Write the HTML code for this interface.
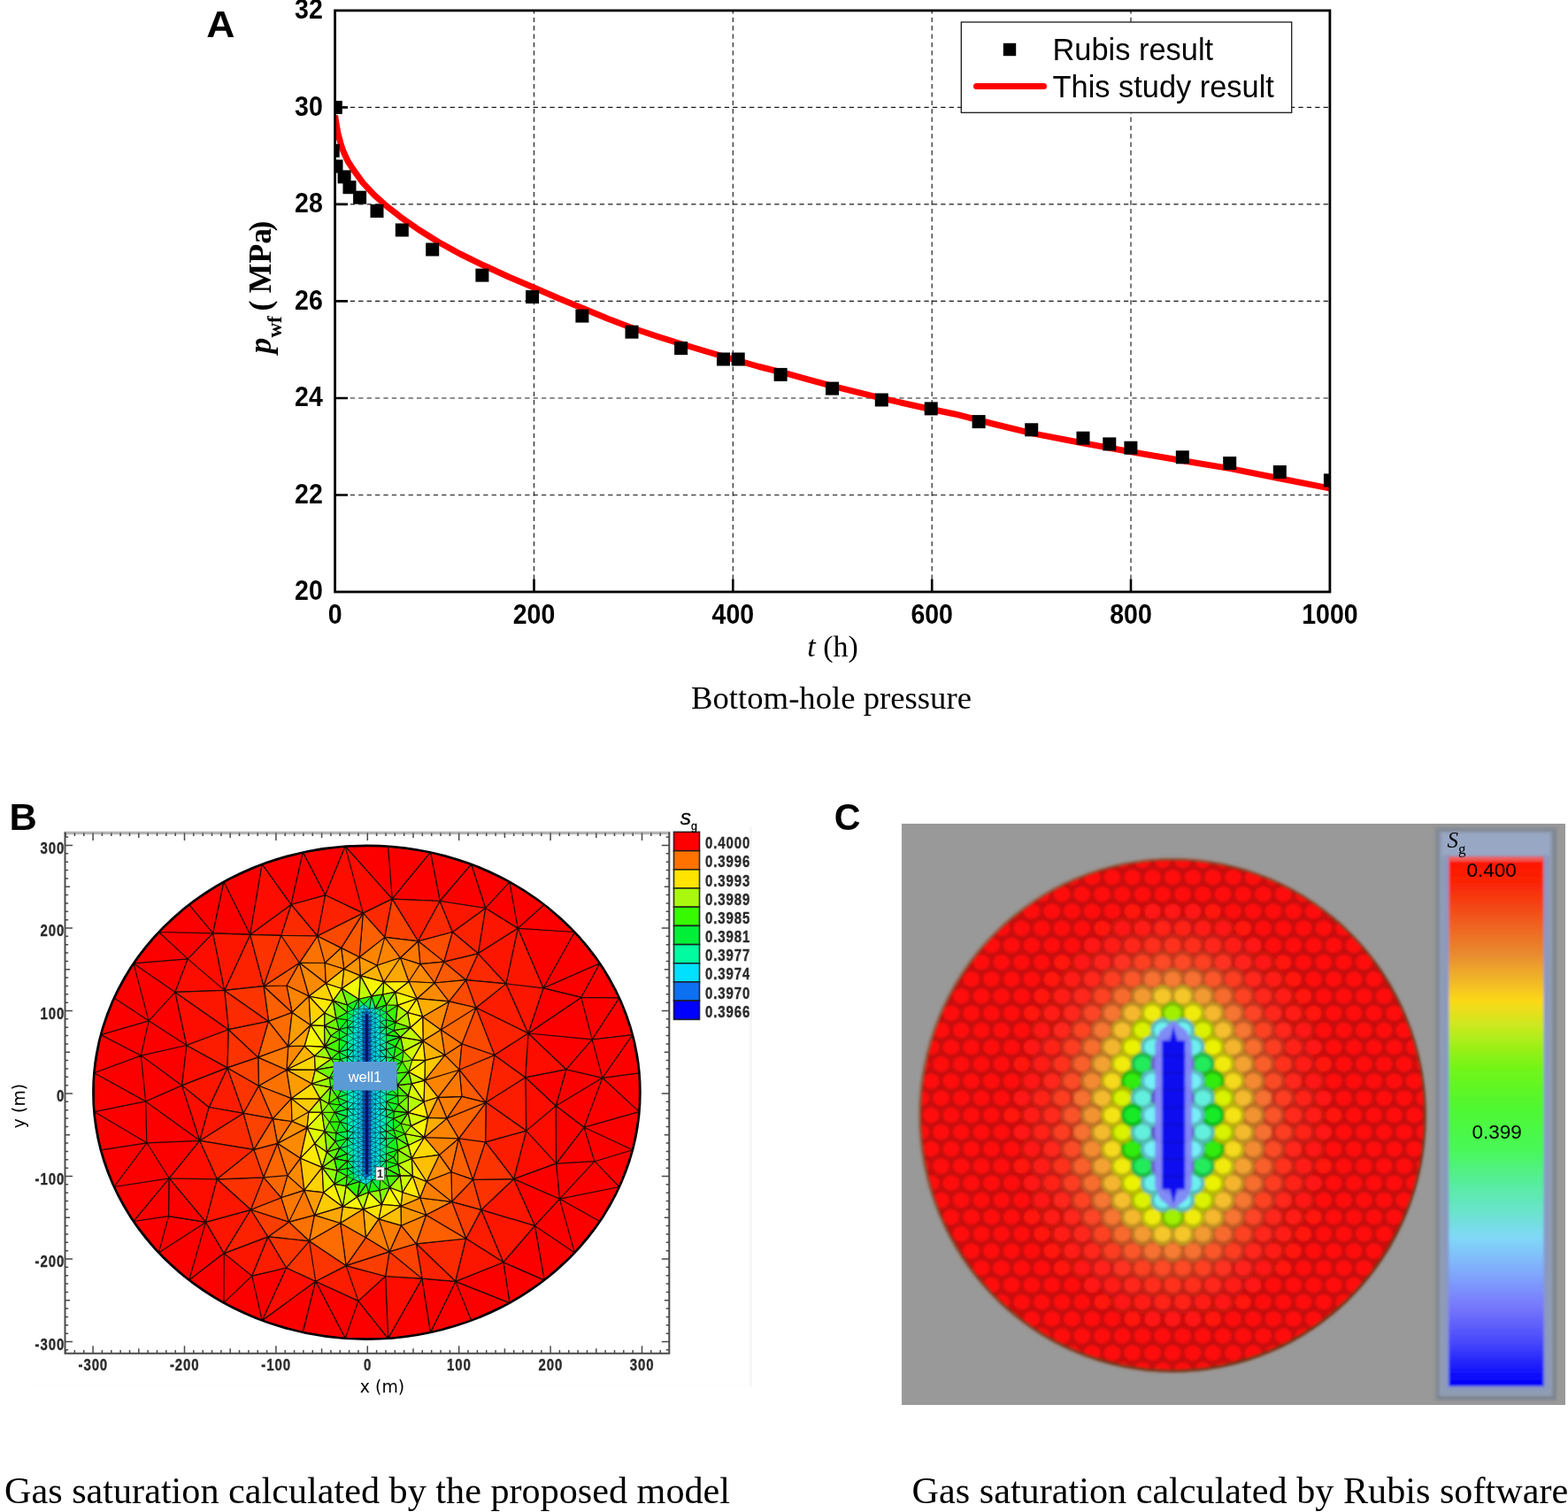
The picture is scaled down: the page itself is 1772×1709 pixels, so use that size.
<!DOCTYPE html>
<html lang="en"><head><meta charset="utf-8"><title>Figure</title>
<style>html,body{margin:0;padding:0;background:#fff;overflow:hidden}svg{display:block}text{fill:#000}</style>
</head>
<body>
<svg width="1772" height="1709" viewBox="0 0 1772 1709">
<rect width="1772" height="1709" fill="#fff"/>
<g id="panelA">
<path d="M603.5 11.9V669.0M828.3 11.9V669.0M1053.2 11.9V669.0M1278.0 11.9V669.0M378.6 121.4H1502.9M378.6 230.9H1502.9M378.6 340.4H1502.9M378.6 450.0H1502.9M378.6 559.5H1502.9" fill="none" stroke="#1a1a1a" stroke-width="1.15" stroke-dasharray="5.3 4.1" stroke-dashoffset="1.6"/>
<path d="M603.5 669.0v-14.4M828.3 669.0v-14.4M1053.2 669.0v-14.4M1278.0 669.0v-14.4M378.6 121.4h14.4M378.6 230.9h14.4M378.6 340.4h14.4M378.6 450.0h14.4M378.6 559.5h14.4" fill="none" stroke="#000" stroke-width="2.6"/>
<clipPath id="clipA"><rect x="378.6" y="11.9" width="1124.3" height="657.1"/></clipPath>
<g clip-path="url(#clipA)">
<path d="M378.6 130.5 L380.2 141.0 L382.0 150.8 L384.8 161.5 L388.0 171.0 L393.0 182.0 L399.0 191.4 L410.0 206.5 L422.6 220.2 L437.0 233.0 L453.0 245.6 L473.0 259.5 L495.4 273.5 L520.0 287.0 L546.2 299.8 L575.0 313.0 L603.8 325.2 L632.0 337.5 L660.0 348.9 L687.0 360.3 L714.5 370.8 L742.0 380.0 L769.0 388.5 L799.0 397.5 L828.7 406.2 L858.0 414.5 L888.0 421.9 L913.0 428.8 L938.0 435.6 L968.0 443.2 L997.6 450.4 L1038.0 459.5 L1080.0 468.2 L1122.0 479.0 L1165.7 489.6 L1222.0 500.5 L1278.7 510.8 L1334.0 520.2 L1390.4 529.6 L1446.0 540.8 L1504.5 552.3" fill="none" stroke="#ff0000" stroke-width="7" stroke-linejoin="round" stroke-linecap="butt"/>
<rect x="371.8" y="113.9" width="15.0" height="15.0" fill="#000"/>
<rect x="368.7" y="162.8" width="15.0" height="15.0" fill="#000"/>
<rect x="372.5" y="180.5" width="15.0" height="15.0" fill="#000"/>
<rect x="381.6" y="192.4" width="15.0" height="15.0" fill="#000"/>
<rect x="387.5" y="204.2" width="15.0" height="15.0" fill="#000"/>
<rect x="399.1" y="215.7" width="15.0" height="15.0" fill="#000"/>
<rect x="418.5" y="231.0" width="15.0" height="15.0" fill="#000"/>
<rect x="446.8" y="252.5" width="15.0" height="15.0" fill="#000"/>
<rect x="481.2" y="274.5" width="15.0" height="15.0" fill="#000"/>
<rect x="537.4" y="303.6" width="15.0" height="15.0" fill="#000"/>
<rect x="594.1" y="328.1" width="15.0" height="15.0" fill="#000"/>
<rect x="650.4" y="349.6" width="15.0" height="15.0" fill="#000"/>
<rect x="706.5" y="367.7" width="15.0" height="15.0" fill="#000"/>
<rect x="762.1" y="386.1" width="15.0" height="15.0" fill="#000"/>
<rect x="810.0" y="398.5" width="15.0" height="15.0" fill="#000"/>
<rect x="826.7" y="398.5" width="15.0" height="15.0" fill="#000"/>
<rect x="874.6" y="415.9" width="15.0" height="15.0" fill="#000"/>
<rect x="933.0" y="431.6" width="15.0" height="15.0" fill="#000"/>
<rect x="988.8" y="444.5" width="15.0" height="15.0" fill="#000"/>
<rect x="1044.7" y="454.4" width="15.0" height="15.0" fill="#000"/>
<rect x="1098.6" y="469.1" width="15.0" height="15.0" fill="#000"/>
<rect x="1158.2" y="478.3" width="15.0" height="15.0" fill="#000"/>
<rect x="1216.5" y="487.7" width="15.0" height="15.0" fill="#000"/>
<rect x="1246.3" y="494.4" width="15.0" height="15.0" fill="#000"/>
<rect x="1270.4" y="498.7" width="15.0" height="15.0" fill="#000"/>
<rect x="1328.8" y="509.3" width="15.0" height="15.0" fill="#000"/>
<rect x="1382.2" y="516.1" width="15.0" height="15.0" fill="#000"/>
<rect x="1438.8" y="526.0" width="15.0" height="15.0" fill="#000"/>
<rect x="1495.9" y="535.4" width="15.0" height="15.0" fill="#000"/>
</g>
<rect x="378.6" y="11.9" width="1124.3" height="657.1" fill="none" stroke="#000" stroke-width="2.8"/>
<text transform="translate(364.8,21.2) scale(1,1.09)" text-anchor="end" style="font-family:'Liberation Sans', Arial, Helvetica, sans-serif;font-weight:bold;font-size:28.5px">32</text>
<text transform="translate(364.8,130.7) scale(1,1.09)" text-anchor="end" style="font-family:'Liberation Sans', Arial, Helvetica, sans-serif;font-weight:bold;font-size:28.5px">30</text>
<text transform="translate(364.8,240.2) scale(1,1.09)" text-anchor="end" style="font-family:'Liberation Sans', Arial, Helvetica, sans-serif;font-weight:bold;font-size:28.5px">28</text>
<text transform="translate(364.8,349.8) scale(1,1.09)" text-anchor="end" style="font-family:'Liberation Sans', Arial, Helvetica, sans-serif;font-weight:bold;font-size:28.5px">26</text>
<text transform="translate(364.8,459.3) scale(1,1.09)" text-anchor="end" style="font-family:'Liberation Sans', Arial, Helvetica, sans-serif;font-weight:bold;font-size:28.5px">24</text>
<text transform="translate(364.8,568.8) scale(1,1.09)" text-anchor="end" style="font-family:'Liberation Sans', Arial, Helvetica, sans-serif;font-weight:bold;font-size:28.5px">22</text>
<text transform="translate(364.8,678.3) scale(1,1.09)" text-anchor="end" style="font-family:'Liberation Sans', Arial, Helvetica, sans-serif;font-weight:bold;font-size:28.5px">20</text>
<text transform="translate(378.6,705.4) scale(1,1.09)" text-anchor="middle" style="font-family:'Liberation Sans', Arial, Helvetica, sans-serif;font-weight:bold;font-size:28.5px">0</text>
<text transform="translate(603.5,705.4) scale(1,1.09)" text-anchor="middle" style="font-family:'Liberation Sans', Arial, Helvetica, sans-serif;font-weight:bold;font-size:28.5px">200</text>
<text transform="translate(828.3,705.4) scale(1,1.09)" text-anchor="middle" style="font-family:'Liberation Sans', Arial, Helvetica, sans-serif;font-weight:bold;font-size:28.5px">400</text>
<text transform="translate(1053.2,705.4) scale(1,1.09)" text-anchor="middle" style="font-family:'Liberation Sans', Arial, Helvetica, sans-serif;font-weight:bold;font-size:28.5px">600</text>
<text transform="translate(1278.0,705.4) scale(1,1.09)" text-anchor="middle" style="font-family:'Liberation Sans', Arial, Helvetica, sans-serif;font-weight:bold;font-size:28.5px">800</text>
<text transform="translate(1502.9,705.4) scale(1,1.09)" text-anchor="middle" style="font-family:'Liberation Sans', Arial, Helvetica, sans-serif;font-weight:bold;font-size:28.5px">1000</text>
<text x="941" y="742.3" text-anchor="middle" style="font-family:'Liberation Serif', 'Times New Roman', Times, serif;font-size:34px"><tspan font-style="italic">t</tspan> (h)</text>
<text transform="translate(305.6,0) rotate(-90)" style="font-family:'Liberation Serif', 'Times New Roman', Times, serif;font-weight:bold;font-size:35.6px"><tspan x="-399.6" font-style="italic">p</tspan><tspan x="-381.6" dy="12.1" font-size="23px">wf</tspan><tspan x="-351.6" dy="-12.1">( </tspan><tspan x="-331.2">MPa</tspan><tspan x="-261.6">)</tspan></text>
<rect x="1086.3" y="25" width="373.4" height="102.3" fill="#fff" stroke="#1a1a1a" stroke-width="1.3"/>
<rect x="1133.8" y="48.8" width="14.4" height="14.4" fill="#000"/>
<path d="M1103.5 97.6H1179.5" stroke="#ff0000" stroke-width="7" stroke-linecap="round" fill="none"/>
<text x="1189.5" y="68.3" style="font-family:'Liberation Sans', Arial, Helvetica, sans-serif;font-size:34.4px">Rubis result</text>
<text x="1189.5" y="109.8" style="font-family:'Liberation Sans', Arial, Helvetica, sans-serif;font-size:34.4px">This study result</text>
<text transform="translate(233.2,42.1) scale(1.03,1)" style="font-family:'Liberation Sans', Arial, Helvetica, sans-serif;font-weight:bold;font-size:43.3px">A</text>
<text x="939.5" y="801.4" text-anchor="middle" style="font-family:'Liberation Serif', 'Times New Roman', Times, serif;font-size:36.7px">Bottom-hole pressure</text>
</g>
<g id="panelB">
<filter id="blB" x="-2%" y="-2%" width="104%" height="104%"><feGaussianBlur stdDeviation="0.7"/></filter>
<g filter="url(#blB)">
<clipPath id="clipB"><ellipse cx="414.4" cy="1234.7" rx="309.0" ry="279.0"/></clipPath>
<ellipse cx="414.4" cy="1234.7" rx="309.0" ry="279.0" fill="#ff0000"/>
<g clip-path="url(#clipB)" stroke="#260c00" stroke-linejoin="round">
<g stroke-width="1.2" stroke="#200800">
<path fill="#fc0000" d="M168.1 1153.8L113.9 1169.6 128.9 1127.9zM367.6 1011.8L342.3 963.4 390.2 956.6zM443.2 1016.1L438.6 956.6 486.5 963.4zM438.6 956.6L443.2 1016.1 390.2 956.6zM164.6 1244.9L165.9 1291.8 106.4 1256.6zM225.8 1289.3L164.6 1244.9 205.7 1226.9zM165.9 1291.8L164.6 1244.9 225.8 1289.3zM150.9 1088.9L168.1 1153.8 128.9 1127.9zM191.2 1331.8L165.9 1291.8 225.8 1289.3zM191.2 1331.8L128.9 1341.5 165.9 1291.8zM669.2 1174.8L699.9 1127.9 714.9 1169.6zM585.2 1049.3L575.9 996.8 615.1 1022.5zM585.2 1049.3L615.1 1022.5 649.4 1053.5zM106.4 1212.8L164.6 1244.9 106.4 1256.6zM212.3 1083.9L150.9 1088.9 179.4 1053.5zM342.3 963.4L329.0 1022.5 296.2 976.9zM165.9 1291.8L113.9 1299.8 106.4 1256.6zM128.9 1341.5L113.9 1299.8 165.9 1291.8zM191.2 1331.8L150.9 1380.5 128.9 1341.5zM722.4 1212.8L680.8 1218.3 714.9 1169.6zM680.8 1218.3L669.2 1174.8 714.9 1169.6zM680.8 1218.3L722.4 1212.8 722.4 1256.6zM656.8 1127.4L677.9 1088.9 699.9 1127.9zM669.2 1174.8L656.8 1127.4 699.9 1127.9zM575.9 996.8L548.6 1026.5 532.6 976.9zM585.2 1049.3L548.6 1026.5 575.9 996.8zM438.6 1512.8L477.0 1445.1 486.5 1506.0zM615.1 1446.9L575.9 1472.6 568.9 1426.7zM615.1 1446.9L604.4 1385.4 649.4 1415.9zM514.8 1448.4L532.6 1492.5 486.5 1506.0zM575.9 1472.6L532.6 1492.5 514.8 1448.4zM714.9 1299.8L699.9 1341.5 671.9 1312.7zM604.4 1385.4L632.4 1355.1 649.4 1415.9zM699.9 1341.5L632.4 1355.1 671.9 1312.7zM632.4 1355.1L628.6 1315.1 671.9 1312.7zM106.4 1212.8L159.3 1193.1 164.6 1244.9zM210.9 1181.5L159.3 1193.1 168.1 1153.8zM168.1 1153.8L159.3 1193.1 113.9 1169.6zM159.3 1193.1L106.4 1212.8 113.9 1169.6zM164.6 1244.9L159.3 1193.1 205.7 1226.9zM159.3 1193.1L210.9 1181.5 205.7 1226.9zM213.7 1022.5L240.7 1054.8 179.4 1053.5zM240.7 1054.8L212.3 1083.9 179.4 1053.5zM240.7 1054.8L213.7 1022.5 252.9 996.8zM150.9 1088.9L198.0 1121.4 168.1 1153.8zM212.3 1083.9L198.0 1121.4 150.9 1088.9zM198.0 1121.4L210.9 1181.5 168.1 1153.8zM628.6 1315.1L660.1 1274.2 671.9 1312.7zM660.1 1274.2L680.8 1218.3 722.4 1256.6zM714.9 1299.8L660.1 1274.2 722.4 1256.6zM660.1 1274.2L714.9 1299.8 671.9 1312.7zM614.0 1116.9L585.2 1049.3 649.4 1053.5zM677.9 1088.9L614.0 1116.9 649.4 1053.5zM656.8 1127.4L614.0 1116.9 677.9 1088.9zM632.4 1355.1L677.9 1380.5 649.4 1415.9zM677.9 1380.5L632.4 1355.1 699.9 1341.5zM296.2 976.9L282.7 1056.4 252.9 996.8zM150.9 1380.5L190.6 1374.7 179.4 1415.9zM190.6 1374.7L232.5 1381.4 179.4 1415.9zM190.6 1374.7L150.9 1380.5 191.2 1331.8zM660.1 1274.2L628.2 1250.0 680.8 1218.3zM497.2 1018.5L486.5 963.4 532.6 976.9zM232.5 1381.4L213.7 1446.9 179.4 1415.9zM253.2 1416.6L213.7 1446.9 232.5 1381.4zM404.9 1470.4L438.6 1512.8 390.2 1512.8zM680.8 1218.3L639.8 1208.8 669.2 1174.8zM628.2 1250.0L639.8 1208.8 680.8 1218.3zM639.8 1208.8L596.9 1168.0 669.2 1174.8zM596.9 1168.0L656.8 1127.4 669.2 1174.8zM356.7 1448.2L404.9 1470.4 390.2 1512.8zM356.7 1448.2L342.3 1506.0 296.2 1492.5z"/>
<path fill="#fc0c00" d="M410.3 1032.1L367.6 1011.8 390.2 956.6zM443.2 1016.1L410.3 1032.1 390.2 956.6zM628.6 1315.1L580.6 1332.6 594.7 1278.1zM329.0 1022.5L282.7 1056.4 296.2 976.9zM253.7 1119.4L198.0 1121.4 212.3 1083.9zM240.7 1054.8L253.7 1119.4 212.3 1083.9zM245.3 1332.8L191.2 1331.8 225.8 1289.3zM245.3 1332.8L232.5 1381.4 191.2 1331.8zM435.6 1442.5L477.0 1445.1 438.6 1512.8zM593.7 1217.8L628.2 1250.0 594.7 1278.1zM628.2 1250.0L628.6 1315.1 594.7 1278.1zM210.9 1181.5L257.0 1206.9 205.7 1226.9zM198.0 1121.4L258.3 1163.7 210.9 1181.5zM596.9 1168.0L639.8 1208.8 593.7 1217.8zM236.2 1251.5L225.8 1289.3 205.7 1226.9zM323.6 1433.0L356.7 1448.2 296.2 1492.5z"/>
<path fill="#fc0600" d="M575.9 1472.6L514.8 1448.4 568.9 1426.7zM367.6 1011.8L329.0 1022.5 342.3 963.4zM477.0 1445.1L514.8 1448.4 486.5 1506.0zM604.4 1385.4L615.1 1446.9 568.9 1426.7zM580.6 1332.6L632.4 1355.1 604.4 1385.4zM632.4 1355.1L580.6 1332.6 628.6 1315.1zM282.7 1056.4L240.7 1054.8 252.9 996.8zM232.5 1381.4L190.6 1374.7 191.2 1331.8zM628.2 1250.0L660.1 1274.2 628.6 1315.1zM548.6 1026.5L497.2 1018.5 532.6 976.9zM497.2 1018.5L443.2 1016.1 486.5 963.4zM404.9 1470.4L435.6 1442.5 438.6 1512.8zM639.8 1208.8L628.2 1250.0 593.7 1217.8zM596.9 1168.0L614.0 1116.9 656.8 1127.4zM252.9 1472.6L213.7 1446.9 253.2 1416.6zM284.8 1442.1L252.9 1472.6 253.2 1416.6zM284.8 1442.1L323.6 1433.0 296.2 1492.5zM252.9 1472.6L284.8 1442.1 296.2 1492.5zM342.3 1506.0L356.7 1448.2 390.2 1512.8z"/>
<path fill="#fc1e00" d="M549.1 1246.1L593.7 1217.8 594.7 1278.1zM358.8 1058.0L329.0 1022.5 367.6 1011.8zM580.6 1332.6L548.6 1290.8 594.7 1278.1zM258.3 1163.7L257.0 1206.9 210.9 1181.5zM435.6 1442.5L404.9 1470.4 391.1 1430.6zM571.9 1111.9L596.9 1168.0 538.0 1139.0zM497.2 1018.5L472.5 1063.8 443.2 1016.1zM526.7 1400.0L543.9 1367.4 568.9 1426.7zM275.1 1258.3L236.2 1251.5 257.0 1206.9zM284.8 1442.1L302.8 1397.9 323.6 1433.0zM404.9 1470.4L356.7 1448.2 391.1 1430.6z"/>
<path fill="#fc2a00" d="M443.2 1016.1L434.8 1059.4 410.3 1032.1zM540.3 1077.8L571.9 1111.9 526.6 1107.7zM470.4 1405.8L526.7 1400.0 514.8 1448.4zM358.8 1058.0L317.7 1057.4 329.0 1022.5zM472.5 1063.8L497.2 1018.5 511.4 1053.5zM303.5 1154.4L258.3 1163.7 253.7 1119.4zM275.1 1258.3L286.8 1299.4 225.8 1289.3z"/>
<path fill="#fc4e00" d="M297.9 1330.9L286.8 1299.4 313.6 1292.4zM501.8 1087.1L472.5 1063.8 511.4 1053.5zM413.4 1398.8L440.1 1414.9 391.1 1430.6zM326.6 1381.1L349.6 1402.8 302.8 1397.9z"/>
<path fill="#fc1200" d="M540.3 1077.8L548.6 1026.5 585.2 1049.3zM253.2 1416.6L232.5 1381.4 283.5 1367.3zM614.0 1116.9L571.9 1111.9 585.2 1049.3zM596.9 1168.0L571.9 1111.9 614.0 1116.9zM543.9 1367.4L604.4 1385.4 568.9 1426.7zM257.0 1206.9L236.2 1251.5 205.7 1226.9zM302.8 1397.9L284.8 1442.1 253.2 1416.6z"/>
<path fill="#fc2400" d="M540.3 1077.8L511.4 1053.5 548.6 1026.5zM253.7 1119.4L282.7 1056.4 298.0 1114.7zM358.8 1058.0L367.6 1011.8 410.3 1032.1zM286.8 1299.4L245.3 1332.8 225.8 1289.3zM548.6 1290.8L549.1 1246.1 594.7 1278.1zM477.0 1445.1L470.4 1405.8 514.8 1448.4zM302.8 1397.9L253.2 1416.6 283.5 1367.3zM596.9 1168.0L558.8 1192.6 538.0 1139.0zM549.1 1246.1L558.8 1192.6 593.7 1217.8z"/>
<path fill="#fc7200" d="M522.0 1179.9L519.1 1209.2 502.7 1192.6zM323.9 1114.0L338.4 1088.3 349.2 1126.0zM358.8 1058.0L385.6 1071.4 367.2 1088.5zM338.4 1088.3L358.8 1058.0 367.2 1088.5zM509.9 1324.7L496.4 1305.4 518.5 1286.8zM308.3 1264.4L330.0 1267.5 313.6 1292.4zM323.9 1209.2L329.2 1241.6 292.4 1227.2zM355.5 1373.4L349.6 1402.8 326.6 1381.1z"/>
<path fill="#fc8400" d="M519.1 1209.2L479.9 1221.1 502.7 1192.6zM505.0 1264.1L518.5 1286.8 479.5 1285.7zM510.7 1358.4L481.6 1373.3 474.7 1354.0zM368.3 1111.5L338.4 1088.3 367.2 1088.5zM518.5 1286.8L496.4 1305.4 479.5 1285.7zM426.1 1091.2L434.8 1059.4 452.4 1082.5zM426.1 1091.2L406.2 1081.8 434.8 1059.4zM406.2 1081.8L388.7 1095.2 385.6 1071.4zM330.0 1267.5L308.3 1264.4 329.2 1241.6zM330.1 1144.4L323.9 1114.0 349.2 1126.0zM519.1 1209.2L495.1 1240.3 479.9 1221.1zM355.5 1373.4L384.7 1382.5 349.6 1402.8z"/>
<path fill="#fc6000" d="M509.9 1324.7L518.5 1286.8 534.5 1333.4zM526.7 1400.0L470.4 1405.8 481.6 1373.3zM434.8 1059.4L406.2 1081.8 410.3 1032.1zM286.8 1299.4L308.3 1264.4 313.6 1292.4zM474.9 1089.6L472.5 1063.8 501.8 1087.1zM330.1 1144.4L303.5 1154.4 298.0 1114.7zM291.7 1195.1L323.9 1209.2 292.4 1227.2z"/>
<path fill="#fc1800" d="M282.7 1056.4L253.7 1119.4 240.7 1054.8zM232.5 1381.4L245.3 1332.8 283.5 1367.3zM571.9 1111.9L540.3 1077.8 585.2 1049.3zM511.4 1053.5L497.2 1018.5 548.6 1026.5zM514.8 1448.4L526.7 1400.0 568.9 1426.7zM317.7 1057.4L282.7 1056.4 329.0 1022.5zM253.7 1119.4L258.3 1163.7 198.0 1121.4zM543.9 1367.4L580.6 1332.6 604.4 1385.4zM558.8 1192.6L596.9 1168.0 593.7 1217.8zM236.2 1251.5L275.1 1258.3 225.8 1289.3z"/>
<path fill="#fc5a00" d="M338.4 1088.3L323.9 1114.0 298.0 1114.7zM491.1 1111.0L501.8 1087.1 526.6 1107.7zM510.7 1358.4L509.9 1324.7 534.5 1333.4zM406.2 1081.8L385.6 1071.4 410.3 1032.1zM521.9 1239.3L519.1 1209.2 549.1 1246.1zM323.9 1114.0L330.1 1144.4 298.0 1114.7z"/>
<path fill="#fc4800" d="M385.6 1071.4L358.8 1058.0 410.3 1032.1zM518.5 1286.8L548.6 1290.8 534.5 1333.4zM548.6 1290.8L518.5 1286.8 549.1 1246.1zM538.0 1139.0L507.4 1131.9 526.6 1107.7zM538.0 1139.0L558.8 1192.6 522.0 1179.9zM558.8 1192.6L519.1 1209.2 522.0 1179.9zM519.1 1209.2L558.8 1192.6 549.1 1246.1zM308.3 1264.4L275.1 1258.3 292.4 1227.2z"/>
<path fill="#fc3000" d="M245.3 1332.8L297.9 1330.9 283.5 1367.3zM501.8 1087.1L511.4 1053.5 540.3 1077.8zM282.7 1056.4L317.7 1057.4 298.0 1114.7zM580.6 1332.6L543.9 1367.4 534.5 1333.4zM258.3 1163.7L291.7 1195.1 257.0 1206.9z"/>
<path fill="#fc3600" d="M297.9 1330.9L245.3 1332.8 286.8 1299.4zM571.9 1111.9L538.0 1139.0 526.6 1107.7zM548.6 1290.8L580.6 1332.6 534.5 1333.4zM303.5 1154.4L253.7 1119.4 298.0 1114.7zM435.6 1442.5L440.1 1414.9 477.0 1445.1zM275.1 1258.3L257.0 1206.9 292.4 1227.2zM303.5 1154.4L291.7 1195.1 258.3 1163.7zM302.8 1397.9L349.6 1402.8 323.6 1433.0zM349.6 1402.8L356.7 1448.2 323.6 1433.0zM356.7 1448.2L349.6 1402.8 391.1 1430.6z"/>
<path fill="#fc6600" d="M325.0 1328.6L297.9 1330.9 313.6 1292.4zM518.5 1286.8L505.0 1264.1 549.1 1246.1zM505.0 1264.1L521.9 1239.3 549.1 1246.1zM329.2 1241.6L308.3 1264.4 292.4 1227.2zM474.9 1089.6L501.8 1087.1 491.1 1111.0zM470.4 1405.8L440.1 1414.9 453.4 1385.2zM325.7 1182.6L291.7 1195.1 303.5 1154.4zM325.0 1328.6L317.8 1353.8 297.9 1330.9zM498.3 1164.0L538.0 1139.0 522.0 1179.9zM498.3 1164.0L507.4 1131.9 538.0 1139.0zM384.7 1382.5L413.4 1398.8 391.1 1430.6z"/>
<path fill="#fc3c00" d="M501.8 1087.1L540.3 1077.8 526.6 1107.7zM510.7 1358.4L543.9 1367.4 526.7 1400.0zM440.1 1414.9L435.6 1442.5 391.1 1430.6zM326.6 1381.1L302.8 1397.9 283.5 1367.3z"/>
<path fill="#fcb400" d="M480.4 1198.7L478.1 1176.6 502.7 1192.6zM428.1 1377.9L413.4 1398.8 410.5 1366.8zM348.9 1256.8L330.0 1267.5 329.2 1241.6zM330.0 1267.5L348.9 1256.8 347.0 1274.6zM407.4 1102.9L426.1 1091.2 433.7 1109.9zM477.7 1149.2L498.3 1164.0 478.1 1176.6zM323.9 1209.2L344.1 1182.2 355.5 1193.5z"/>
<path fill="#fcc600" d="M479.9 1221.1L480.4 1198.7 502.7 1192.6zM466.2 1329.1L482.1 1335.5 474.7 1354.0zM384.7 1382.5L387.3 1363.9 410.5 1366.8z"/>
<path fill="#fc7e00" d="M481.6 1373.3L470.4 1405.8 453.4 1385.2zM482.1 1335.5L510.7 1358.4 474.7 1354.0zM440.1 1414.9L428.1 1377.9 453.4 1385.2zM428.1 1377.9L440.1 1414.9 413.4 1398.8zM495.1 1240.3L521.9 1239.3 505.0 1264.1zM343.9 1345.4L317.8 1353.8 325.0 1328.6z"/>
<path fill="#f0fc00" d="M465.3 1309.5L461.4 1294.5 479.5 1285.7zM348.9 1256.8L363.9 1257.2 347.0 1274.6zM449.2 1136.4L446.8 1121.3 471.2 1128.7zM407.4 1102.9L405.6 1129.4 386.2 1117.3zM410.5 1366.8L416.7 1347.5 431.5 1361.5zM479.1 1245.3L465.2 1224.9 479.9 1221.1zM344.1 1182.2L367.1 1183.1 355.5 1193.5z"/>
<path fill="#fc5400" d="M510.7 1358.4L526.7 1400.0 481.6 1373.3zM317.8 1353.8L326.6 1381.1 283.5 1367.3z"/>
<path fill="#defc00" d="M347.0 1274.6L367.0 1278.7 355.6 1292.6zM363.9 1257.2L367.0 1278.7 347.0 1274.6zM355.6 1292.6L369.5 1302.2 364.1 1319.6zM446.8 1121.3L432.5 1124.0 433.7 1109.9zM367.1 1183.1L350.9 1158.7 366.6 1159.3z"/>
<path fill="#96fc00" d="M367.0 1278.7L363.9 1257.2 372.4 1268.2zM392.5 1136.0L376.4 1131.1 386.2 1117.3z"/>
<path fill="#fc4200" d="M317.7 1057.4L358.8 1058.0 338.4 1088.3zM317.7 1057.4L338.4 1088.3 298.0 1114.7zM472.5 1063.8L434.8 1059.4 443.2 1016.1zM543.9 1367.4L510.7 1358.4 534.5 1333.4zM440.1 1414.9L470.4 1405.8 477.0 1445.1zM275.1 1258.3L308.3 1264.4 286.8 1299.4zM257.0 1206.9L291.7 1195.1 292.4 1227.2zM297.9 1330.9L317.8 1353.8 283.5 1367.3z"/>
<path fill="#fc8a00" d="M338.4 1088.3L368.3 1111.5 349.2 1126.0zM347.0 1274.6L339.5 1309.2 313.6 1292.4zM482.1 1335.5L496.4 1305.4 509.9 1324.7zM507.4 1131.9L471.2 1128.7 491.1 1111.0zM461.9 1109.5L474.9 1089.6 491.1 1111.0zM474.9 1089.6L461.9 1109.5 452.4 1082.5zM385.6 1071.4L388.7 1095.2 367.2 1088.5zM483.8 1263.4L495.1 1240.3 505.0 1264.1zM498.3 1164.0L477.7 1149.2 507.4 1131.9zM344.1 1182.2L323.9 1209.2 325.7 1182.6zM339.5 1309.2L343.9 1345.4 325.0 1328.6z"/>
<path fill="#fca800" d="M461.9 1109.5L433.7 1109.9 452.4 1082.5zM433.7 1109.9L426.1 1091.2 452.4 1082.5zM355.5 1373.4L387.3 1363.9 384.7 1382.5z"/>
<path fill="#fc7800" d="M339.5 1309.2L325.0 1328.6 313.6 1292.4zM510.7 1358.4L482.1 1335.5 509.9 1324.7zM472.5 1063.8L474.9 1089.6 452.4 1082.5zM323.9 1209.2L291.7 1195.1 325.7 1182.6zM521.9 1239.3L495.1 1240.3 519.1 1209.2zM498.3 1164.0L522.0 1179.9 502.7 1192.6zM343.9 1345.4L326.6 1381.1 317.8 1353.8zM343.9 1345.4L355.5 1373.4 326.6 1381.1z"/>
<path fill="#fce400" d="M339.5 1309.2L347.0 1274.6 355.6 1292.6zM428.1 1377.9L410.5 1366.8 431.5 1361.5zM482.1 1335.5L466.2 1329.1 465.3 1309.5z"/>
<path fill="#fcea00" d="M339.5 1309.2L355.6 1292.6 364.1 1319.6zM480.4 1198.7L465.7 1198.2 478.1 1176.6zM454.8 1347.8L466.2 1329.1 474.7 1354.0zM463.7 1161.5L477.7 1149.2 478.1 1176.6zM471.2 1128.7L477.7 1149.2 460.6 1144.5zM376.4 1131.1L366.8 1145.0 349.2 1126.0z"/>
<path fill="#84fc00" d="M431.5 1361.5L429.0 1345.3 440.4 1342.2zM377.8 1309.6L381.0 1323.1 364.1 1319.6zM452.9 1270.1L461.2 1257.7 464.5 1272.6zM374.5 1196.7L379.6 1205.3 356.3 1209.3zM436.5 1136.0L432.5 1124.0 446.8 1121.3z"/>
<path fill="#f6f600" d="M453.0 1363.2L431.5 1361.5 440.4 1342.2zM464.5 1272.6L483.8 1263.4 479.5 1285.7zM407.4 1102.9L433.7 1109.9 419.9 1126.1zM367.1 1183.1L344.1 1182.2 350.9 1158.7zM387.3 1363.9L403.7 1352.8 410.5 1366.8z"/>
<path fill="#fc9600" d="M453.0 1363.2L481.6 1373.3 453.4 1385.2zM407.4 1102.9L388.7 1095.2 406.2 1081.8zM350.9 1158.7L330.1 1144.4 349.2 1126.0zM478.1 1176.6L498.3 1164.0 502.7 1192.6zM413.4 1398.8L384.7 1382.5 410.5 1366.8z"/>
<path fill="#fc9000" d="M481.6 1373.3L453.0 1363.2 474.7 1354.0zM388.7 1095.2L368.3 1111.5 367.2 1088.5zM330.0 1267.5L347.0 1274.6 313.6 1292.4z"/>
<path fill="#fc6c00" d="M507.4 1131.9L491.1 1111.0 526.6 1107.7zM434.8 1059.4L472.5 1063.8 452.4 1082.5zM330.1 1144.4L325.7 1182.6 303.5 1154.4zM349.6 1402.8L384.7 1382.5 391.1 1430.6z"/>
<path fill="#bafc00" d="M461.4 1294.5L457.5 1281.5 479.5 1285.7zM466.2 1329.1L452.1 1328.9 449.6 1316.0zM456.0 1188.4L452.6 1172.1 478.1 1176.6zM403.7 1352.8L416.7 1347.5 410.5 1366.8z"/>
<path fill="#c6fc00" d="M457.5 1281.5L464.5 1272.6 479.5 1285.7zM465.3 1309.5L466.2 1329.1 449.6 1316.0zM465.2 1224.9L461.7 1211.5 479.9 1221.1zM380.0 1151.2L366.8 1145.0 376.4 1131.1z"/>
<path fill="#48f606" d="M436.5 1329.2L452.1 1328.9 440.4 1342.2zM452.9 1270.1L444.5 1264.3 461.2 1257.7zM456.0 1188.4L447.0 1183.1 452.6 1172.1zM403.7 1352.8L413.9 1338.7 416.7 1347.5z"/>
<path fill="#fcd800" d="M496.4 1305.4L465.3 1309.5 479.5 1285.7zM323.9 1209.2L355.5 1193.5 356.3 1209.3z"/>
<path fill="#fcc000" d="M496.4 1305.4L482.1 1335.5 465.3 1309.5zM428.1 1377.9L453.0 1363.2 453.4 1385.2zM453.0 1363.2L454.8 1347.8 474.7 1354.0zM388.7 1095.2L407.4 1102.9 386.2 1117.3zM352.4 1225.0L323.9 1209.2 356.3 1209.3z"/>
<path fill="#f6f000" d="M461.7 1211.5L480.4 1198.7 479.9 1221.1z"/>
<path fill="#eafc00" d="M461.7 1211.5L465.7 1198.2 480.4 1198.7z"/>
<path fill="#c0fc00" d="M367.0 1278.7L369.5 1302.2 355.6 1292.6zM452.6 1172.1L463.7 1161.5 478.1 1176.6zM405.6 1129.4L407.4 1102.9 419.9 1126.1zM352.4 1225.0L373.7 1228.9 361.7 1241.9z"/>
<path fill="#7efc00" d="M369.5 1302.2L367.0 1278.7 379.1 1290.2zM465.2 1224.9L461.4 1238.8 449.0 1226.7zM383.3 1163.9L373.9 1171.0 366.6 1159.3z"/>
<path fill="#90fc00" d="M369.5 1302.2L377.8 1309.6 364.1 1319.6zM381.0 1323.1L377.9 1338.3 364.1 1319.6zM373.9 1171.0L367.1 1183.1 366.6 1159.3z"/>
<path fill="#54f606" d="M367.0 1278.7L380.1 1280.8 379.1 1290.2z"/>
<path fill="#0cf030" d="M378.1 1257.3L392.5 1262.0 384.1 1268.1z"/>
<path fill="#ccfc00" d="M363.9 1257.2L348.9 1256.8 361.7 1241.9zM352.4 1225.0L356.3 1209.3 372.6 1218.4zM466.2 1329.1L454.8 1347.8 452.1 1328.9zM403.7 1352.8L387.3 1363.9 391.1 1340.3z"/>
<path fill="#fccc00" d="M348.9 1256.8L329.2 1241.6 361.7 1241.9zM495.1 1240.3L479.1 1245.3 479.9 1221.1zM343.9 1345.4L339.5 1309.2 364.1 1319.6zM355.5 1373.4L365.6 1347.8 387.3 1363.9z"/>
<path fill="#66fc00" d="M405.6 1129.4L392.5 1136.0 386.2 1117.3z"/>
<path fill="#18f60c" d="M447.0 1155.7L436.5 1152.8 436.5 1144.4zM377.8 1309.6L383.9 1297.7 392.5 1304.0zM381.0 1323.1L392.5 1312.4 392.5 1320.8zM413.9 1338.7L403.7 1352.8 406.8 1335.5z"/>
<path fill="#0cf036" d="M452.6 1172.1L436.5 1178.0 436.5 1169.6zM391.1 1340.3L399.3 1332.7 406.8 1335.5z"/>
<path fill="#fca200" d="M471.2 1128.7L461.9 1109.5 491.1 1111.0zM350.9 1158.7L344.1 1182.2 325.7 1182.6z"/>
<path fill="#fcde00" d="M471.2 1128.7L446.8 1121.3 461.9 1109.5zM453.0 1363.2L428.1 1377.9 431.5 1361.5zM329.2 1241.6L352.4 1225.0 361.7 1241.9z"/>
<path fill="#fcf000" d="M461.9 1109.5L446.8 1121.3 433.7 1109.9zM376.4 1131.1L368.3 1111.5 386.2 1117.3zM449.2 1136.4L471.2 1128.7 460.6 1144.5zM479.1 1245.3L483.8 1263.4 461.2 1257.7zM477.7 1149.2L463.7 1161.5 460.6 1144.5zM387.3 1363.9L365.6 1347.8 377.9 1338.3z"/>
<path fill="#fcd200" d="M368.3 1111.5L388.7 1095.2 386.2 1117.3zM368.3 1111.5L376.4 1131.1 349.2 1126.0zM366.8 1145.0L350.9 1158.7 349.2 1126.0zM365.6 1347.8L343.9 1345.4 364.1 1319.6z"/>
<path fill="#a8fc00" d="M452.1 1328.9L454.8 1347.8 440.4 1342.2zM463.7 1161.5L447.0 1155.7 460.6 1144.5zM447.0 1155.7L449.2 1136.4 460.6 1144.5z"/>
<path fill="#f6fc00" d="M454.8 1347.8L453.0 1363.2 440.4 1342.2z"/>
<path fill="#d2fc00" d="M461.2 1257.7L483.8 1263.4 464.5 1272.6zM465.7 1198.2L456.0 1188.4 478.1 1176.6zM387.3 1363.9L377.9 1338.3 391.1 1340.3z"/>
<path fill="#fcae00" d="M483.8 1263.4L505.0 1264.1 479.5 1285.7zM477.7 1149.2L471.2 1128.7 507.4 1131.9z"/>
<path fill="#54f600" d="M447.7 1286.0L457.5 1281.5 461.4 1294.5zM383.9 1297.7L369.5 1302.2 379.1 1290.2zM371.5 1247.5L373.7 1228.9 381.6 1240.6z"/>
<path fill="#60fc00" d="M369.5 1302.2L383.9 1297.7 377.8 1309.6zM461.7 1211.5L465.2 1224.9 449.0 1226.7zM449.6 1300.0L447.7 1286.0 461.4 1294.5zM392.5 1144.4L376.4 1131.1 392.5 1136.0z"/>
<path fill="#06f04e" d="M392.5 1253.6L392.5 1262.0 378.1 1257.3z"/>
<path fill="#12f612" d="M452.6 1172.1L447.0 1183.1 436.5 1178.0z"/>
<path fill="#3cf606" d="M449.2 1136.4L447.0 1155.7 436.5 1144.4zM447.1 1213.1L461.7 1211.5 449.0 1226.7z"/>
<path fill="#b4fc00" d="M433.7 1109.9L432.5 1124.0 419.9 1126.1zM461.4 1238.8L479.1 1245.3 461.2 1257.7z"/>
<path fill="#36f606" d="M432.5 1124.0L424.1 1140.0 419.9 1126.1zM444.7 1308.0L449.6 1300.0 449.6 1316.0zM444.5 1264.3L445.1 1255.9 461.2 1257.7z"/>
<path fill="#fc9c00" d="M426.1 1091.2L407.4 1102.9 406.2 1081.8zM323.9 1209.2L352.4 1225.0 329.2 1241.6zM330.1 1144.4L350.9 1158.7 325.7 1182.6zM355.5 1373.4L343.9 1345.4 365.6 1347.8z"/>
<path fill="#9cfc00" d="M416.7 1347.5L429.0 1345.3 431.5 1361.5zM465.3 1309.5L449.6 1300.0 461.4 1294.5zM371.5 1247.5L363.9 1257.2 361.7 1241.9zM373.7 1228.9L352.4 1225.0 372.6 1218.4zM355.5 1193.5L367.1 1183.1 374.5 1196.7z"/>
<path fill="#78fc00" d="M450.4 1248.5L461.4 1238.8 461.2 1257.7zM445.0 1164.7L463.7 1161.5 452.6 1172.1z"/>
<path fill="#d8fc00" d="M465.2 1224.9L479.1 1245.3 461.4 1238.8zM355.5 1193.5L374.5 1196.7 356.3 1209.3zM377.9 1338.3L365.6 1347.8 364.1 1319.6z"/>
<path fill="#8afc00" d="M449.6 1300.0L465.3 1309.5 449.6 1316.0zM373.7 1228.9L371.5 1247.5 361.7 1241.9z"/>
<path fill="#6cfc00" d="M356.3 1209.3L379.6 1205.3 372.6 1218.4zM380.0 1151.2L383.3 1163.9 366.6 1159.3zM383.6 1174.5L367.1 1183.1 373.9 1171.0z"/>
<path fill="#5af600" d="M463.7 1161.5L445.0 1164.7 447.0 1155.7zM392.5 1144.4L380.0 1151.2 376.4 1131.1z"/>
<path fill="#24f606" d="M445.0 1164.7L452.6 1172.1 436.5 1169.6z"/>
<path fill="#a2fc00" d="M449.2 1136.4L436.5 1136.0 446.8 1121.3zM366.8 1145.0L380.0 1151.2 366.6 1159.3z"/>
<path fill="#30f606" d="M432.5 1124.0L436.5 1136.0 424.1 1140.0z"/>
<path fill="#42f606" d="M445.1 1255.9L450.4 1248.5 461.2 1257.7zM461.4 1238.8L449.7 1238.6 449.0 1226.7zM452.1 1328.9L436.5 1320.8 449.6 1316.0zM367.1 1183.1L383.6 1174.5 383.2 1189.2z"/>
<path fill="#fcba00" d="M479.1 1245.3L495.1 1240.3 483.8 1263.4z"/>
<path fill="#e4fc00" d="M350.9 1158.7L366.8 1145.0 366.6 1159.3z"/>
<path fill="#4ef606" d="M377.9 1338.3L381.0 1323.1 392.5 1329.2zM391.1 1340.3L377.9 1338.3 392.5 1329.2zM374.5 1196.7L367.1 1183.1 383.2 1189.2z"/>
<path fill="#12f61e" d="M392.5 1312.4L377.8 1309.6 392.5 1304.0z"/>
<path fill="#2af606" d="M392.5 1312.4L381.0 1323.1 377.8 1309.6zM436.5 1329.2L436.5 1320.8 452.1 1328.9zM403.7 1352.8L391.1 1340.3 406.8 1335.5z"/>
</g>
<g stroke-width="0.85" stroke="#181000">
<path fill="#84fc00" d="M465.7 1198.2L461.7 1211.5 454.6 1200.1z"/>
<path fill="#36f606" d="M378.1 1257.3L384.1 1268.1 372.4 1268.2zM379.6 1205.3L374.5 1196.7 384.6 1197.6z"/>
<path fill="#6cfc00" d="M363.9 1257.2L378.1 1257.3 372.4 1268.2z"/>
<path fill="#0cf624" d="M380.1 1280.8L384.1 1268.1 392.5 1278.8zM380.1 1280.8L392.5 1287.2 379.1 1290.2zM447.7 1286.0L436.5 1278.8 444.9 1276.9zM383.6 1174.5L392.5 1178.0 383.2 1189.2z"/>
<path fill="#66fc00" d="M380.1 1280.8L367.0 1278.7 372.4 1268.2z"/>
<path fill="#24f606" d="M384.1 1268.1L380.1 1280.8 372.4 1268.2zM384.6 1197.6L374.5 1196.7 383.2 1189.2zM383.9 1222.5L372.6 1218.4 383.6 1213.3z"/>
<path fill="#06f05a" d="M392.5 1287.2L380.1 1280.8 392.5 1278.8zM392.5 1186.4L392.5 1194.8 383.2 1189.2zM392.5 1178.0L392.5 1186.4 383.2 1189.2zM392.5 1262.0L392.5 1270.4 384.1 1268.1zM417.6 1140.2L411.0 1135.3 419.9 1126.1zM447.1 1213.1L436.5 1220.0 436.5 1211.6zM392.5 1211.6L392.5 1220.0 383.6 1213.3zM447.0 1183.1L436.5 1186.4 436.5 1178.0zM392.5 1152.8L399.3 1154.5 392.5 1161.2zM436.5 1262.0L436.5 1253.6 445.1 1255.9zM445.1 1255.9L436.5 1253.6 436.5 1245.2zM436.5 1228.4L436.5 1220.0 449.0 1226.7zM436.5 1236.8L449.7 1238.6 436.5 1245.2z"/>
<path fill="#2af606" d="M411.0 1135.3L405.6 1129.4 419.9 1126.1zM429.7 1332.7L436.5 1329.2 440.4 1342.2zM372.6 1218.4L379.6 1205.3 383.6 1213.3zM371.5 1247.5L381.6 1240.6 384.6 1249.0zM381.6 1240.6L373.7 1228.9 385.4 1232.7zM383.3 1163.9L383.6 1174.5 373.9 1171.0z"/>
<path fill="#1ef60c" d="M392.5 1329.2L381.0 1323.1 392.5 1320.8zM416.7 1347.5L419.9 1333.9 429.0 1345.3z"/>
<path fill="#3cf606" d="M452.9 1270.1L457.5 1281.5 444.9 1276.9z"/>
<path fill="#72fc00" d="M457.5 1281.5L452.9 1270.1 464.5 1272.6z"/>
<path fill="#30f606" d="M457.5 1281.5L447.7 1286.0 444.9 1276.9zM378.1 1257.3L371.5 1247.5 384.6 1249.0zM383.9 1222.5L373.7 1228.9 372.6 1218.4zM444.8 1195.7L456.0 1188.4 454.6 1200.1zM447.0 1183.1L456.0 1188.4 444.8 1195.7z"/>
<path fill="#06f054" d="M436.5 1278.8L447.7 1286.0 436.5 1287.2zM399.3 1326.1L392.5 1329.2 392.5 1320.8zM384.1 1268.1L392.5 1270.4 392.5 1278.8zM436.5 1203.2L436.5 1194.8 444.8 1195.7zM383.9 1297.7L392.5 1295.6 392.5 1304.0zM383.6 1174.5L392.5 1169.6 392.5 1178.0zM436.5 1278.8L436.5 1270.4 444.9 1276.9zM436.5 1270.4L444.5 1264.3 444.9 1276.9z"/>
<path fill="#00eac0" d="M436.5 1287.2L429.7 1293.1 429.7 1286.5zM429.7 1279.9L429.7 1273.3 436.5 1278.8zM429.7 1279.9L436.5 1287.2 429.7 1286.5z"/>
<path fill="#0cf03c" d="M419.9 1333.9L429.7 1332.7 429.0 1345.3zM436.5 1295.6L449.6 1300.0 436.5 1304.0zM436.5 1136.0L429.7 1141.3 424.1 1140.0zM436.5 1312.4L436.5 1304.0 444.7 1308.0zM443.6 1232.5L436.5 1228.4 449.0 1226.7z"/>
<path fill="#48f606" d="M429.0 1345.3L429.7 1332.7 440.4 1342.2zM461.7 1211.5L447.1 1213.1 454.6 1200.1z"/>
<path fill="#12f60c" d="M444.9 1205.0L444.8 1195.7 454.6 1200.1zM436.5 1304.0L449.6 1300.0 444.7 1308.0zM399.3 1332.7L391.1 1340.3 392.5 1329.2zM392.5 1144.4L392.5 1152.8 380.0 1151.2zM436.5 1320.8L436.5 1312.4 449.6 1316.0z"/>
<path fill="#00eacc" d="M399.3 1279.9L392.5 1278.8 399.3 1273.3zM399.3 1279.9L399.3 1286.5 392.5 1287.2zM429.7 1194.1L429.7 1187.5 436.5 1194.8zM436.5 1220.0L429.7 1227.1 429.7 1220.5zM392.5 1228.4L399.3 1227.1 399.3 1233.7zM429.7 1227.1L436.5 1228.4 429.7 1233.7z"/>
<path fill="#00f09c" d="M399.3 1279.9L392.5 1287.2 392.5 1278.8zM436.5 1295.6L429.7 1293.1 436.5 1287.2zM436.5 1161.2L429.7 1167.7 429.7 1161.1zM399.3 1180.9L392.5 1186.4 392.5 1178.0zM429.7 1273.3L436.5 1270.4 436.5 1278.8zM436.5 1186.4L429.7 1180.9 436.5 1178.0zM392.5 1161.2L399.3 1154.5 399.3 1161.1zM429.7 1279.9L436.5 1278.8 436.5 1287.2zM392.5 1312.4L399.3 1312.9 399.3 1319.5zM436.5 1312.4L429.7 1319.5 429.7 1312.9z"/>
<path fill="#12f61e" d="M392.5 1287.2L383.9 1297.7 379.1 1290.2zM399.3 1141.3L392.5 1136.0 405.6 1129.4zM449.7 1238.6L450.4 1248.5 436.5 1245.2z"/>
<path fill="#00ead2" d="M399.3 1194.1L392.5 1194.8 399.3 1187.5zM429.7 1200.7L429.7 1194.1 436.5 1194.8zM399.3 1253.5L399.3 1260.1 392.5 1253.6zM436.5 1253.6L429.7 1260.1 429.7 1253.5zM429.7 1246.9L436.5 1253.6 429.7 1253.5z"/>
<path fill="#00eaae" d="M392.5 1194.8L392.5 1186.4 399.3 1187.5zM424.1 1329.0L429.7 1332.7 419.9 1333.9zM399.3 1167.7L392.5 1161.2 399.3 1161.1zM392.5 1253.6L399.3 1260.1 392.5 1262.0z"/>
<path fill="#06f048" d="M392.5 1194.8L384.6 1197.6 383.2 1189.2zM444.9 1205.0L436.5 1203.2 444.8 1195.7zM392.5 1236.8L381.6 1240.6 385.4 1232.7z"/>
<path fill="#0cf630" d="M381.6 1240.6L392.5 1245.2 384.6 1249.0zM392.5 1253.6L378.1 1257.3 384.6 1249.0zM444.9 1205.0L447.1 1213.1 436.5 1211.6zM392.5 1203.2L379.6 1205.3 384.6 1197.6z"/>
<path fill="#00f066" d="M392.5 1245.2L392.5 1253.6 384.6 1249.0zM436.5 1270.4L436.5 1262.0 444.5 1264.3zM392.5 1312.4L399.3 1319.5 392.5 1320.8zM436.5 1320.8L429.7 1319.5 436.5 1312.4z"/>
<path fill="#00f0a2" d="M392.5 1278.8L392.5 1270.4 399.3 1273.3zM429.7 1187.5L436.5 1186.4 436.5 1194.8zM399.3 1227.1L392.5 1228.4 392.5 1220.0zM399.3 1306.3L399.3 1312.9 392.5 1312.4z"/>
<path fill="#12f612" d="M436.5 1161.2L436.5 1152.8 447.0 1155.7zM444.5 1264.3L452.9 1270.1 444.9 1276.9z"/>
<path fill="#00f060" d="M436.5 1152.8L436.5 1161.2 429.7 1154.5zM392.5 1295.6L383.9 1297.7 392.5 1287.2zM392.5 1228.4L383.9 1222.5 392.5 1220.0z"/>
<path fill="#00f08a" d="M436.5 1161.2L429.7 1161.1 429.7 1154.5zM424.1 1140.0L417.6 1140.2 419.9 1126.1z"/>
<path fill="#06f060" d="M411.0 1135.3L404.9 1140.0 405.6 1129.4zM436.5 1203.2L444.9 1205.0 436.5 1211.6z"/>
<path fill="#06f04e" d="M447.7 1286.0L436.5 1295.6 436.5 1287.2zM381.6 1240.6L392.5 1236.8 392.5 1245.2zM436.5 1320.8L436.5 1329.2 429.7 1326.1z"/>
<path fill="#12f624" d="M449.6 1300.0L436.5 1295.6 447.7 1286.0zM379.6 1205.3L392.5 1203.2 383.6 1213.3zM429.7 1141.3L436.5 1136.0 436.5 1144.4z"/>
<path fill="#00f084" d="M399.3 1319.5L399.3 1326.1 392.5 1320.8z"/>
<path fill="#0cf036" d="M436.5 1220.0L447.1 1213.1 449.0 1226.7zM392.5 1220.0L383.9 1222.5 383.6 1213.3zM383.3 1163.9L392.5 1152.8 392.5 1161.2zM436.5 1186.4L447.0 1183.1 444.8 1195.7zM436.5 1262.0L445.1 1255.9 444.5 1264.3z"/>
<path fill="#18f60c" d="M447.1 1213.1L444.9 1205.0 454.6 1200.1zM445.0 1164.7L436.5 1161.2 447.0 1155.7zM392.5 1152.8L383.3 1163.9 380.0 1151.2z"/>
<path fill="#00f090" d="M399.3 1293.1L392.5 1295.6 392.5 1287.2zM436.5 1312.4L429.7 1306.3 436.5 1304.0z"/>
<path fill="#00eaba" d="M399.3 1286.5L399.3 1293.1 392.5 1287.2zM436.5 1203.2L429.7 1200.7 436.5 1194.8zM392.5 1220.0L392.5 1211.6 399.3 1213.9zM392.5 1236.8L392.5 1228.4 399.3 1233.7zM392.5 1186.4L399.3 1180.9 399.3 1187.5zM436.5 1228.4L429.7 1227.1 436.5 1220.0z"/>
<path fill="#00f06c" d="M392.5 1203.2L384.6 1197.6 392.5 1194.8zM404.9 1140.0L399.3 1141.3 405.6 1129.4zM392.5 1203.2L392.5 1211.6 383.6 1213.3zM436.5 1194.8L436.5 1186.4 444.8 1195.7zM429.7 1319.5L436.5 1320.8 429.7 1326.1z"/>
<path fill="#78fc00" d="M371.5 1247.5L378.1 1257.3 363.9 1257.2z"/>
<path fill="#1ef606" d="M373.7 1228.9L383.9 1222.5 385.4 1232.7zM436.5 1312.4L444.7 1308.0 449.6 1316.0z"/>
<path fill="#00ead8" d="M399.3 1220.5L392.5 1220.0 399.3 1213.9zM399.3 1220.5L399.3 1227.1 392.5 1220.0z"/>
<path fill="#00eab4" d="M399.3 1246.9L392.5 1253.6 392.5 1245.2zM399.3 1200.7L392.5 1203.2 392.5 1194.8zM429.7 1260.1L436.5 1253.6 436.5 1262.0zM436.5 1228.4L436.5 1236.8 429.7 1233.7z"/>
<path fill="#00f07e" d="M429.7 1167.7L436.5 1161.2 436.5 1169.6zM399.3 1167.7L392.5 1169.6 392.5 1161.2z"/>
<path fill="#06f042" d="M436.5 1161.2L445.0 1164.7 436.5 1169.6zM416.7 1347.5L413.9 1338.7 419.9 1333.9zM392.5 1169.6L383.3 1163.9 392.5 1161.2zM383.9 1222.5L392.5 1228.4 385.4 1232.7z"/>
<path fill="#8afc00" d="M456.0 1188.4L465.7 1198.2 454.6 1200.1z"/>
<path fill="#42f606" d="M436.5 1136.0L449.2 1136.4 436.5 1144.4z"/>
<path fill="#0cf62a" d="M450.4 1248.5L445.1 1255.9 436.5 1245.2zM383.6 1174.5L383.3 1163.9 392.5 1169.6zM399.3 1141.3L392.5 1144.4 392.5 1136.0zM449.7 1238.6L436.5 1236.8 443.6 1232.5z"/>
<path fill="#54f600" d="M450.4 1248.5L449.7 1238.6 461.4 1238.8z"/>
<path fill="#12f618" d="M449.7 1238.6L443.6 1232.5 449.0 1226.7z"/>
<path fill="#00eac6" d="M399.3 1194.1L399.3 1200.7 392.5 1194.8zM399.3 1246.9L399.3 1253.5 392.5 1253.6zM429.7 1180.9L436.5 1186.4 429.7 1187.5zM429.7 1213.9L436.5 1220.0 429.7 1220.5z"/>
<path fill="#00f096" d="M429.7 1306.3L436.5 1312.4 429.7 1312.9z"/>
<path fill="#00f0a8" d="M436.5 1220.0L429.7 1213.9 436.5 1211.6z"/>
<path fill="#00f0ae" d="M436.5 1253.6L429.7 1246.9 436.5 1245.2z"/>
<path fill="#00f078" d="M399.3 1306.3L392.5 1312.4 392.5 1304.0z"/>
</g>
<g stroke-width="0.45" stroke="#003848">
<path fill="#0048ba" d="M414.5 1171.2L409.9 1167.9 414.5 1166.5zM419.1 1167.9L414.5 1171.2 414.5 1166.5zM409.9 1163.2L414.5 1161.8 414.5 1166.5zM409.9 1308.9L414.5 1307.5 414.5 1312.2zM409.9 1290.1L414.5 1288.7 414.5 1293.4zM419.1 1172.6L414.5 1175.9 414.5 1171.2zM414.5 1161.8L419.1 1163.2 414.5 1166.5zM414.5 1307.5L419.1 1308.9 414.5 1312.2zM414.5 1288.7L419.1 1290.1 414.5 1293.4zM414.5 1185.3L419.1 1186.7 414.5 1190.0zM414.5 1185.3L409.9 1182.0 414.5 1180.6zM414.5 1175.9L409.9 1172.6 414.5 1171.2zM414.5 1307.5L414.5 1302.8 419.1 1304.2zM409.9 1304.2L414.5 1302.8 414.5 1307.5zM414.5 1302.8L414.5 1298.1 419.1 1299.5zM414.5 1298.1L409.9 1294.8 414.5 1293.4zM409.9 1299.5L414.5 1298.1 414.5 1302.8z"/>
<path fill="#004ec0" d="M414.5 1152.4L419.1 1153.8 414.5 1157.1zM419.1 1158.5L414.5 1161.8 414.5 1157.1zM409.9 1318.3L414.5 1316.9 414.5 1321.6zM409.9 1153.8L414.5 1152.4 414.5 1157.1zM414.5 1326.3L419.1 1327.7 412.9 1332.1zM414.5 1316.9L419.1 1318.3 414.5 1321.6z"/>
<path fill="#00dee4" d="M406.8 1335.5L409.9 1327.7 412.9 1332.1zM399.3 1293.1L404.9 1291.2 404.9 1296.6zM424.1 1296.6L424.1 1291.2 429.7 1293.1zM399.3 1279.9L404.9 1280.4 404.9 1285.8zM404.9 1291.2L399.3 1286.5 404.9 1285.8zM424.1 1145.4L424.1 1150.8 419.1 1149.0zM417.6 1140.2L411.6 1140.2 411.0 1135.3zM404.9 1140.0L411.6 1140.2 409.9 1144.3zM409.9 1149.0L404.9 1145.4 409.9 1144.3zM424.1 1323.6L424.1 1329.0 419.1 1327.7zM409.9 1327.7L404.9 1329.0 404.9 1323.6zM419.9 1333.9L413.9 1338.7 412.9 1332.1zM424.1 1302.0L424.1 1296.6 429.7 1299.7zM404.9 1302.0L399.3 1299.7 404.9 1296.6zM399.3 1194.1L404.9 1194.0 404.9 1199.4zM424.1 1194.0L429.7 1194.1 424.1 1199.4zM429.7 1194.1L424.1 1194.0 424.1 1188.6zM404.9 1204.8L399.3 1200.7 404.9 1199.4zM404.9 1172.4L399.3 1167.7 404.9 1167.0zM404.9 1210.2L404.9 1215.6 399.3 1213.9zM424.1 1269.6L424.1 1264.2 429.7 1266.7zM399.3 1253.5L399.3 1246.9 404.9 1248.0zM404.9 1188.6L404.9 1194.0 399.3 1194.1zM424.1 1177.8L424.1 1172.4 429.7 1174.3zM404.9 1150.8L404.9 1145.4 409.9 1149.0zM419.1 1144.3L417.6 1140.2 424.1 1140.0zM424.1 1269.6L429.7 1273.3 424.1 1275.0zM404.9 1318.2L409.9 1323.0 404.9 1323.6zM424.1 1291.2L424.1 1285.8 429.7 1286.5zM424.1 1210.2L424.1 1204.8 429.7 1207.3zM429.7 1200.7L424.1 1204.8 424.1 1199.4zM404.9 1215.6L404.9 1221.0 399.3 1220.5zM404.9 1221.0L404.9 1226.4 399.3 1220.5zM404.9 1275.0L404.9 1280.4 399.3 1279.9zM404.9 1210.2L399.3 1207.3 404.9 1204.8zM429.7 1246.9L424.1 1248.0 424.1 1242.6zM429.7 1227.1L424.1 1231.8 424.1 1226.4zM399.3 1246.9L404.9 1242.6 404.9 1248.0zM399.3 1253.5L404.9 1253.4 404.9 1258.8zM404.9 1253.4L399.3 1253.5 404.9 1248.0zM404.9 1183.2L404.9 1188.6 399.3 1187.5zM404.9 1172.4L404.9 1177.8 399.3 1174.3zM404.9 1177.8L404.9 1183.2 399.3 1180.9zM429.7 1279.9L424.1 1280.4 424.1 1275.0zM429.7 1279.9L424.1 1285.8 424.1 1280.4zM424.1 1318.2L424.1 1323.6 419.1 1323.0zM429.7 1213.9L424.1 1210.2 429.7 1207.3zM429.7 1213.9L424.1 1215.6 424.1 1210.2zM424.1 1226.4L424.1 1221.0 429.7 1220.5zM424.1 1221.0L424.1 1215.6 429.7 1220.5zM399.3 1227.1L404.9 1231.8 399.3 1233.7zM399.3 1227.1L404.9 1226.4 404.9 1231.8zM429.7 1240.3L429.7 1246.9 424.1 1242.6zM424.1 1258.8L424.1 1253.4 429.7 1253.5zM424.1 1253.4L424.1 1248.0 429.7 1253.5zM424.1 1258.8L429.7 1260.1 424.1 1264.2zM404.9 1237.2L404.9 1242.6 399.3 1240.3zM404.9 1231.8L404.9 1237.2 399.3 1233.7zM404.9 1237.2L399.3 1240.3 399.3 1233.7zM404.9 1269.6L404.9 1275.0 399.3 1273.3zM424.1 1237.2L424.1 1231.8 429.7 1233.7zM429.7 1240.3L424.1 1237.2 429.7 1233.7zM424.1 1237.2L429.7 1240.3 424.1 1242.6zM404.9 1264.2L404.9 1269.6 399.3 1266.7zM404.9 1264.2L399.3 1260.1 404.9 1258.8zM429.7 1180.9L424.1 1183.2 424.1 1177.8zM424.1 1183.2L429.7 1187.5 424.1 1188.6z"/>
<path fill="#06f054" d="M436.5 1329.2L429.7 1332.7 429.7 1326.1zM392.5 1152.8L392.5 1144.4 399.3 1147.9z"/>
<path fill="#0042ba" d="M419.1 1196.1L414.5 1199.4 414.5 1194.7zM414.5 1274.6L414.5 1269.9 419.1 1271.3zM419.1 1266.6L414.5 1269.9 414.5 1265.2zM414.5 1269.9L414.5 1274.6 409.9 1271.3zM419.1 1285.4L414.5 1288.7 414.5 1284.0zM409.9 1191.4L414.5 1190.0 414.5 1194.7zM419.1 1257.2L414.5 1260.5 414.5 1255.8zM409.9 1177.3L414.5 1175.9 414.5 1180.6zM414.5 1190.0L419.1 1191.4 414.5 1194.7zM414.5 1199.4L409.9 1196.1 414.5 1194.7zM409.9 1233.7L414.5 1232.3 414.5 1237.0zM414.5 1232.3L419.1 1233.7 414.5 1237.0zM414.5 1279.3L409.9 1276.0 414.5 1274.6zM409.9 1280.7L414.5 1279.3 414.5 1284.0zM414.5 1260.5L419.1 1261.9 414.5 1265.2zM414.5 1241.7L409.9 1238.4 414.5 1237.0zM409.9 1252.5L414.5 1251.1 414.5 1255.8zM409.9 1261.9L414.5 1260.5 414.5 1265.2zM414.5 1185.3L414.5 1190.0 409.9 1186.7zM414.5 1279.3L419.1 1280.7 414.5 1284.0zM414.5 1204.1L414.5 1208.8 409.9 1205.5zM409.9 1210.2L414.5 1208.8 414.5 1213.5zM414.5 1208.8L414.5 1204.1 419.1 1205.5zM414.5 1218.2L419.1 1219.6 414.5 1222.9zM414.5 1218.2L414.5 1222.9 409.9 1219.6zM414.5 1218.2L414.5 1213.5 419.1 1214.9zM414.5 1288.7L409.9 1285.4 414.5 1284.0zM414.5 1269.9L409.9 1266.6 414.5 1265.2zM414.5 1175.9L419.1 1177.3 414.5 1180.6zM419.1 1294.8L414.5 1298.1 414.5 1293.4zM419.1 1276.0L414.5 1279.3 414.5 1274.6zM414.5 1227.6L419.1 1229.0 414.5 1232.3zM409.9 1229.0L414.5 1227.6 414.5 1232.3zM419.1 1247.8L414.5 1251.1 414.5 1246.4zM409.9 1243.1L414.5 1241.7 414.5 1246.4zM419.1 1182.0L414.5 1185.3 414.5 1180.6zM414.5 1251.1L419.1 1252.5 414.5 1255.8zM414.5 1251.1L409.9 1247.8 414.5 1246.4z"/>
<path fill="#00d8ea" d="M409.9 1290.1L404.9 1291.2 404.9 1285.8zM424.1 1161.6L419.1 1158.5 424.1 1156.2zM404.9 1172.4L404.9 1167.0 409.9 1167.9zM424.1 1167.0L424.1 1172.4 419.1 1167.9zM419.1 1153.8L424.1 1150.8 424.1 1156.2zM419.1 1149.0L424.1 1150.8 419.1 1153.8zM404.9 1161.6L409.9 1163.2 404.9 1167.0zM424.1 1167.0L419.1 1163.2 424.1 1161.6zM424.1 1323.6L419.1 1327.7 419.1 1323.0zM409.9 1323.0L409.9 1327.7 404.9 1323.6zM424.1 1302.0L424.1 1307.4 419.1 1304.2zM424.1 1302.0L419.1 1299.5 424.1 1296.6zM419.1 1196.1L424.1 1194.0 424.1 1199.4zM424.1 1194.0L419.1 1191.4 424.1 1188.6zM409.9 1153.8L404.9 1150.8 409.9 1149.0zM419.1 1144.3L424.1 1145.4 419.1 1149.0zM409.9 1323.0L404.9 1318.2 409.9 1318.3zM424.1 1312.8L419.1 1308.9 424.1 1307.4zM424.1 1280.4L424.1 1285.8 419.1 1285.4zM419.1 1290.1L424.1 1285.8 424.1 1291.2zM419.1 1294.8L424.1 1291.2 424.1 1296.6zM404.9 1221.0L404.9 1215.6 409.9 1219.6zM404.9 1280.4L409.9 1285.4 404.9 1285.8zM404.9 1177.8L404.9 1172.4 409.9 1177.3zM404.9 1183.2L404.9 1177.8 409.9 1182.0zM424.1 1177.8L419.1 1177.3 424.1 1172.4zM404.9 1161.6L404.9 1156.2 409.9 1158.5zM404.9 1156.2L404.9 1150.8 409.9 1153.8zM404.9 1318.2L404.9 1312.8 409.9 1313.6zM404.9 1312.8L404.9 1307.4 409.9 1308.9zM409.9 1304.2L404.9 1307.4 404.9 1302.0zM424.1 1318.2L419.1 1313.6 424.1 1312.8zM404.9 1242.6L404.9 1237.2 409.9 1238.4zM404.9 1275.0L404.9 1269.6 409.9 1271.3zM404.9 1291.2L409.9 1294.8 404.9 1296.6zM419.1 1318.3L424.1 1318.2 419.1 1323.0zM419.1 1318.3L419.1 1313.6 424.1 1318.2zM404.9 1269.6L404.9 1264.2 409.9 1266.6zM424.1 1183.2L419.1 1182.0 424.1 1177.8zM419.1 1186.7L424.1 1183.2 424.1 1188.6zM409.9 1299.5L404.9 1302.0 404.9 1296.6z"/>
<path fill="#00eac6" d="M392.5 1270.4L399.3 1266.7 399.3 1273.3zM399.3 1240.3L392.5 1236.8 399.3 1233.7zM404.9 1329.0L399.3 1326.1 404.9 1323.6zM424.1 1150.8L429.7 1147.9 429.7 1154.5zM399.3 1260.1L399.3 1266.7 392.5 1262.0zM429.7 1260.1L436.5 1262.0 429.7 1266.7zM436.5 1236.8L429.7 1240.3 429.7 1233.7z"/>
<path fill="#00eab4" d="M399.3 1266.7L392.5 1270.4 392.5 1262.0zM429.7 1207.3L436.5 1203.2 436.5 1211.6zM399.3 1299.7L392.5 1295.6 399.3 1293.1zM392.5 1169.6L399.3 1167.7 399.3 1174.3z"/>
<path fill="#0066d2" d="M419.1 1172.6L414.5 1171.2 419.1 1167.9zM409.9 1182.0L409.9 1177.3 414.5 1180.6zM414.5 1143.0L419.1 1144.3 414.5 1147.7zM414.5 1143.0L414.5 1147.7 409.9 1144.3zM414.5 1302.8L419.1 1299.5 419.1 1304.2zM414.5 1298.1L419.1 1294.8 419.1 1299.5zM409.9 1299.5L409.9 1294.8 414.5 1298.1zM409.9 1304.2L409.9 1299.5 414.5 1302.8z"/>
<path fill="#00e4de" d="M429.7 1161.1L424.1 1167.0 424.1 1161.6zM429.7 1161.1L424.1 1161.6 424.1 1156.2zM424.1 1296.6L429.7 1293.1 429.7 1299.7zM429.7 1293.1L424.1 1291.2 429.7 1286.5zM399.3 1299.7L399.3 1293.1 404.9 1296.6zM399.3 1293.1L399.3 1286.5 404.9 1291.2zM399.3 1286.5L399.3 1279.9 404.9 1285.8zM429.7 1161.1L429.7 1167.7 424.1 1167.0zM429.7 1167.7L424.1 1172.4 424.1 1167.0zM424.1 1172.4L429.7 1167.7 429.7 1174.3zM424.1 1150.8L429.7 1154.5 424.1 1156.2zM404.9 1161.6L404.9 1167.0 399.3 1161.1zM411.6 1140.2L404.9 1140.0 411.0 1135.3zM404.9 1145.4L404.9 1140.0 409.9 1144.3zM419.1 1327.7L424.1 1329.0 419.9 1333.9zM404.9 1329.0L409.9 1327.7 406.8 1335.5zM429.7 1187.5L429.7 1194.1 424.1 1188.6zM429.7 1194.1L429.7 1200.7 424.1 1199.4zM399.3 1200.7L399.3 1194.1 404.9 1199.4zM399.3 1167.7L404.9 1172.4 399.3 1174.3zM404.9 1215.6L399.3 1220.5 399.3 1213.9zM404.9 1188.6L399.3 1194.1 399.3 1187.5zM424.1 1145.4L419.1 1144.3 424.1 1140.0zM429.7 1273.3L424.1 1269.6 429.7 1266.7zM429.7 1306.3L424.1 1302.0 429.7 1299.7zM424.1 1302.0L429.7 1306.3 424.1 1307.4zM429.7 1312.9L424.1 1312.8 424.1 1307.4zM424.1 1204.8L429.7 1200.7 429.7 1207.3zM404.9 1275.0L399.3 1279.9 399.3 1273.3zM399.3 1207.3L399.3 1200.7 404.9 1204.8zM399.3 1207.3L404.9 1210.2 399.3 1213.9zM424.1 1248.0L429.7 1246.9 429.7 1253.5zM429.7 1227.1L424.1 1226.4 429.7 1220.5zM424.1 1231.8L429.7 1227.1 429.7 1233.7zM404.9 1242.6L399.3 1246.9 399.3 1240.3zM399.3 1260.1L399.3 1253.5 404.9 1258.8zM399.3 1180.9L404.9 1183.2 399.3 1187.5zM404.9 1177.8L399.3 1180.9 399.3 1174.3zM429.7 1180.9L424.1 1177.8 429.7 1174.3zM404.9 1156.2L399.3 1154.5 404.9 1150.8zM404.9 1156.2L404.9 1161.6 399.3 1161.1zM429.7 1273.3L429.7 1279.9 424.1 1275.0zM424.1 1285.8L429.7 1279.9 429.7 1286.5zM424.1 1318.2L424.1 1312.8 429.7 1312.9zM424.1 1215.6L429.7 1213.9 429.7 1220.5zM404.9 1226.4L399.3 1227.1 399.3 1220.5zM429.7 1260.1L424.1 1258.8 429.7 1253.5zM424.1 1264.2L429.7 1260.1 429.7 1266.7zM399.3 1266.7L404.9 1269.6 399.3 1273.3zM399.3 1312.9L404.9 1312.8 404.9 1318.2zM404.9 1312.8L399.3 1312.9 404.9 1307.4zM399.3 1260.1L404.9 1264.2 399.3 1266.7zM424.1 1183.2L429.7 1180.9 429.7 1187.5zM404.9 1307.4L399.3 1306.3 404.9 1302.0z"/>
<path fill="#00ead8" d="M429.7 1154.5L429.7 1161.1 424.1 1156.2zM413.9 1338.7L406.8 1335.5 412.9 1332.1zM429.7 1200.7L436.5 1203.2 429.7 1207.3zM404.9 1167.0L399.3 1167.7 399.3 1161.1zM436.5 1270.4L429.7 1273.3 429.7 1266.7zM399.3 1319.5L404.9 1318.2 404.9 1323.6zM429.7 1306.3L429.7 1312.9 424.1 1307.4zM392.5 1211.6L399.3 1207.3 399.3 1213.9zM399.3 1312.9L404.9 1318.2 399.3 1319.5zM429.7 1319.5L424.1 1318.2 429.7 1312.9zM424.1 1318.2L429.7 1319.5 424.1 1323.6zM399.3 1312.9L399.3 1306.3 404.9 1307.4zM404.9 1302.0L399.3 1306.3 399.3 1299.7z"/>
<path fill="#00f084" d="M436.5 1178.0L429.7 1174.3 436.5 1169.6zM404.9 1329.0L399.3 1332.7 399.3 1326.1zM399.3 1154.5L392.5 1152.8 399.3 1147.9z"/>
<path fill="#007ede" d="M419.1 1149.0L419.1 1153.8 414.5 1152.4zM414.5 1321.6L419.1 1318.3 419.1 1323.0z"/>
<path fill="#0066d8" d="M409.9 1167.9L409.9 1163.2 414.5 1166.5zM409.9 1163.2L409.9 1158.5 414.5 1161.8zM419.1 1163.2L419.1 1167.9 414.5 1166.5zM409.9 1304.2L414.5 1307.5 409.9 1308.9z"/>
<path fill="#00d2f0" d="M404.9 1167.0L409.9 1163.2 409.9 1167.9zM419.1 1158.5L419.1 1153.8 424.1 1156.2zM419.1 1327.7L419.9 1333.9 412.9 1332.1zM404.9 1210.2L404.9 1204.8 409.9 1205.5zM409.9 1200.8L404.9 1204.8 404.9 1199.4zM424.1 1172.4L419.1 1172.6 419.1 1167.9zM404.9 1161.6L409.9 1158.5 409.9 1163.2zM419.1 1163.2L419.1 1158.5 424.1 1161.6zM419.1 1163.2L424.1 1167.0 419.1 1167.9zM419.1 1299.5L424.1 1302.0 419.1 1304.2zM424.1 1307.4L419.1 1308.9 419.1 1304.2zM404.9 1194.0L409.9 1196.1 404.9 1199.4zM424.1 1269.6L424.1 1275.0 419.1 1271.3zM424.1 1264.2L424.1 1269.6 419.1 1266.6zM404.9 1194.0L404.9 1188.6 409.9 1191.4zM409.9 1172.6L404.9 1172.4 409.9 1167.9zM404.9 1172.4L409.9 1172.6 409.9 1177.3zM404.9 1318.2L409.9 1313.6 409.9 1318.3zM419.1 1299.5L419.1 1294.8 424.1 1296.6zM424.1 1204.8L424.1 1210.2 419.1 1205.5zM424.1 1204.8L419.1 1200.8 424.1 1199.4zM424.1 1210.2L424.1 1215.6 419.1 1214.9zM409.9 1214.9L404.9 1215.6 404.9 1210.2zM404.9 1226.4L404.9 1221.0 409.9 1224.3zM404.9 1226.4L409.9 1229.0 404.9 1231.8zM404.9 1275.0L409.9 1276.0 404.9 1280.4zM419.1 1261.9L424.1 1258.8 424.1 1264.2zM424.1 1242.6L424.1 1248.0 419.1 1243.1zM424.1 1231.8L419.1 1229.0 424.1 1226.4zM404.9 1253.4L409.9 1257.2 404.9 1258.8zM409.9 1252.5L404.9 1253.4 404.9 1248.0zM404.9 1188.6L404.9 1183.2 409.9 1186.7zM424.1 1172.4L419.1 1177.3 419.1 1172.6zM409.9 1158.5L404.9 1156.2 409.9 1153.8zM409.9 1313.6L404.9 1312.8 409.9 1308.9zM404.9 1307.4L409.9 1304.2 409.9 1308.9zM424.1 1312.8L419.1 1313.6 419.1 1308.9zM424.1 1280.4L419.1 1276.0 424.1 1275.0zM424.1 1215.6L424.1 1221.0 419.1 1219.6zM419.1 1224.3L424.1 1221.0 424.1 1226.4zM424.1 1253.4L424.1 1258.8 419.1 1257.2zM404.9 1242.6L409.9 1243.1 404.9 1248.0zM409.9 1233.7L404.9 1237.2 404.9 1231.8zM419.1 1238.4L424.1 1237.2 424.1 1242.6zM424.1 1231.8L424.1 1237.2 419.1 1233.7zM424.1 1253.4L419.1 1252.5 424.1 1248.0zM409.9 1261.9L404.9 1264.2 404.9 1258.8zM419.1 1182.0L424.1 1183.2 419.1 1186.7zM409.9 1299.5L409.9 1304.2 404.9 1302.0z"/>
<path fill="#0078de" d="M419.1 1153.8L419.1 1158.5 414.5 1157.1z"/>
<path fill="#0cf042" d="M399.3 1326.1L399.3 1332.7 392.5 1329.2zM436.5 1152.8L429.7 1147.9 436.5 1144.4z"/>
<path fill="#0060d2" d="M419.1 1271.3L414.5 1269.9 419.1 1266.6zM414.5 1190.0L409.9 1191.4 409.9 1186.7zM409.9 1200.8L414.5 1204.1 409.9 1205.5zM419.1 1290.1L414.5 1288.7 419.1 1285.4zM419.1 1191.4L419.1 1196.1 414.5 1194.7zM419.1 1186.7L419.1 1191.4 414.5 1190.0zM409.9 1196.1L409.9 1191.4 414.5 1194.7zM409.9 1200.8L409.9 1196.1 414.5 1199.4zM419.1 1233.7L419.1 1238.4 414.5 1237.0zM409.9 1280.7L409.9 1276.0 414.5 1279.3zM419.1 1261.9L419.1 1266.6 414.5 1265.2zM409.9 1238.4L409.9 1233.7 414.5 1237.0zM409.9 1182.0L414.5 1185.3 409.9 1186.7zM414.5 1171.2L409.9 1172.6 409.9 1167.9zM409.9 1172.6L414.5 1175.9 409.9 1177.3zM419.1 1280.7L419.1 1285.4 414.5 1284.0zM419.1 1290.1L419.1 1294.8 414.5 1293.4zM414.5 1208.8L419.1 1205.5 419.1 1210.2zM414.5 1232.3L419.1 1229.0 419.1 1233.7zM419.1 1219.6L414.5 1218.2 419.1 1214.9zM409.9 1285.4L409.9 1280.7 414.5 1284.0zM409.9 1285.4L414.5 1288.7 409.9 1290.1zM409.9 1266.6L414.5 1269.9 409.9 1271.3zM419.1 1177.3L414.5 1175.9 419.1 1172.6zM419.1 1276.0L414.5 1274.6 419.1 1271.3zM419.1 1177.3L419.1 1182.0 414.5 1180.6zM414.5 1185.3L419.1 1182.0 419.1 1186.7zM409.9 1294.8L409.9 1290.1 414.5 1293.4zM409.9 1247.8L414.5 1251.1 409.9 1252.5z"/>
<path fill="#00f08a" d="M436.5 1295.6L436.5 1304.0 429.7 1299.7zM429.7 1147.9L436.5 1152.8 429.7 1154.5z"/>
<path fill="#00eaae" d="M429.7 1293.1L436.5 1295.6 429.7 1299.7zM436.5 1304.0L429.7 1306.3 429.7 1299.7z"/>
<path fill="#00eaba" d="M399.3 1326.1L399.3 1319.5 404.9 1323.6zM392.5 1236.8L399.3 1240.3 392.5 1245.2zM429.7 1174.3L429.7 1167.7 436.5 1169.6z"/>
<path fill="#00c0ea" d="M404.9 1204.8L409.9 1200.8 409.9 1205.5zM409.9 1196.1L404.9 1194.0 409.9 1191.4zM409.9 1196.1L409.9 1200.8 404.9 1199.4zM409.9 1210.2L404.9 1210.2 409.9 1205.5zM411.6 1140.2L414.5 1143.0 409.9 1144.3zM424.1 1285.8L419.1 1290.1 419.1 1285.4zM419.1 1294.8L419.1 1290.1 424.1 1291.2zM409.9 1280.7L409.9 1285.4 404.9 1280.4zM424.1 1258.8L419.1 1261.9 419.1 1257.2zM419.1 1229.0L419.1 1224.3 424.1 1226.4zM424.1 1221.0L419.1 1224.3 419.1 1219.6zM409.9 1243.1L404.9 1242.6 409.9 1238.4z"/>
<path fill="#0042b4" d="M414.5 1204.1L409.9 1200.8 414.5 1199.4zM419.1 1200.8L414.5 1204.1 414.5 1199.4zM414.5 1246.4L414.5 1241.7 419.1 1243.1zM419.1 1238.4L414.5 1241.7 414.5 1237.0zM414.5 1213.5L414.5 1208.8 419.1 1210.2zM414.5 1218.2L409.9 1214.9 414.5 1213.5zM414.5 1260.5L409.9 1257.2 414.5 1255.8zM414.5 1227.6L409.9 1224.3 414.5 1222.9zM419.1 1224.3L414.5 1227.6 414.5 1222.9z"/>
<path fill="#0060cc" d="M419.1 1214.9L414.5 1213.5 419.1 1210.2zM419.1 1196.1L419.1 1200.8 414.5 1199.4zM414.5 1204.1L419.1 1200.8 419.1 1205.5zM414.5 1241.7L419.1 1238.4 419.1 1243.1zM414.5 1222.9L409.9 1224.3 409.9 1219.6zM414.5 1208.8L409.9 1210.2 409.9 1205.5zM409.9 1214.9L414.5 1218.2 409.9 1219.6zM419.1 1276.0L419.1 1280.7 414.5 1279.3zM414.5 1227.6L409.9 1229.0 409.9 1224.3zM414.5 1227.6L419.1 1224.3 419.1 1229.0zM419.1 1247.8L414.5 1246.4 419.1 1243.1zM419.1 1247.8L419.1 1252.5 414.5 1251.1z"/>
<path fill="#00baea" d="M419.1 1200.8L419.1 1196.1 424.1 1199.4zM419.1 1205.5L424.1 1210.2 419.1 1210.2zM419.1 1191.4L424.1 1194.0 419.1 1196.1zM419.1 1238.4L424.1 1242.6 419.1 1243.1zM409.9 1191.4L404.9 1188.6 409.9 1186.7zM409.9 1210.2L409.9 1214.9 404.9 1210.2zM409.9 1229.0L404.9 1226.4 409.9 1224.3zM409.9 1229.0L409.9 1233.7 404.9 1231.8zM409.9 1276.0L404.9 1275.0 409.9 1271.3zM409.9 1285.4L409.9 1290.1 404.9 1285.8zM419.1 1280.7L419.1 1276.0 424.1 1280.4zM404.9 1269.6L409.9 1266.6 409.9 1271.3zM424.1 1237.2L419.1 1238.4 419.1 1233.7zM419.1 1252.5L424.1 1253.4 419.1 1257.2z"/>
<path fill="#00f09c" d="M392.5 1295.6L399.3 1299.7 392.5 1304.0zM392.5 1169.6L399.3 1174.3 392.5 1178.0zM429.7 1332.7L424.1 1329.0 429.7 1326.1zM429.7 1147.9L424.1 1145.4 429.7 1141.3z"/>
<path fill="#00eacc" d="M399.3 1240.3L399.3 1246.9 392.5 1245.2zM424.1 1329.0L424.1 1323.6 429.7 1326.1zM404.9 1145.4L404.9 1150.8 399.3 1147.9zM399.3 1200.7L399.3 1207.3 392.5 1203.2zM404.9 1150.8L399.3 1154.5 399.3 1147.9zM429.7 1213.9L429.7 1207.3 436.5 1211.6zM429.7 1246.9L429.7 1240.3 436.5 1245.2z"/>
<path fill="#00f0a2" d="M429.7 1141.3L424.1 1145.4 424.1 1140.0zM399.3 1141.3L404.9 1145.4 399.3 1147.9zM429.7 1240.3L436.5 1236.8 436.5 1245.2z"/>
<path fill="#008ae4" d="M409.9 1153.8L409.9 1149.0 414.5 1152.4z"/>
<path fill="#0054c6" d="M414.5 1147.7L419.1 1149.0 414.5 1152.4zM409.9 1149.0L414.5 1147.7 414.5 1152.4zM414.5 1326.3L414.5 1321.6 419.1 1323.0zM414.5 1326.3L409.9 1323.0 414.5 1321.6z"/>
<path fill="#00a2e4" d="M414.5 1147.7L409.9 1149.0 409.9 1144.3zM409.9 1323.0L414.5 1326.3 409.9 1327.7zM414.5 1147.7L419.1 1144.3 419.1 1149.0z"/>
<path fill="#0048c0" d="M414.5 1161.8L409.9 1158.5 414.5 1157.1zM414.5 1316.9L409.9 1313.6 414.5 1312.2zM419.1 1313.6L414.5 1316.9 414.5 1312.2z"/>
<path fill="#0072de" d="M409.9 1158.5L409.9 1153.8 414.5 1157.1z"/>
<path fill="#006cd8" d="M419.1 1158.5L419.1 1163.2 414.5 1161.8zM409.9 1313.6L409.9 1308.9 414.5 1312.2zM419.1 1308.9L414.5 1307.5 419.1 1304.2z"/>
<path fill="#00f0a8" d="M404.9 1145.4L399.3 1141.3 404.9 1140.0zM436.5 1262.0L436.5 1270.4 429.7 1266.7zM399.3 1299.7L399.3 1306.3 392.5 1304.0z"/>
<path fill="#0084de" d="M409.9 1327.7L414.5 1326.3 412.9 1332.1zM409.9 1323.0L409.9 1318.3 414.5 1321.6z"/>
<path fill="#0096e4" d="M419.1 1327.7L414.5 1326.3 419.1 1323.0z"/>
<path fill="#00f096" d="M399.3 1332.7L404.9 1329.0 406.8 1335.5z"/>
<path fill="#006cde" d="M409.9 1313.6L414.5 1316.9 409.9 1318.3zM419.1 1308.9L419.1 1313.6 414.5 1312.2zM419.1 1313.6L419.1 1318.3 414.5 1316.9z"/>
<path fill="#00c6f0" d="M419.1 1191.4L419.1 1186.7 424.1 1188.6zM424.1 1210.2L419.1 1214.9 419.1 1210.2zM409.9 1276.0L409.9 1280.7 404.9 1280.4zM424.1 1269.6L419.1 1271.3 419.1 1266.6zM419.1 1280.7L424.1 1280.4 419.1 1285.4zM419.1 1200.8L424.1 1204.8 419.1 1205.5zM404.9 1215.6L409.9 1214.9 409.9 1219.6zM409.9 1224.3L404.9 1221.0 409.9 1219.6zM409.9 1182.0L404.9 1177.8 409.9 1177.3zM424.1 1275.0L419.1 1276.0 419.1 1271.3zM409.9 1238.4L404.9 1237.2 409.9 1233.7zM409.9 1290.1L409.9 1294.8 404.9 1291.2zM409.9 1294.8L409.9 1299.5 404.9 1296.6z"/>
<path fill="#005acc" d="M414.5 1274.6L409.9 1276.0 409.9 1271.3zM419.1 1261.9L414.5 1260.5 419.1 1257.2zM409.9 1214.9L409.9 1210.2 414.5 1213.5zM409.9 1229.0L414.5 1232.3 409.9 1233.7zM409.9 1257.2L409.9 1252.5 414.5 1255.8zM409.9 1261.9L409.9 1257.2 414.5 1260.5zM409.9 1266.6L409.9 1261.9 414.5 1265.2zM419.1 1219.6L419.1 1224.3 414.5 1222.9zM409.9 1243.1L409.9 1238.4 414.5 1241.7zM419.1 1252.5L419.1 1257.2 414.5 1255.8zM409.9 1247.8L409.9 1243.1 414.5 1246.4z"/>
<path fill="#00f072" d="M392.5 1228.4L392.5 1236.8 385.4 1232.7zM436.5 1236.8L436.5 1228.4 443.6 1232.5z"/>
<path fill="#00b4ea" d="M419.1 1261.9L424.1 1264.2 419.1 1266.6zM424.1 1215.6L419.1 1219.6 419.1 1214.9zM419.1 1229.0L424.1 1231.8 419.1 1233.7zM409.9 1257.2L409.9 1261.9 404.9 1258.8zM409.9 1257.2L404.9 1253.4 409.9 1252.5zM419.1 1252.5L419.1 1247.8 424.1 1248.0zM409.9 1247.8L409.9 1252.5 404.9 1248.0zM409.9 1243.1L409.9 1247.8 404.9 1248.0zM409.9 1266.6L404.9 1264.2 409.9 1261.9z"/>
<path fill="#00eac0" d="M399.3 1174.3L399.3 1180.9 392.5 1178.0zM429.7 1180.9L429.7 1174.3 436.5 1178.0zM424.1 1323.6L429.7 1319.5 429.7 1326.1z"/>
<path fill="#06f05a" d="M429.7 1147.9L429.7 1141.3 436.5 1144.4zM392.5 1144.4L399.3 1141.3 399.3 1147.9z"/>
<path fill="#00ead2" d="M429.7 1147.9L424.1 1150.8 424.1 1145.4zM399.3 1154.5L404.9 1156.2 399.3 1161.1z"/>
<path fill="#0090e4" d="M414.5 1143.0L411.6 1140.2 417.6 1140.2z"/>
<path fill="#00ccf0" d="M419.1 1144.3L414.5 1143.0 417.6 1140.2zM404.9 1183.2L409.9 1182.0 409.9 1186.7zM419.1 1182.0L419.1 1177.3 424.1 1177.8z"/>
<path fill="#00f0ae" d="M399.3 1207.3L392.5 1211.6 392.5 1203.2z"/>
<path fill="#00aeea" d="M424.1 1248.0L419.1 1247.8 419.1 1243.1z"/>
</g>
</g>
<ellipse cx="414.4" cy="1234.7" rx="309.0" ry="279.0" fill="none" stroke="#000" stroke-width="2.6"/>
<path d="M414.5 1146.0V1327.0" stroke="#001060" stroke-width="3.4" opacity="0.85"/>
<path d="M72.5 941.5H757.3" stroke="#b4b4b4" stroke-width="3.4" fill="none"/>
<path d="M73.5 940.5V1529.7H756.3V940.5" stroke="#4a4a4a" stroke-width="2" fill="none"/>
<path d="M74.1 1529.7v-3.6M74.1 941.5v3.6M84.4 1529.7v-3.6M84.4 941.5v3.6M94.8 1529.7v-3.6M94.8 941.5v3.6M73.5 1525.8h3.6M756.3 1525.8h-3.6M105.1 1529.7v-8.5M105.1 941.5v8.5M73.5 1516.5h8.5M756.3 1516.5h-8.5M115.4 1529.7v-3.6M115.4 941.5v3.6M73.5 1507.2h3.6M756.3 1507.2h-3.6M125.8 1529.7v-3.6M125.8 941.5v3.6M73.5 1497.8h3.6M756.3 1497.8h-3.6M136.1 1529.7v-3.6M136.1 941.5v3.6M73.5 1488.5h3.6M756.3 1488.5h-3.6M146.5 1529.7v-3.6M146.5 941.5v3.6M73.5 1479.1h3.6M756.3 1479.1h-3.6M156.8 1529.7v-5.5M156.8 941.5v5.5M73.5 1469.8h5.5M756.3 1469.8h-5.5M167.1 1529.7v-3.6M167.1 941.5v3.6M73.5 1460.4h3.6M756.3 1460.4h-3.6M177.5 1529.7v-3.6M177.5 941.5v3.6M73.5 1451.0h3.6M756.3 1451.0h-3.6M187.8 1529.7v-3.6M187.8 941.5v3.6M73.5 1441.7h3.6M756.3 1441.7h-3.6M198.2 1529.7v-3.6M198.2 941.5v3.6M73.5 1432.3h3.6M756.3 1432.3h-3.6M208.5 1529.7v-8.5M208.5 941.5v8.5M73.5 1423.0h8.5M756.3 1423.0h-8.5M218.8 1529.7v-3.6M218.8 941.5v3.6M73.5 1413.7h3.6M756.3 1413.7h-3.6M229.2 1529.7v-3.6M229.2 941.5v3.6M73.5 1404.3h3.6M756.3 1404.3h-3.6M239.5 1529.7v-3.6M239.5 941.5v3.6M73.5 1395.0h3.6M756.3 1395.0h-3.6M249.9 1529.7v-3.6M249.9 941.5v3.6M73.5 1385.6h3.6M756.3 1385.6h-3.6M260.2 1529.7v-5.5M260.2 941.5v5.5M73.5 1376.2h5.5M756.3 1376.2h-5.5M270.5 1529.7v-3.6M270.5 941.5v3.6M73.5 1366.9h3.6M756.3 1366.9h-3.6M280.9 1529.7v-3.6M280.9 941.5v3.6M73.5 1357.5h3.6M756.3 1357.5h-3.6M291.2 1529.7v-3.6M291.2 941.5v3.6M73.5 1348.2h3.6M756.3 1348.2h-3.6M301.6 1529.7v-3.6M301.6 941.5v3.6M73.5 1338.8h3.6M756.3 1338.8h-3.6M311.9 1529.7v-8.5M311.9 941.5v8.5M73.5 1329.5h8.5M756.3 1329.5h-8.5M322.2 1529.7v-3.6M322.2 941.5v3.6M73.5 1320.2h3.6M756.3 1320.2h-3.6M332.6 1529.7v-3.6M332.6 941.5v3.6M73.5 1310.8h3.6M756.3 1310.8h-3.6M342.9 1529.7v-3.6M342.9 941.5v3.6M73.5 1301.5h3.6M756.3 1301.5h-3.6M353.3 1529.7v-3.6M353.3 941.5v3.6M73.5 1292.1h3.6M756.3 1292.1h-3.6M363.6 1529.7v-5.5M363.6 941.5v5.5M73.5 1282.8h5.5M756.3 1282.8h-5.5M373.9 1529.7v-3.6M373.9 941.5v3.6M73.5 1273.4h3.6M756.3 1273.4h-3.6M384.3 1529.7v-3.6M384.3 941.5v3.6M73.5 1264.0h3.6M756.3 1264.0h-3.6M394.6 1529.7v-3.6M394.6 941.5v3.6M73.5 1254.7h3.6M756.3 1254.7h-3.6M405.0 1529.7v-3.6M405.0 941.5v3.6M73.5 1245.3h3.6M756.3 1245.3h-3.6M415.3 1529.7v-8.5M415.3 941.5v8.5M73.5 1236.0h8.5M756.3 1236.0h-8.5M425.6 1529.7v-3.6M425.6 941.5v3.6M73.5 1226.7h3.6M756.3 1226.7h-3.6M436.0 1529.7v-3.6M436.0 941.5v3.6M73.5 1217.3h3.6M756.3 1217.3h-3.6M446.3 1529.7v-3.6M446.3 941.5v3.6M73.5 1208.0h3.6M756.3 1208.0h-3.6M456.7 1529.7v-3.6M456.7 941.5v3.6M73.5 1198.6h3.6M756.3 1198.6h-3.6M467.0 1529.7v-5.5M467.0 941.5v5.5M73.5 1189.2h5.5M756.3 1189.2h-5.5M477.3 1529.7v-3.6M477.3 941.5v3.6M73.5 1179.9h3.6M756.3 1179.9h-3.6M487.7 1529.7v-3.6M487.7 941.5v3.6M73.5 1170.5h3.6M756.3 1170.5h-3.6M498.0 1529.7v-3.6M498.0 941.5v3.6M73.5 1161.2h3.6M756.3 1161.2h-3.6M508.4 1529.7v-3.6M508.4 941.5v3.6M73.5 1151.8h3.6M756.3 1151.8h-3.6M518.7 1529.7v-8.5M518.7 941.5v8.5M73.5 1142.5h8.5M756.3 1142.5h-8.5M529.0 1529.7v-3.6M529.0 941.5v3.6M73.5 1133.2h3.6M756.3 1133.2h-3.6M539.4 1529.7v-3.6M539.4 941.5v3.6M73.5 1123.8h3.6M756.3 1123.8h-3.6M549.7 1529.7v-3.6M549.7 941.5v3.6M73.5 1114.5h3.6M756.3 1114.5h-3.6M560.1 1529.7v-3.6M560.1 941.5v3.6M73.5 1105.1h3.6M756.3 1105.1h-3.6M570.4 1529.7v-5.5M570.4 941.5v5.5M73.5 1095.8h5.5M756.3 1095.8h-5.5M580.7 1529.7v-3.6M580.7 941.5v3.6M73.5 1086.4h3.6M756.3 1086.4h-3.6M591.1 1529.7v-3.6M591.1 941.5v3.6M73.5 1077.0h3.6M756.3 1077.0h-3.6M601.4 1529.7v-3.6M601.4 941.5v3.6M73.5 1067.7h3.6M756.3 1067.7h-3.6M611.8 1529.7v-3.6M611.8 941.5v3.6M73.5 1058.3h3.6M756.3 1058.3h-3.6M622.1 1529.7v-8.5M622.1 941.5v8.5M73.5 1049.0h8.5M756.3 1049.0h-8.5M632.4 1529.7v-3.6M632.4 941.5v3.6M73.5 1039.7h3.6M756.3 1039.7h-3.6M642.8 1529.7v-3.6M642.8 941.5v3.6M73.5 1030.3h3.6M756.3 1030.3h-3.6M653.1 1529.7v-3.6M653.1 941.5v3.6M73.5 1021.0h3.6M756.3 1021.0h-3.6M663.5 1529.7v-3.6M663.5 941.5v3.6M73.5 1011.6h3.6M756.3 1011.6h-3.6M673.8 1529.7v-5.5M673.8 941.5v5.5M73.5 1002.2h5.5M756.3 1002.2h-5.5M684.1 1529.7v-3.6M684.1 941.5v3.6M73.5 992.9h3.6M756.3 992.9h-3.6M694.5 1529.7v-3.6M694.5 941.5v3.6M73.5 983.5h3.6M756.3 983.5h-3.6M704.8 1529.7v-3.6M704.8 941.5v3.6M73.5 974.2h3.6M756.3 974.2h-3.6M715.2 1529.7v-3.6M715.2 941.5v3.6M73.5 964.8h3.6M756.3 964.8h-3.6M725.5 1529.7v-8.5M725.5 941.5v8.5M73.5 955.5h8.5M756.3 955.5h-8.5M735.8 1529.7v-3.6M735.8 941.5v3.6M73.5 946.1h3.6M756.3 946.1h-3.6M746.2 1529.7v-3.6M746.2 941.5v3.6" stroke="#4a4a4a" stroke-width="1.5" fill="none"/>
<text transform="translate(73.2,964.9) scale(1,1.2)" text-anchor="end" style="font-family:'Liberation Sans', Arial, Helvetica, sans-serif;font-weight:bold;font-size:15px;letter-spacing:0.9px;fill:#2a2a2a;stroke:#2a2a2a;stroke-width:0.3px">300</text>
<text transform="translate(725.7,1548.6) scale(1,1.2)" text-anchor="middle" style="font-family:'Liberation Sans', Arial, Helvetica, sans-serif;font-weight:bold;font-size:15px;letter-spacing:0.9px;fill:#2a2a2a;stroke:#2a2a2a;stroke-width:0.3px">300</text>
<text transform="translate(73.2,1058.4) scale(1,1.2)" text-anchor="end" style="font-family:'Liberation Sans', Arial, Helvetica, sans-serif;font-weight:bold;font-size:15px;letter-spacing:0.9px;fill:#2a2a2a;stroke:#2a2a2a;stroke-width:0.3px">200</text>
<text transform="translate(622.3,1548.6) scale(1,1.2)" text-anchor="middle" style="font-family:'Liberation Sans', Arial, Helvetica, sans-serif;font-weight:bold;font-size:15px;letter-spacing:0.9px;fill:#2a2a2a;stroke:#2a2a2a;stroke-width:0.3px">200</text>
<text transform="translate(73.2,1151.9) scale(1,1.2)" text-anchor="end" style="font-family:'Liberation Sans', Arial, Helvetica, sans-serif;font-weight:bold;font-size:15px;letter-spacing:0.9px;fill:#2a2a2a;stroke:#2a2a2a;stroke-width:0.3px">100</text>
<text transform="translate(518.9,1548.6) scale(1,1.2)" text-anchor="middle" style="font-family:'Liberation Sans', Arial, Helvetica, sans-serif;font-weight:bold;font-size:15px;letter-spacing:0.9px;fill:#2a2a2a;stroke:#2a2a2a;stroke-width:0.3px">100</text>
<text transform="translate(73.2,1245.4) scale(1,1.2)" text-anchor="end" style="font-family:'Liberation Sans', Arial, Helvetica, sans-serif;font-weight:bold;font-size:15px;letter-spacing:0.9px;fill:#2a2a2a;stroke:#2a2a2a;stroke-width:0.3px">0</text>
<text transform="translate(415.5,1548.6) scale(1,1.2)" text-anchor="middle" style="font-family:'Liberation Sans', Arial, Helvetica, sans-serif;font-weight:bold;font-size:15px;letter-spacing:0.9px;fill:#2a2a2a;stroke:#2a2a2a;stroke-width:0.3px">0</text>
<text transform="translate(73.2,1338.9) scale(1,1.2)" text-anchor="end" style="font-family:'Liberation Sans', Arial, Helvetica, sans-serif;font-weight:bold;font-size:15px;letter-spacing:0.9px;fill:#2a2a2a;stroke:#2a2a2a;stroke-width:0.3px">-100</text>
<text transform="translate(312.1,1548.6) scale(1,1.2)" text-anchor="middle" style="font-family:'Liberation Sans', Arial, Helvetica, sans-serif;font-weight:bold;font-size:15px;letter-spacing:0.9px;fill:#2a2a2a;stroke:#2a2a2a;stroke-width:0.3px">-100</text>
<text transform="translate(73.2,1432.4) scale(1,1.2)" text-anchor="end" style="font-family:'Liberation Sans', Arial, Helvetica, sans-serif;font-weight:bold;font-size:15px;letter-spacing:0.9px;fill:#2a2a2a;stroke:#2a2a2a;stroke-width:0.3px">-200</text>
<text transform="translate(208.7,1548.6) scale(1,1.2)" text-anchor="middle" style="font-family:'Liberation Sans', Arial, Helvetica, sans-serif;font-weight:bold;font-size:15px;letter-spacing:0.9px;fill:#2a2a2a;stroke:#2a2a2a;stroke-width:0.3px">-200</text>
<text transform="translate(73.2,1525.9) scale(1,1.2)" text-anchor="end" style="font-family:'Liberation Sans', Arial, Helvetica, sans-serif;font-weight:bold;font-size:15px;letter-spacing:0.9px;fill:#2a2a2a;stroke:#2a2a2a;stroke-width:0.3px">-300</text>
<text transform="translate(105.3,1548.6) scale(1,1.2)" text-anchor="middle" style="font-family:'Liberation Sans', Arial, Helvetica, sans-serif;font-weight:bold;font-size:15px;letter-spacing:0.9px;fill:#2a2a2a;stroke:#2a2a2a;stroke-width:0.3px">-300</text>
<rect x="760.7" y="939.0" width="30.6" height="214.29999999999995" fill="#c8d4d4"/>
<rect x="761.5" y="940.5" width="29.0" height="21.2" fill="#ff0000" stroke="#181818" stroke-opacity="0.85" stroke-width="1.6"/>
<text transform="translate(797,959.1) scale(1,1.2)" style="font-family:'Liberation Sans', Arial, Helvetica, sans-serif;font-weight:bold;font-size:15px;letter-spacing:0.9px;fill:#2a2a2a;stroke:#2a2a2a;stroke-width:0.3px">0.4000</text>
<rect x="761.5" y="961.7" width="29.0" height="21.2" fill="#ff7200" stroke="#181818" stroke-opacity="0.85" stroke-width="1.6"/>
<text transform="translate(797,980.3) scale(1,1.2)" style="font-family:'Liberation Sans', Arial, Helvetica, sans-serif;font-weight:bold;font-size:15px;letter-spacing:0.9px;fill:#2a2a2a;stroke:#2a2a2a;stroke-width:0.3px">0.3996</text>
<rect x="761.5" y="982.9" width="29.0" height="21.2" fill="#ffe400" stroke="#181818" stroke-opacity="0.85" stroke-width="1.6"/>
<text transform="translate(797,1001.5) scale(1,1.2)" style="font-family:'Liberation Sans', Arial, Helvetica, sans-serif;font-weight:bold;font-size:15px;letter-spacing:0.9px;fill:#2a2a2a;stroke:#2a2a2a;stroke-width:0.3px">0.3993</text>
<rect x="761.5" y="1004.0" width="29.0" height="21.2" fill="#aaf808" stroke="#181818" stroke-opacity="0.85" stroke-width="1.6"/>
<text transform="translate(797,1022.6) scale(1,1.2)" style="font-family:'Liberation Sans', Arial, Helvetica, sans-serif;font-weight:bold;font-size:15px;letter-spacing:0.9px;fill:#2a2a2a;stroke:#2a2a2a;stroke-width:0.3px">0.3989</text>
<rect x="761.5" y="1025.2" width="29.0" height="21.2" fill="#38fa00" stroke="#181818" stroke-opacity="0.85" stroke-width="1.6"/>
<text transform="translate(797,1043.8) scale(1,1.2)" style="font-family:'Liberation Sans', Arial, Helvetica, sans-serif;font-weight:bold;font-size:15px;letter-spacing:0.9px;fill:#2a2a2a;stroke:#2a2a2a;stroke-width:0.3px">0.3985</text>
<rect x="761.5" y="1046.4" width="29.0" height="21.2" fill="#00f038" stroke="#181818" stroke-opacity="0.85" stroke-width="1.6"/>
<text transform="translate(797,1065.0) scale(1,1.2)" style="font-family:'Liberation Sans', Arial, Helvetica, sans-serif;font-weight:bold;font-size:15px;letter-spacing:0.9px;fill:#2a2a2a;stroke:#2a2a2a;stroke-width:0.3px">0.3981</text>
<rect x="761.5" y="1067.6" width="29.0" height="21.2" fill="#00fca0" stroke="#181818" stroke-opacity="0.85" stroke-width="1.6"/>
<text transform="translate(797,1086.2) scale(1,1.2)" style="font-family:'Liberation Sans', Arial, Helvetica, sans-serif;font-weight:bold;font-size:15px;letter-spacing:0.9px;fill:#2a2a2a;stroke:#2a2a2a;stroke-width:0.3px">0.3977</text>
<rect x="761.5" y="1088.8" width="29.0" height="21.2" fill="#00e0ff" stroke="#181818" stroke-opacity="0.85" stroke-width="1.6"/>
<text transform="translate(797,1107.4) scale(1,1.2)" style="font-family:'Liberation Sans', Arial, Helvetica, sans-serif;font-weight:bold;font-size:15px;letter-spacing:0.9px;fill:#2a2a2a;stroke:#2a2a2a;stroke-width:0.3px">0.3974</text>
<rect x="761.5" y="1109.9" width="29.0" height="21.2" fill="#0c70f0" stroke="#181818" stroke-opacity="0.85" stroke-width="1.6"/>
<text transform="translate(797,1128.5) scale(1,1.2)" style="font-family:'Liberation Sans', Arial, Helvetica, sans-serif;font-weight:bold;font-size:15px;letter-spacing:0.9px;fill:#2a2a2a;stroke:#2a2a2a;stroke-width:0.3px">0.3970</text>
<rect x="761.5" y="1131.1" width="29.0" height="21.2" fill="#0000ff" stroke="#181818" stroke-opacity="0.85" stroke-width="1.6"/>
<text transform="translate(797,1149.7) scale(1,1.2)" style="font-family:'Liberation Sans', Arial, Helvetica, sans-serif;font-weight:bold;font-size:15px;letter-spacing:0.9px;fill:#2a2a2a;stroke:#2a2a2a;stroke-width:0.3px">0.3966</text>
</g>
<rect x="847.2" y="934" width="2.6" height="632.7" fill="#f5f5f5"/>
<rect x="36" y="1565.2" width="812" height="1.4" fill="#fdfdfd"/>
<rect x="376.5" y="1200" width="72" height="32.5" fill="#5b9bd5"/>
<text x="412.5" y="1222.5" text-anchor="middle" style="font-family:'Liberation Sans', Arial, Helvetica, sans-serif;font-size:16.5px;fill:#fff">well1</text>
<rect x="424.8" y="1319" width="9.5" height="15" fill="#f4f4f4" stroke="#555" stroke-width="0.6"/>
<text x="429.6" y="1331.3" text-anchor="middle" style="font-family:'Liberation Sans', Arial, Helvetica, sans-serif;font-weight:bold;font-size:12.5px;fill:#222">1</text>
<text x="768.6" y="932.3" style="font-family:'Liberation Sans', Arial, Helvetica, sans-serif;font-style:italic;font-size:18px;stroke:#000;stroke-width:0.55px">S<tspan dy="5.8" dx="0.5" font-style="normal" font-size="12.5px" stroke-width="0.3">g</tspan></text>
<text x="432" y="1573.6" text-anchor="middle" style="font-family:'DejaVu Sans', 'Liberation Sans', sans-serif;font-size:18.9px">x (m)</text>
<text transform="translate(28.2,1250) rotate(-90)" text-anchor="middle" style="font-family:'DejaVu Sans', 'Liberation Sans', sans-serif;font-size:18.9px">y (m)</text>
<text x="10.4" y="938" style="font-family:'Liberation Sans', Arial, Helvetica, sans-serif;font-weight:bold;font-size:43.3px">B</text>
<text x="5" y="1698.5" style="font-family:'Liberation Serif', 'Times New Roman', Times, serif;font-size:42.2px">Gas saturation calculated by the proposed model</text>
</g>
<g id="panelC">
<filter id="blC" x="-2%" y="-2%" width="104%" height="104%"><feGaussianBlur stdDeviation="1.7"/></filter>
<rect x="1019.0" y="931.0" width="750.0" height="657.0" fill="#999999"/>
<clipPath id="clipC"><ellipse cx="1325.2" cy="1260.3" rx="283.6" ry="287.4"/></clipPath>
<clipPath id="clipCg"><rect x="1019.0" y="931.0" width="750.0" height="657.0"/></clipPath>
<g clip-path="url(#clipCg)"><g filter="url(#blC)">
<ellipse cx="1324.8" cy="1260.6" rx="287.20000000000005" ry="291.2" fill="#a06048" opacity="0.8"/>
<ellipse cx="1325.8" cy="1261.1" rx="285.8" ry="289.79999999999995" fill="#6a3012"/>
<ellipse cx="1325.2" cy="1260.3" rx="283.6" ry="287.4" fill="#c80000"/>
<g clip-path="url(#clipC)">
<path fill="#c70808" d="M1255.1 972.3a13.2 13.2 0 1 0 26.4 0a13.2 13.2 0 1 0 -26.4 0zM1277.9 972.3a13.2 13.2 0 1 0 26.4 0a13.2 13.2 0 1 0 -26.4 0zM1300.6 972.3a13.2 13.2 0 1 0 26.4 0a13.2 13.2 0 1 0 -26.4 0zM1323.4 972.3a13.2 13.2 0 1 0 26.4 0a13.2 13.2 0 1 0 -26.4 0zM1346.1 972.3a13.2 13.2 0 1 0 26.4 0a13.2 13.2 0 1 0 -26.4 0zM1368.9 972.3a13.2 13.2 0 1 0 26.4 0a13.2 13.2 0 1 0 -26.4 0zM1198.2 991.5a13.2 13.2 0 1 0 26.4 0a13.2 13.2 0 1 0 -26.4 0zM1221.0 991.5a13.2 13.2 0 1 0 26.4 0a13.2 13.2 0 1 0 -26.4 0zM1243.8 991.5a13.2 13.2 0 1 0 26.4 0a13.2 13.2 0 1 0 -26.4 0zM1380.2 991.5a13.2 13.2 0 1 0 26.4 0a13.2 13.2 0 1 0 -26.4 0zM1403.0 991.5a13.2 13.2 0 1 0 26.4 0a13.2 13.2 0 1 0 -26.4 0zM1425.8 991.5a13.2 13.2 0 1 0 26.4 0a13.2 13.2 0 1 0 -26.4 0zM1164.1 1010.7a13.2 13.2 0 1 0 26.4 0a13.2 13.2 0 1 0 -26.4 0zM1186.9 1010.7a13.2 13.2 0 1 0 26.4 0a13.2 13.2 0 1 0 -26.4 0zM1209.6 1010.7a13.2 13.2 0 1 0 26.4 0a13.2 13.2 0 1 0 -26.4 0zM1414.4 1010.7a13.2 13.2 0 1 0 26.4 0a13.2 13.2 0 1 0 -26.4 0zM1437.1 1010.7a13.2 13.2 0 1 0 26.4 0a13.2 13.2 0 1 0 -26.4 0zM1459.9 1010.7a13.2 13.2 0 1 0 26.4 0a13.2 13.2 0 1 0 -26.4 0zM1130.0 1029.9a13.2 13.2 0 1 0 26.4 0a13.2 13.2 0 1 0 -26.4 0zM1152.8 1029.9a13.2 13.2 0 1 0 26.4 0a13.2 13.2 0 1 0 -26.4 0zM1175.5 1029.9a13.2 13.2 0 1 0 26.4 0a13.2 13.2 0 1 0 -26.4 0zM1448.5 1029.9a13.2 13.2 0 1 0 26.4 0a13.2 13.2 0 1 0 -26.4 0zM1471.2 1029.9a13.2 13.2 0 1 0 26.4 0a13.2 13.2 0 1 0 -26.4 0zM1494.0 1029.9a13.2 13.2 0 1 0 26.4 0a13.2 13.2 0 1 0 -26.4 0zM1118.6 1049.1a13.2 13.2 0 1 0 26.4 0a13.2 13.2 0 1 0 -26.4 0zM1141.4 1049.1a13.2 13.2 0 1 0 26.4 0a13.2 13.2 0 1 0 -26.4 0zM1164.1 1049.1a13.2 13.2 0 1 0 26.4 0a13.2 13.2 0 1 0 -26.4 0zM1459.9 1049.1a13.2 13.2 0 1 0 26.4 0a13.2 13.2 0 1 0 -26.4 0zM1482.6 1049.1a13.2 13.2 0 1 0 26.4 0a13.2 13.2 0 1 0 -26.4 0zM1505.4 1049.1a13.2 13.2 0 1 0 26.4 0a13.2 13.2 0 1 0 -26.4 0zM1107.2 1068.3a13.2 13.2 0 1 0 26.4 0a13.2 13.2 0 1 0 -26.4 0zM1130.0 1068.3a13.2 13.2 0 1 0 26.4 0a13.2 13.2 0 1 0 -26.4 0zM1152.8 1068.3a13.2 13.2 0 1 0 26.4 0a13.2 13.2 0 1 0 -26.4 0zM1471.2 1068.3a13.2 13.2 0 1 0 26.4 0a13.2 13.2 0 1 0 -26.4 0zM1494.0 1068.3a13.2 13.2 0 1 0 26.4 0a13.2 13.2 0 1 0 -26.4 0zM1516.8 1068.3a13.2 13.2 0 1 0 26.4 0a13.2 13.2 0 1 0 -26.4 0zM1073.1 1087.5a13.2 13.2 0 1 0 26.4 0a13.2 13.2 0 1 0 -26.4 0zM1095.9 1087.5a13.2 13.2 0 1 0 26.4 0a13.2 13.2 0 1 0 -26.4 0zM1118.6 1087.5a13.2 13.2 0 1 0 26.4 0a13.2 13.2 0 1 0 -26.4 0zM1141.4 1087.5a13.2 13.2 0 1 0 26.4 0a13.2 13.2 0 1 0 -26.4 0zM1482.6 1087.5a13.2 13.2 0 1 0 26.4 0a13.2 13.2 0 1 0 -26.4 0zM1505.4 1087.5a13.2 13.2 0 1 0 26.4 0a13.2 13.2 0 1 0 -26.4 0zM1528.1 1087.5a13.2 13.2 0 1 0 26.4 0a13.2 13.2 0 1 0 -26.4 0zM1550.9 1087.5a13.2 13.2 0 1 0 26.4 0a13.2 13.2 0 1 0 -26.4 0zM1061.8 1106.7a13.2 13.2 0 1 0 26.4 0a13.2 13.2 0 1 0 -26.4 0zM1084.5 1106.7a13.2 13.2 0 1 0 26.4 0a13.2 13.2 0 1 0 -26.4 0zM1107.2 1106.7a13.2 13.2 0 1 0 26.4 0a13.2 13.2 0 1 0 -26.4 0zM1130.0 1106.7a13.2 13.2 0 1 0 26.4 0a13.2 13.2 0 1 0 -26.4 0zM1494.0 1106.7a13.2 13.2 0 1 0 26.4 0a13.2 13.2 0 1 0 -26.4 0zM1516.8 1106.7a13.2 13.2 0 1 0 26.4 0a13.2 13.2 0 1 0 -26.4 0zM1539.5 1106.7a13.2 13.2 0 1 0 26.4 0a13.2 13.2 0 1 0 -26.4 0zM1562.2 1106.7a13.2 13.2 0 1 0 26.4 0a13.2 13.2 0 1 0 -26.4 0zM1050.4 1125.9a13.2 13.2 0 1 0 26.4 0a13.2 13.2 0 1 0 -26.4 0zM1073.1 1125.9a13.2 13.2 0 1 0 26.4 0a13.2 13.2 0 1 0 -26.4 0zM1095.9 1125.9a13.2 13.2 0 1 0 26.4 0a13.2 13.2 0 1 0 -26.4 0zM1118.6 1125.9a13.2 13.2 0 1 0 26.4 0a13.2 13.2 0 1 0 -26.4 0zM1505.4 1125.9a13.2 13.2 0 1 0 26.4 0a13.2 13.2 0 1 0 -26.4 0zM1528.1 1125.9a13.2 13.2 0 1 0 26.4 0a13.2 13.2 0 1 0 -26.4 0zM1550.9 1125.9a13.2 13.2 0 1 0 26.4 0a13.2 13.2 0 1 0 -26.4 0zM1573.6 1125.9a13.2 13.2 0 1 0 26.4 0a13.2 13.2 0 1 0 -26.4 0zM1061.8 1145.1a13.2 13.2 0 1 0 26.4 0a13.2 13.2 0 1 0 -26.4 0zM1084.5 1145.1a13.2 13.2 0 1 0 26.4 0a13.2 13.2 0 1 0 -26.4 0zM1107.2 1145.1a13.2 13.2 0 1 0 26.4 0a13.2 13.2 0 1 0 -26.4 0zM1516.8 1145.1a13.2 13.2 0 1 0 26.4 0a13.2 13.2 0 1 0 -26.4 0zM1539.5 1145.1a13.2 13.2 0 1 0 26.4 0a13.2 13.2 0 1 0 -26.4 0zM1562.2 1145.1a13.2 13.2 0 1 0 26.4 0a13.2 13.2 0 1 0 -26.4 0zM1050.4 1164.3a13.2 13.2 0 1 0 26.4 0a13.2 13.2 0 1 0 -26.4 0zM1073.1 1164.3a13.2 13.2 0 1 0 26.4 0a13.2 13.2 0 1 0 -26.4 0zM1095.9 1164.3a13.2 13.2 0 1 0 26.4 0a13.2 13.2 0 1 0 -26.4 0zM1528.1 1164.3a13.2 13.2 0 1 0 26.4 0a13.2 13.2 0 1 0 -26.4 0zM1550.9 1164.3a13.2 13.2 0 1 0 26.4 0a13.2 13.2 0 1 0 -26.4 0zM1573.6 1164.3a13.2 13.2 0 1 0 26.4 0a13.2 13.2 0 1 0 -26.4 0zM1039.0 1183.5a13.2 13.2 0 1 0 26.4 0a13.2 13.2 0 1 0 -26.4 0zM1061.8 1183.5a13.2 13.2 0 1 0 26.4 0a13.2 13.2 0 1 0 -26.4 0zM1084.5 1183.5a13.2 13.2 0 1 0 26.4 0a13.2 13.2 0 1 0 -26.4 0zM1539.5 1183.5a13.2 13.2 0 1 0 26.4 0a13.2 13.2 0 1 0 -26.4 0zM1562.2 1183.5a13.2 13.2 0 1 0 26.4 0a13.2 13.2 0 1 0 -26.4 0zM1585.0 1183.5a13.2 13.2 0 1 0 26.4 0a13.2 13.2 0 1 0 -26.4 0zM1027.6 1202.7a13.2 13.2 0 1 0 26.4 0a13.2 13.2 0 1 0 -26.4 0zM1050.4 1202.7a13.2 13.2 0 1 0 26.4 0a13.2 13.2 0 1 0 -26.4 0zM1073.1 1202.7a13.2 13.2 0 1 0 26.4 0a13.2 13.2 0 1 0 -26.4 0zM1095.9 1202.7a13.2 13.2 0 1 0 26.4 0a13.2 13.2 0 1 0 -26.4 0zM1528.1 1202.7a13.2 13.2 0 1 0 26.4 0a13.2 13.2 0 1 0 -26.4 0zM1550.9 1202.7a13.2 13.2 0 1 0 26.4 0a13.2 13.2 0 1 0 -26.4 0zM1573.6 1202.7a13.2 13.2 0 1 0 26.4 0a13.2 13.2 0 1 0 -26.4 0zM1596.4 1202.7a13.2 13.2 0 1 0 26.4 0a13.2 13.2 0 1 0 -26.4 0zM1039.0 1221.9a13.2 13.2 0 1 0 26.4 0a13.2 13.2 0 1 0 -26.4 0zM1061.8 1221.9a13.2 13.2 0 1 0 26.4 0a13.2 13.2 0 1 0 -26.4 0zM1084.5 1221.9a13.2 13.2 0 1 0 26.4 0a13.2 13.2 0 1 0 -26.4 0zM1539.5 1221.9a13.2 13.2 0 1 0 26.4 0a13.2 13.2 0 1 0 -26.4 0zM1562.2 1221.9a13.2 13.2 0 1 0 26.4 0a13.2 13.2 0 1 0 -26.4 0zM1585.0 1221.9a13.2 13.2 0 1 0 26.4 0a13.2 13.2 0 1 0 -26.4 0zM1027.6 1241.1a13.2 13.2 0 1 0 26.4 0a13.2 13.2 0 1 0 -26.4 0zM1050.4 1241.1a13.2 13.2 0 1 0 26.4 0a13.2 13.2 0 1 0 -26.4 0zM1073.1 1241.1a13.2 13.2 0 1 0 26.4 0a13.2 13.2 0 1 0 -26.4 0zM1095.9 1241.1a13.2 13.2 0 1 0 26.4 0a13.2 13.2 0 1 0 -26.4 0zM1528.1 1241.1a13.2 13.2 0 1 0 26.4 0a13.2 13.2 0 1 0 -26.4 0zM1550.9 1241.1a13.2 13.2 0 1 0 26.4 0a13.2 13.2 0 1 0 -26.4 0zM1573.6 1241.1a13.2 13.2 0 1 0 26.4 0a13.2 13.2 0 1 0 -26.4 0zM1596.4 1241.1a13.2 13.2 0 1 0 26.4 0a13.2 13.2 0 1 0 -26.4 0zM1039.0 1260.3a13.2 13.2 0 1 0 26.4 0a13.2 13.2 0 1 0 -26.4 0zM1061.8 1260.3a13.2 13.2 0 1 0 26.4 0a13.2 13.2 0 1 0 -26.4 0zM1084.5 1260.3a13.2 13.2 0 1 0 26.4 0a13.2 13.2 0 1 0 -26.4 0zM1539.5 1260.3a13.2 13.2 0 1 0 26.4 0a13.2 13.2 0 1 0 -26.4 0zM1562.2 1260.3a13.2 13.2 0 1 0 26.4 0a13.2 13.2 0 1 0 -26.4 0zM1585.0 1260.3a13.2 13.2 0 1 0 26.4 0a13.2 13.2 0 1 0 -26.4 0zM1027.6 1279.5a13.2 13.2 0 1 0 26.4 0a13.2 13.2 0 1 0 -26.4 0zM1050.4 1279.5a13.2 13.2 0 1 0 26.4 0a13.2 13.2 0 1 0 -26.4 0zM1073.1 1279.5a13.2 13.2 0 1 0 26.4 0a13.2 13.2 0 1 0 -26.4 0zM1095.9 1279.5a13.2 13.2 0 1 0 26.4 0a13.2 13.2 0 1 0 -26.4 0zM1528.1 1279.5a13.2 13.2 0 1 0 26.4 0a13.2 13.2 0 1 0 -26.4 0zM1550.9 1279.5a13.2 13.2 0 1 0 26.4 0a13.2 13.2 0 1 0 -26.4 0zM1573.6 1279.5a13.2 13.2 0 1 0 26.4 0a13.2 13.2 0 1 0 -26.4 0zM1596.4 1279.5a13.2 13.2 0 1 0 26.4 0a13.2 13.2 0 1 0 -26.4 0zM1039.0 1298.7a13.2 13.2 0 1 0 26.4 0a13.2 13.2 0 1 0 -26.4 0zM1061.8 1298.7a13.2 13.2 0 1 0 26.4 0a13.2 13.2 0 1 0 -26.4 0zM1084.5 1298.7a13.2 13.2 0 1 0 26.4 0a13.2 13.2 0 1 0 -26.4 0zM1539.5 1298.7a13.2 13.2 0 1 0 26.4 0a13.2 13.2 0 1 0 -26.4 0zM1562.2 1298.7a13.2 13.2 0 1 0 26.4 0a13.2 13.2 0 1 0 -26.4 0zM1585.0 1298.7a13.2 13.2 0 1 0 26.4 0a13.2 13.2 0 1 0 -26.4 0zM1027.6 1317.9a13.2 13.2 0 1 0 26.4 0a13.2 13.2 0 1 0 -26.4 0zM1050.4 1317.9a13.2 13.2 0 1 0 26.4 0a13.2 13.2 0 1 0 -26.4 0zM1073.1 1317.9a13.2 13.2 0 1 0 26.4 0a13.2 13.2 0 1 0 -26.4 0zM1095.9 1317.9a13.2 13.2 0 1 0 26.4 0a13.2 13.2 0 1 0 -26.4 0zM1528.1 1317.9a13.2 13.2 0 1 0 26.4 0a13.2 13.2 0 1 0 -26.4 0zM1550.9 1317.9a13.2 13.2 0 1 0 26.4 0a13.2 13.2 0 1 0 -26.4 0zM1573.6 1317.9a13.2 13.2 0 1 0 26.4 0a13.2 13.2 0 1 0 -26.4 0zM1596.4 1317.9a13.2 13.2 0 1 0 26.4 0a13.2 13.2 0 1 0 -26.4 0zM1039.0 1337.1a13.2 13.2 0 1 0 26.4 0a13.2 13.2 0 1 0 -26.4 0zM1061.8 1337.1a13.2 13.2 0 1 0 26.4 0a13.2 13.2 0 1 0 -26.4 0zM1084.5 1337.1a13.2 13.2 0 1 0 26.4 0a13.2 13.2 0 1 0 -26.4 0zM1539.5 1337.1a13.2 13.2 0 1 0 26.4 0a13.2 13.2 0 1 0 -26.4 0zM1562.2 1337.1a13.2 13.2 0 1 0 26.4 0a13.2 13.2 0 1 0 -26.4 0zM1585.0 1337.1a13.2 13.2 0 1 0 26.4 0a13.2 13.2 0 1 0 -26.4 0zM1050.4 1356.3a13.2 13.2 0 1 0 26.4 0a13.2 13.2 0 1 0 -26.4 0zM1073.1 1356.3a13.2 13.2 0 1 0 26.4 0a13.2 13.2 0 1 0 -26.4 0zM1095.9 1356.3a13.2 13.2 0 1 0 26.4 0a13.2 13.2 0 1 0 -26.4 0zM1528.1 1356.3a13.2 13.2 0 1 0 26.4 0a13.2 13.2 0 1 0 -26.4 0zM1550.9 1356.3a13.2 13.2 0 1 0 26.4 0a13.2 13.2 0 1 0 -26.4 0zM1573.6 1356.3a13.2 13.2 0 1 0 26.4 0a13.2 13.2 0 1 0 -26.4 0zM1061.8 1375.5a13.2 13.2 0 1 0 26.4 0a13.2 13.2 0 1 0 -26.4 0zM1084.5 1375.5a13.2 13.2 0 1 0 26.4 0a13.2 13.2 0 1 0 -26.4 0zM1107.2 1375.5a13.2 13.2 0 1 0 26.4 0a13.2 13.2 0 1 0 -26.4 0zM1516.8 1375.5a13.2 13.2 0 1 0 26.4 0a13.2 13.2 0 1 0 -26.4 0zM1539.5 1375.5a13.2 13.2 0 1 0 26.4 0a13.2 13.2 0 1 0 -26.4 0zM1562.2 1375.5a13.2 13.2 0 1 0 26.4 0a13.2 13.2 0 1 0 -26.4 0zM1050.4 1394.7a13.2 13.2 0 1 0 26.4 0a13.2 13.2 0 1 0 -26.4 0zM1073.1 1394.7a13.2 13.2 0 1 0 26.4 0a13.2 13.2 0 1 0 -26.4 0zM1095.9 1394.7a13.2 13.2 0 1 0 26.4 0a13.2 13.2 0 1 0 -26.4 0zM1118.6 1394.7a13.2 13.2 0 1 0 26.4 0a13.2 13.2 0 1 0 -26.4 0zM1505.4 1394.7a13.2 13.2 0 1 0 26.4 0a13.2 13.2 0 1 0 -26.4 0zM1528.1 1394.7a13.2 13.2 0 1 0 26.4 0a13.2 13.2 0 1 0 -26.4 0zM1550.9 1394.7a13.2 13.2 0 1 0 26.4 0a13.2 13.2 0 1 0 -26.4 0zM1573.6 1394.7a13.2 13.2 0 1 0 26.4 0a13.2 13.2 0 1 0 -26.4 0zM1061.8 1413.9a13.2 13.2 0 1 0 26.4 0a13.2 13.2 0 1 0 -26.4 0zM1084.5 1413.9a13.2 13.2 0 1 0 26.4 0a13.2 13.2 0 1 0 -26.4 0zM1107.2 1413.9a13.2 13.2 0 1 0 26.4 0a13.2 13.2 0 1 0 -26.4 0zM1130.0 1413.9a13.2 13.2 0 1 0 26.4 0a13.2 13.2 0 1 0 -26.4 0zM1494.0 1413.9a13.2 13.2 0 1 0 26.4 0a13.2 13.2 0 1 0 -26.4 0zM1516.8 1413.9a13.2 13.2 0 1 0 26.4 0a13.2 13.2 0 1 0 -26.4 0zM1539.5 1413.9a13.2 13.2 0 1 0 26.4 0a13.2 13.2 0 1 0 -26.4 0zM1562.2 1413.9a13.2 13.2 0 1 0 26.4 0a13.2 13.2 0 1 0 -26.4 0zM1073.1 1433.1a13.2 13.2 0 1 0 26.4 0a13.2 13.2 0 1 0 -26.4 0zM1095.9 1433.1a13.2 13.2 0 1 0 26.4 0a13.2 13.2 0 1 0 -26.4 0zM1118.6 1433.1a13.2 13.2 0 1 0 26.4 0a13.2 13.2 0 1 0 -26.4 0zM1141.4 1433.1a13.2 13.2 0 1 0 26.4 0a13.2 13.2 0 1 0 -26.4 0zM1482.6 1433.1a13.2 13.2 0 1 0 26.4 0a13.2 13.2 0 1 0 -26.4 0zM1505.4 1433.1a13.2 13.2 0 1 0 26.4 0a13.2 13.2 0 1 0 -26.4 0zM1528.1 1433.1a13.2 13.2 0 1 0 26.4 0a13.2 13.2 0 1 0 -26.4 0zM1550.9 1433.1a13.2 13.2 0 1 0 26.4 0a13.2 13.2 0 1 0 -26.4 0zM1107.2 1452.3a13.2 13.2 0 1 0 26.4 0a13.2 13.2 0 1 0 -26.4 0zM1130.0 1452.3a13.2 13.2 0 1 0 26.4 0a13.2 13.2 0 1 0 -26.4 0zM1152.8 1452.3a13.2 13.2 0 1 0 26.4 0a13.2 13.2 0 1 0 -26.4 0zM1471.2 1452.3a13.2 13.2 0 1 0 26.4 0a13.2 13.2 0 1 0 -26.4 0zM1494.0 1452.3a13.2 13.2 0 1 0 26.4 0a13.2 13.2 0 1 0 -26.4 0zM1516.8 1452.3a13.2 13.2 0 1 0 26.4 0a13.2 13.2 0 1 0 -26.4 0zM1118.6 1471.5a13.2 13.2 0 1 0 26.4 0a13.2 13.2 0 1 0 -26.4 0zM1141.4 1471.5a13.2 13.2 0 1 0 26.4 0a13.2 13.2 0 1 0 -26.4 0zM1164.1 1471.5a13.2 13.2 0 1 0 26.4 0a13.2 13.2 0 1 0 -26.4 0zM1459.9 1471.5a13.2 13.2 0 1 0 26.4 0a13.2 13.2 0 1 0 -26.4 0zM1482.6 1471.5a13.2 13.2 0 1 0 26.4 0a13.2 13.2 0 1 0 -26.4 0zM1505.4 1471.5a13.2 13.2 0 1 0 26.4 0a13.2 13.2 0 1 0 -26.4 0zM1130.0 1490.7a13.2 13.2 0 1 0 26.4 0a13.2 13.2 0 1 0 -26.4 0zM1152.8 1490.7a13.2 13.2 0 1 0 26.4 0a13.2 13.2 0 1 0 -26.4 0zM1175.5 1490.7a13.2 13.2 0 1 0 26.4 0a13.2 13.2 0 1 0 -26.4 0zM1448.5 1490.7a13.2 13.2 0 1 0 26.4 0a13.2 13.2 0 1 0 -26.4 0zM1471.2 1490.7a13.2 13.2 0 1 0 26.4 0a13.2 13.2 0 1 0 -26.4 0zM1494.0 1490.7a13.2 13.2 0 1 0 26.4 0a13.2 13.2 0 1 0 -26.4 0zM1164.1 1509.9a13.2 13.2 0 1 0 26.4 0a13.2 13.2 0 1 0 -26.4 0zM1186.9 1509.9a13.2 13.2 0 1 0 26.4 0a13.2 13.2 0 1 0 -26.4 0zM1209.6 1509.9a13.2 13.2 0 1 0 26.4 0a13.2 13.2 0 1 0 -26.4 0zM1414.4 1509.9a13.2 13.2 0 1 0 26.4 0a13.2 13.2 0 1 0 -26.4 0zM1437.1 1509.9a13.2 13.2 0 1 0 26.4 0a13.2 13.2 0 1 0 -26.4 0zM1459.9 1509.9a13.2 13.2 0 1 0 26.4 0a13.2 13.2 0 1 0 -26.4 0zM1198.2 1529.1a13.2 13.2 0 1 0 26.4 0a13.2 13.2 0 1 0 -26.4 0zM1221.0 1529.1a13.2 13.2 0 1 0 26.4 0a13.2 13.2 0 1 0 -26.4 0zM1243.8 1529.1a13.2 13.2 0 1 0 26.4 0a13.2 13.2 0 1 0 -26.4 0zM1380.2 1529.1a13.2 13.2 0 1 0 26.4 0a13.2 13.2 0 1 0 -26.4 0zM1403.0 1529.1a13.2 13.2 0 1 0 26.4 0a13.2 13.2 0 1 0 -26.4 0zM1425.8 1529.1a13.2 13.2 0 1 0 26.4 0a13.2 13.2 0 1 0 -26.4 0zM1255.1 1548.3a13.2 13.2 0 1 0 26.4 0a13.2 13.2 0 1 0 -26.4 0zM1277.9 1548.3a13.2 13.2 0 1 0 26.4 0a13.2 13.2 0 1 0 -26.4 0zM1300.6 1548.3a13.2 13.2 0 1 0 26.4 0a13.2 13.2 0 1 0 -26.4 0zM1323.4 1548.3a13.2 13.2 0 1 0 26.4 0a13.2 13.2 0 1 0 -26.4 0zM1346.1 1548.3a13.2 13.2 0 1 0 26.4 0a13.2 13.2 0 1 0 -26.4 0zM1368.9 1548.3a13.2 13.2 0 1 0 26.4 0a13.2 13.2 0 1 0 -26.4 0z"/>
<path fill="#c70908" d="M1266.5 991.5a13.2 13.2 0 1 0 26.4 0a13.2 13.2 0 1 0 -26.4 0zM1357.5 991.5a13.2 13.2 0 1 0 26.4 0a13.2 13.2 0 1 0 -26.4 0zM1266.5 1529.1a13.2 13.2 0 1 0 26.4 0a13.2 13.2 0 1 0 -26.4 0zM1357.5 1529.1a13.2 13.2 0 1 0 26.4 0a13.2 13.2 0 1 0 -26.4 0z"/>
<path fill="#c70909" d="M1289.2 991.5a13.2 13.2 0 1 0 26.4 0a13.2 13.2 0 1 0 -26.4 0zM1334.8 991.5a13.2 13.2 0 1 0 26.4 0a13.2 13.2 0 1 0 -26.4 0zM1232.4 1010.7a13.2 13.2 0 1 0 26.4 0a13.2 13.2 0 1 0 -26.4 0zM1391.6 1010.7a13.2 13.2 0 1 0 26.4 0a13.2 13.2 0 1 0 -26.4 0zM1198.2 1029.9a13.2 13.2 0 1 0 26.4 0a13.2 13.2 0 1 0 -26.4 0zM1425.8 1029.9a13.2 13.2 0 1 0 26.4 0a13.2 13.2 0 1 0 -26.4 0zM1107.2 1183.5a13.2 13.2 0 1 0 26.4 0a13.2 13.2 0 1 0 -26.4 0zM1516.8 1183.5a13.2 13.2 0 1 0 26.4 0a13.2 13.2 0 1 0 -26.4 0zM1107.2 1337.1a13.2 13.2 0 1 0 26.4 0a13.2 13.2 0 1 0 -26.4 0zM1516.8 1337.1a13.2 13.2 0 1 0 26.4 0a13.2 13.2 0 1 0 -26.4 0zM1198.2 1490.7a13.2 13.2 0 1 0 26.4 0a13.2 13.2 0 1 0 -26.4 0zM1425.8 1490.7a13.2 13.2 0 1 0 26.4 0a13.2 13.2 0 1 0 -26.4 0zM1232.4 1509.9a13.2 13.2 0 1 0 26.4 0a13.2 13.2 0 1 0 -26.4 0zM1391.6 1509.9a13.2 13.2 0 1 0 26.4 0a13.2 13.2 0 1 0 -26.4 0zM1289.2 1529.1a13.2 13.2 0 1 0 26.4 0a13.2 13.2 0 1 0 -26.4 0zM1334.8 1529.1a13.2 13.2 0 1 0 26.4 0a13.2 13.2 0 1 0 -26.4 0z"/>
<path fill="#c70a09" d="M1312.0 991.5a13.2 13.2 0 1 0 26.4 0a13.2 13.2 0 1 0 -26.4 0zM1118.6 1164.3a13.2 13.2 0 1 0 26.4 0a13.2 13.2 0 1 0 -26.4 0zM1505.4 1164.3a13.2 13.2 0 1 0 26.4 0a13.2 13.2 0 1 0 -26.4 0zM1107.2 1221.9a13.2 13.2 0 1 0 26.4 0a13.2 13.2 0 1 0 -26.4 0zM1516.8 1221.9a13.2 13.2 0 1 0 26.4 0a13.2 13.2 0 1 0 -26.4 0zM1107.2 1298.7a13.2 13.2 0 1 0 26.4 0a13.2 13.2 0 1 0 -26.4 0zM1516.8 1298.7a13.2 13.2 0 1 0 26.4 0a13.2 13.2 0 1 0 -26.4 0zM1118.6 1356.3a13.2 13.2 0 1 0 26.4 0a13.2 13.2 0 1 0 -26.4 0zM1505.4 1356.3a13.2 13.2 0 1 0 26.4 0a13.2 13.2 0 1 0 -26.4 0zM1312.0 1529.1a13.2 13.2 0 1 0 26.4 0a13.2 13.2 0 1 0 -26.4 0z"/>
<path fill="#c70b0a" d="M1255.1 1010.7a13.2 13.2 0 1 0 26.4 0a13.2 13.2 0 1 0 -26.4 0zM1368.9 1010.7a13.2 13.2 0 1 0 26.4 0a13.2 13.2 0 1 0 -26.4 0zM1221.0 1029.9a13.2 13.2 0 1 0 26.4 0a13.2 13.2 0 1 0 -26.4 0zM1403.0 1029.9a13.2 13.2 0 1 0 26.4 0a13.2 13.2 0 1 0 -26.4 0zM1175.5 1068.3a13.2 13.2 0 1 0 26.4 0a13.2 13.2 0 1 0 -26.4 0zM1448.5 1068.3a13.2 13.2 0 1 0 26.4 0a13.2 13.2 0 1 0 -26.4 0zM1164.1 1087.5a13.2 13.2 0 1 0 26.4 0a13.2 13.2 0 1 0 -26.4 0zM1459.9 1087.5a13.2 13.2 0 1 0 26.4 0a13.2 13.2 0 1 0 -26.4 0zM1141.4 1125.9a13.2 13.2 0 1 0 26.4 0a13.2 13.2 0 1 0 -26.4 0zM1482.6 1125.9a13.2 13.2 0 1 0 26.4 0a13.2 13.2 0 1 0 -26.4 0zM1130.0 1145.1a13.2 13.2 0 1 0 26.4 0a13.2 13.2 0 1 0 -26.4 0zM1494.0 1145.1a13.2 13.2 0 1 0 26.4 0a13.2 13.2 0 1 0 -26.4 0zM1118.6 1202.7a13.2 13.2 0 1 0 26.4 0a13.2 13.2 0 1 0 -26.4 0zM1505.4 1202.7a13.2 13.2 0 1 0 26.4 0a13.2 13.2 0 1 0 -26.4 0zM1118.6 1317.9a13.2 13.2 0 1 0 26.4 0a13.2 13.2 0 1 0 -26.4 0zM1505.4 1317.9a13.2 13.2 0 1 0 26.4 0a13.2 13.2 0 1 0 -26.4 0zM1130.0 1375.5a13.2 13.2 0 1 0 26.4 0a13.2 13.2 0 1 0 -26.4 0zM1494.0 1375.5a13.2 13.2 0 1 0 26.4 0a13.2 13.2 0 1 0 -26.4 0zM1141.4 1394.7a13.2 13.2 0 1 0 26.4 0a13.2 13.2 0 1 0 -26.4 0zM1482.6 1394.7a13.2 13.2 0 1 0 26.4 0a13.2 13.2 0 1 0 -26.4 0zM1164.1 1433.1a13.2 13.2 0 1 0 26.4 0a13.2 13.2 0 1 0 -26.4 0zM1459.9 1433.1a13.2 13.2 0 1 0 26.4 0a13.2 13.2 0 1 0 -26.4 0zM1175.5 1452.3a13.2 13.2 0 1 0 26.4 0a13.2 13.2 0 1 0 -26.4 0zM1448.5 1452.3a13.2 13.2 0 1 0 26.4 0a13.2 13.2 0 1 0 -26.4 0zM1221.0 1490.7a13.2 13.2 0 1 0 26.4 0a13.2 13.2 0 1 0 -26.4 0zM1403.0 1490.7a13.2 13.2 0 1 0 26.4 0a13.2 13.2 0 1 0 -26.4 0zM1255.1 1509.9a13.2 13.2 0 1 0 26.4 0a13.2 13.2 0 1 0 -26.4 0zM1368.9 1509.9a13.2 13.2 0 1 0 26.4 0a13.2 13.2 0 1 0 -26.4 0z"/>
<path fill="#c70c0b" d="M1277.9 1010.7a13.2 13.2 0 1 0 26.4 0a13.2 13.2 0 1 0 -26.4 0zM1346.1 1010.7a13.2 13.2 0 1 0 26.4 0a13.2 13.2 0 1 0 -26.4 0zM1209.6 1049.1a13.2 13.2 0 1 0 26.4 0a13.2 13.2 0 1 0 -26.4 0zM1414.4 1049.1a13.2 13.2 0 1 0 26.4 0a13.2 13.2 0 1 0 -26.4 0zM1130.0 1183.5a13.2 13.2 0 1 0 26.4 0a13.2 13.2 0 1 0 -26.4 0zM1494.0 1183.5a13.2 13.2 0 1 0 26.4 0a13.2 13.2 0 1 0 -26.4 0zM1118.6 1241.1a13.2 13.2 0 1 0 26.4 0a13.2 13.2 0 1 0 -26.4 0zM1505.4 1241.1a13.2 13.2 0 1 0 26.4 0a13.2 13.2 0 1 0 -26.4 0zM1118.6 1279.5a13.2 13.2 0 1 0 26.4 0a13.2 13.2 0 1 0 -26.4 0zM1505.4 1279.5a13.2 13.2 0 1 0 26.4 0a13.2 13.2 0 1 0 -26.4 0zM1130.0 1337.1a13.2 13.2 0 1 0 26.4 0a13.2 13.2 0 1 0 -26.4 0zM1494.0 1337.1a13.2 13.2 0 1 0 26.4 0a13.2 13.2 0 1 0 -26.4 0zM1209.6 1471.5a13.2 13.2 0 1 0 26.4 0a13.2 13.2 0 1 0 -26.4 0zM1414.4 1471.5a13.2 13.2 0 1 0 26.4 0a13.2 13.2 0 1 0 -26.4 0zM1277.9 1509.9a13.2 13.2 0 1 0 26.4 0a13.2 13.2 0 1 0 -26.4 0zM1346.1 1509.9a13.2 13.2 0 1 0 26.4 0a13.2 13.2 0 1 0 -26.4 0z"/>
<path fill="#c70c0c" d="M1300.6 1010.7a13.2 13.2 0 1 0 26.4 0a13.2 13.2 0 1 0 -26.4 0zM1323.4 1010.7a13.2 13.2 0 1 0 26.4 0a13.2 13.2 0 1 0 -26.4 0zM1300.6 1509.9a13.2 13.2 0 1 0 26.4 0a13.2 13.2 0 1 0 -26.4 0zM1323.4 1509.9a13.2 13.2 0 1 0 26.4 0a13.2 13.2 0 1 0 -26.4 0z"/>
<path fill="#c70d0c" d="M1243.8 1029.9a13.2 13.2 0 1 0 26.4 0a13.2 13.2 0 1 0 -26.4 0zM1380.2 1029.9a13.2 13.2 0 1 0 26.4 0a13.2 13.2 0 1 0 -26.4 0zM1198.2 1068.3a13.2 13.2 0 1 0 26.4 0a13.2 13.2 0 1 0 -26.4 0zM1425.8 1068.3a13.2 13.2 0 1 0 26.4 0a13.2 13.2 0 1 0 -26.4 0zM1141.4 1164.3a13.2 13.2 0 1 0 26.4 0a13.2 13.2 0 1 0 -26.4 0zM1482.6 1164.3a13.2 13.2 0 1 0 26.4 0a13.2 13.2 0 1 0 -26.4 0zM1130.0 1221.9a13.2 13.2 0 1 0 26.4 0a13.2 13.2 0 1 0 -26.4 0zM1494.0 1221.9a13.2 13.2 0 1 0 26.4 0a13.2 13.2 0 1 0 -26.4 0zM1130.0 1298.7a13.2 13.2 0 1 0 26.4 0a13.2 13.2 0 1 0 -26.4 0zM1494.0 1298.7a13.2 13.2 0 1 0 26.4 0a13.2 13.2 0 1 0 -26.4 0zM1141.4 1356.3a13.2 13.2 0 1 0 26.4 0a13.2 13.2 0 1 0 -26.4 0zM1482.6 1356.3a13.2 13.2 0 1 0 26.4 0a13.2 13.2 0 1 0 -26.4 0zM1198.2 1452.3a13.2 13.2 0 1 0 26.4 0a13.2 13.2 0 1 0 -26.4 0zM1425.8 1452.3a13.2 13.2 0 1 0 26.4 0a13.2 13.2 0 1 0 -26.4 0zM1243.8 1490.7a13.2 13.2 0 1 0 26.4 0a13.2 13.2 0 1 0 -26.4 0zM1380.2 1490.7a13.2 13.2 0 1 0 26.4 0a13.2 13.2 0 1 0 -26.4 0z"/>
<path fill="#c70e0d" d="M1266.5 1029.9a13.2 13.2 0 1 0 26.4 0a13.2 13.2 0 1 0 -26.4 0zM1357.5 1029.9a13.2 13.2 0 1 0 26.4 0a13.2 13.2 0 1 0 -26.4 0zM1186.9 1087.5a13.2 13.2 0 1 0 26.4 0a13.2 13.2 0 1 0 -26.4 0zM1437.1 1087.5a13.2 13.2 0 1 0 26.4 0a13.2 13.2 0 1 0 -26.4 0zM1175.5 1106.7a13.2 13.2 0 1 0 26.4 0a13.2 13.2 0 1 0 -26.4 0zM1448.5 1106.7a13.2 13.2 0 1 0 26.4 0a13.2 13.2 0 1 0 -26.4 0zM1164.1 1125.9a13.2 13.2 0 1 0 26.4 0a13.2 13.2 0 1 0 -26.4 0zM1459.9 1125.9a13.2 13.2 0 1 0 26.4 0a13.2 13.2 0 1 0 -26.4 0zM1152.8 1145.1a13.2 13.2 0 1 0 26.4 0a13.2 13.2 0 1 0 -26.4 0zM1471.2 1145.1a13.2 13.2 0 1 0 26.4 0a13.2 13.2 0 1 0 -26.4 0zM1130.0 1260.3a13.2 13.2 0 1 0 26.4 0a13.2 13.2 0 1 0 -26.4 0zM1494.0 1260.3a13.2 13.2 0 1 0 26.4 0a13.2 13.2 0 1 0 -26.4 0zM1152.8 1375.5a13.2 13.2 0 1 0 26.4 0a13.2 13.2 0 1 0 -26.4 0zM1471.2 1375.5a13.2 13.2 0 1 0 26.4 0a13.2 13.2 0 1 0 -26.4 0zM1164.1 1394.7a13.2 13.2 0 1 0 26.4 0a13.2 13.2 0 1 0 -26.4 0zM1459.9 1394.7a13.2 13.2 0 1 0 26.4 0a13.2 13.2 0 1 0 -26.4 0zM1175.5 1413.9a13.2 13.2 0 1 0 26.4 0a13.2 13.2 0 1 0 -26.4 0zM1448.5 1413.9a13.2 13.2 0 1 0 26.4 0a13.2 13.2 0 1 0 -26.4 0zM1186.9 1433.1a13.2 13.2 0 1 0 26.4 0a13.2 13.2 0 1 0 -26.4 0zM1437.1 1433.1a13.2 13.2 0 1 0 26.4 0a13.2 13.2 0 1 0 -26.4 0zM1266.5 1490.7a13.2 13.2 0 1 0 26.4 0a13.2 13.2 0 1 0 -26.4 0zM1357.5 1490.7a13.2 13.2 0 1 0 26.4 0a13.2 13.2 0 1 0 -26.4 0z"/>
<path fill="#c70f0e" d="M1289.2 1029.9a13.2 13.2 0 1 0 26.4 0a13.2 13.2 0 1 0 -26.4 0zM1334.8 1029.9a13.2 13.2 0 1 0 26.4 0a13.2 13.2 0 1 0 -26.4 0zM1141.4 1241.1a13.2 13.2 0 1 0 26.4 0a13.2 13.2 0 1 0 -26.4 0zM1482.6 1241.1a13.2 13.2 0 1 0 26.4 0a13.2 13.2 0 1 0 -26.4 0zM1141.4 1279.5a13.2 13.2 0 1 0 26.4 0a13.2 13.2 0 1 0 -26.4 0zM1482.6 1279.5a13.2 13.2 0 1 0 26.4 0a13.2 13.2 0 1 0 -26.4 0zM1289.2 1490.7a13.2 13.2 0 1 0 26.4 0a13.2 13.2 0 1 0 -26.4 0zM1334.8 1490.7a13.2 13.2 0 1 0 26.4 0a13.2 13.2 0 1 0 -26.4 0z"/>
<path fill="#c7100e" d="M1312.0 1029.9a13.2 13.2 0 1 0 26.4 0a13.2 13.2 0 1 0 -26.4 0zM1152.8 1183.5a13.2 13.2 0 1 0 26.4 0a13.2 13.2 0 1 0 -26.4 0zM1471.2 1183.5a13.2 13.2 0 1 0 26.4 0a13.2 13.2 0 1 0 -26.4 0zM1152.8 1337.1a13.2 13.2 0 1 0 26.4 0a13.2 13.2 0 1 0 -26.4 0zM1471.2 1337.1a13.2 13.2 0 1 0 26.4 0a13.2 13.2 0 1 0 -26.4 0zM1312.0 1490.7a13.2 13.2 0 1 0 26.4 0a13.2 13.2 0 1 0 -26.4 0z"/>
<path fill="#c70a0a" d="M1186.9 1049.1a13.2 13.2 0 1 0 26.4 0a13.2 13.2 0 1 0 -26.4 0zM1437.1 1049.1a13.2 13.2 0 1 0 26.4 0a13.2 13.2 0 1 0 -26.4 0zM1107.2 1260.3a13.2 13.2 0 1 0 26.4 0a13.2 13.2 0 1 0 -26.4 0zM1516.8 1260.3a13.2 13.2 0 1 0 26.4 0a13.2 13.2 0 1 0 -26.4 0zM1186.9 1471.5a13.2 13.2 0 1 0 26.4 0a13.2 13.2 0 1 0 -26.4 0zM1437.1 1471.5a13.2 13.2 0 1 0 26.4 0a13.2 13.2 0 1 0 -26.4 0z"/>
<path fill="#c70f0d" d="M1232.4 1049.1a13.2 13.2 0 1 0 26.4 0a13.2 13.2 0 1 0 -26.4 0zM1391.6 1049.1a13.2 13.2 0 1 0 26.4 0a13.2 13.2 0 1 0 -26.4 0zM1141.4 1202.7a13.2 13.2 0 1 0 26.4 0a13.2 13.2 0 1 0 -26.4 0zM1482.6 1202.7a13.2 13.2 0 1 0 26.4 0a13.2 13.2 0 1 0 -26.4 0zM1141.4 1317.9a13.2 13.2 0 1 0 26.4 0a13.2 13.2 0 1 0 -26.4 0zM1482.6 1317.9a13.2 13.2 0 1 0 26.4 0a13.2 13.2 0 1 0 -26.4 0zM1232.4 1471.5a13.2 13.2 0 1 0 26.4 0a13.2 13.2 0 1 0 -26.4 0zM1391.6 1471.5a13.2 13.2 0 1 0 26.4 0a13.2 13.2 0 1 0 -26.4 0z"/>
<path fill="#c7120f" d="M1255.1 1049.1a13.2 13.2 0 1 0 26.4 0a13.2 13.2 0 1 0 -26.4 0zM1368.9 1049.1a13.2 13.2 0 1 0 26.4 0a13.2 13.2 0 1 0 -26.4 0zM1255.1 1471.5a13.2 13.2 0 1 0 26.4 0a13.2 13.2 0 1 0 -26.4 0zM1368.9 1471.5a13.2 13.2 0 1 0 26.4 0a13.2 13.2 0 1 0 -26.4 0z"/>
<path fill="#c71711" d="M1277.9 1049.1a13.2 13.2 0 1 0 26.4 0a13.2 13.2 0 1 0 -26.4 0zM1346.1 1049.1a13.2 13.2 0 1 0 26.4 0a13.2 13.2 0 1 0 -26.4 0zM1277.9 1471.5a13.2 13.2 0 1 0 26.4 0a13.2 13.2 0 1 0 -26.4 0zM1346.1 1471.5a13.2 13.2 0 1 0 26.4 0a13.2 13.2 0 1 0 -26.4 0z"/>
<path fill="#c71913" d="M1300.6 1049.1a13.2 13.2 0 1 0 26.4 0a13.2 13.2 0 1 0 -26.4 0zM1323.4 1049.1a13.2 13.2 0 1 0 26.4 0a13.2 13.2 0 1 0 -26.4 0zM1300.6 1471.5a13.2 13.2 0 1 0 26.4 0a13.2 13.2 0 1 0 -26.4 0zM1323.4 1471.5a13.2 13.2 0 1 0 26.4 0a13.2 13.2 0 1 0 -26.4 0z"/>
<path fill="#c7110f" d="M1221.0 1068.3a13.2 13.2 0 1 0 26.4 0a13.2 13.2 0 1 0 -26.4 0zM1403.0 1068.3a13.2 13.2 0 1 0 26.4 0a13.2 13.2 0 1 0 -26.4 0zM1221.0 1452.3a13.2 13.2 0 1 0 26.4 0a13.2 13.2 0 1 0 -26.4 0zM1403.0 1452.3a13.2 13.2 0 1 0 26.4 0a13.2 13.2 0 1 0 -26.4 0z"/>
<path fill="#c71812" d="M1243.8 1068.3a13.2 13.2 0 1 0 26.4 0a13.2 13.2 0 1 0 -26.4 0zM1380.2 1068.3a13.2 13.2 0 1 0 26.4 0a13.2 13.2 0 1 0 -26.4 0zM1164.1 1202.7a13.2 13.2 0 1 0 26.4 0a13.2 13.2 0 1 0 -26.4 0zM1459.9 1202.7a13.2 13.2 0 1 0 26.4 0a13.2 13.2 0 1 0 -26.4 0zM1164.1 1317.9a13.2 13.2 0 1 0 26.4 0a13.2 13.2 0 1 0 -26.4 0zM1459.9 1317.9a13.2 13.2 0 1 0 26.4 0a13.2 13.2 0 1 0 -26.4 0zM1243.8 1452.3a13.2 13.2 0 1 0 26.4 0a13.2 13.2 0 1 0 -26.4 0zM1380.2 1452.3a13.2 13.2 0 1 0 26.4 0a13.2 13.2 0 1 0 -26.4 0z"/>
<path fill="#c71d15" d="M1266.5 1068.3a13.2 13.2 0 1 0 26.4 0a13.2 13.2 0 1 0 -26.4 0zM1357.5 1068.3a13.2 13.2 0 1 0 26.4 0a13.2 13.2 0 1 0 -26.4 0zM1186.9 1164.3a13.2 13.2 0 1 0 26.4 0a13.2 13.2 0 1 0 -26.4 0zM1437.1 1164.3a13.2 13.2 0 1 0 26.4 0a13.2 13.2 0 1 0 -26.4 0zM1186.9 1356.3a13.2 13.2 0 1 0 26.4 0a13.2 13.2 0 1 0 -26.4 0zM1437.1 1356.3a13.2 13.2 0 1 0 26.4 0a13.2 13.2 0 1 0 -26.4 0zM1266.5 1452.3a13.2 13.2 0 1 0 26.4 0a13.2 13.2 0 1 0 -26.4 0zM1357.5 1452.3a13.2 13.2 0 1 0 26.4 0a13.2 13.2 0 1 0 -26.4 0z"/>
<path fill="#c62417" d="M1289.2 1068.3a13.2 13.2 0 1 0 26.4 0a13.2 13.2 0 1 0 -26.4 0zM1334.8 1068.3a13.2 13.2 0 1 0 26.4 0a13.2 13.2 0 1 0 -26.4 0zM1289.2 1452.3a13.2 13.2 0 1 0 26.4 0a13.2 13.2 0 1 0 -26.4 0zM1334.8 1452.3a13.2 13.2 0 1 0 26.4 0a13.2 13.2 0 1 0 -26.4 0z"/>
<path fill="#c62819" d="M1312.0 1068.3a13.2 13.2 0 1 0 26.4 0a13.2 13.2 0 1 0 -26.4 0zM1255.1 1087.5a13.2 13.2 0 1 0 26.4 0a13.2 13.2 0 1 0 -26.4 0zM1368.9 1087.5a13.2 13.2 0 1 0 26.4 0a13.2 13.2 0 1 0 -26.4 0zM1186.9 1202.7a13.2 13.2 0 1 0 26.4 0a13.2 13.2 0 1 0 -26.4 0zM1437.1 1202.7a13.2 13.2 0 1 0 26.4 0a13.2 13.2 0 1 0 -26.4 0zM1186.9 1317.9a13.2 13.2 0 1 0 26.4 0a13.2 13.2 0 1 0 -26.4 0zM1437.1 1317.9a13.2 13.2 0 1 0 26.4 0a13.2 13.2 0 1 0 -26.4 0zM1255.1 1433.1a13.2 13.2 0 1 0 26.4 0a13.2 13.2 0 1 0 -26.4 0zM1368.9 1433.1a13.2 13.2 0 1 0 26.4 0a13.2 13.2 0 1 0 -26.4 0zM1312.0 1452.3a13.2 13.2 0 1 0 26.4 0a13.2 13.2 0 1 0 -26.4 0z"/>
<path fill="#c71310" d="M1209.6 1087.5a13.2 13.2 0 1 0 26.4 0a13.2 13.2 0 1 0 -26.4 0zM1414.4 1087.5a13.2 13.2 0 1 0 26.4 0a13.2 13.2 0 1 0 -26.4 0zM1164.1 1164.3a13.2 13.2 0 1 0 26.4 0a13.2 13.2 0 1 0 -26.4 0zM1459.9 1164.3a13.2 13.2 0 1 0 26.4 0a13.2 13.2 0 1 0 -26.4 0zM1164.1 1356.3a13.2 13.2 0 1 0 26.4 0a13.2 13.2 0 1 0 -26.4 0zM1459.9 1356.3a13.2 13.2 0 1 0 26.4 0a13.2 13.2 0 1 0 -26.4 0zM1209.6 1433.1a13.2 13.2 0 1 0 26.4 0a13.2 13.2 0 1 0 -26.4 0zM1414.4 1433.1a13.2 13.2 0 1 0 26.4 0a13.2 13.2 0 1 0 -26.4 0z"/>
<path fill="#c71b14" d="M1232.4 1087.5a13.2 13.2 0 1 0 26.4 0a13.2 13.2 0 1 0 -26.4 0zM1391.6 1087.5a13.2 13.2 0 1 0 26.4 0a13.2 13.2 0 1 0 -26.4 0zM1175.5 1183.5a13.2 13.2 0 1 0 26.4 0a13.2 13.2 0 1 0 -26.4 0zM1448.5 1183.5a13.2 13.2 0 1 0 26.4 0a13.2 13.2 0 1 0 -26.4 0zM1175.5 1337.1a13.2 13.2 0 1 0 26.4 0a13.2 13.2 0 1 0 -26.4 0zM1448.5 1337.1a13.2 13.2 0 1 0 26.4 0a13.2 13.2 0 1 0 -26.4 0zM1232.4 1433.1a13.2 13.2 0 1 0 26.4 0a13.2 13.2 0 1 0 -26.4 0zM1391.6 1433.1a13.2 13.2 0 1 0 26.4 0a13.2 13.2 0 1 0 -26.4 0z"/>
<path fill="#c5321c" d="M1277.9 1087.5a13.2 13.2 0 1 0 26.4 0a13.2 13.2 0 1 0 -26.4 0zM1346.1 1087.5a13.2 13.2 0 1 0 26.4 0a13.2 13.2 0 1 0 -26.4 0zM1277.9 1433.1a13.2 13.2 0 1 0 26.4 0a13.2 13.2 0 1 0 -26.4 0zM1346.1 1433.1a13.2 13.2 0 1 0 26.4 0a13.2 13.2 0 1 0 -26.4 0z"/>
<path fill="#c43a1e" d="M1300.6 1087.5a13.2 13.2 0 1 0 26.4 0a13.2 13.2 0 1 0 -26.4 0zM1323.4 1087.5a13.2 13.2 0 1 0 26.4 0a13.2 13.2 0 1 0 -26.4 0zM1300.6 1433.1a13.2 13.2 0 1 0 26.4 0a13.2 13.2 0 1 0 -26.4 0zM1323.4 1433.1a13.2 13.2 0 1 0 26.4 0a13.2 13.2 0 1 0 -26.4 0z"/>
<path fill="#c70b0b" d="M1152.8 1106.7a13.2 13.2 0 1 0 26.4 0a13.2 13.2 0 1 0 -26.4 0zM1471.2 1106.7a13.2 13.2 0 1 0 26.4 0a13.2 13.2 0 1 0 -26.4 0zM1152.8 1413.9a13.2 13.2 0 1 0 26.4 0a13.2 13.2 0 1 0 -26.4 0zM1471.2 1413.9a13.2 13.2 0 1 0 26.4 0a13.2 13.2 0 1 0 -26.4 0z"/>
<path fill="#c71511" d="M1198.2 1106.7a13.2 13.2 0 1 0 26.4 0a13.2 13.2 0 1 0 -26.4 0zM1425.8 1106.7a13.2 13.2 0 1 0 26.4 0a13.2 13.2 0 1 0 -26.4 0zM1186.9 1125.9a13.2 13.2 0 1 0 26.4 0a13.2 13.2 0 1 0 -26.4 0zM1437.1 1125.9a13.2 13.2 0 1 0 26.4 0a13.2 13.2 0 1 0 -26.4 0zM1152.8 1260.3a13.2 13.2 0 1 0 26.4 0a13.2 13.2 0 1 0 -26.4 0zM1471.2 1260.3a13.2 13.2 0 1 0 26.4 0a13.2 13.2 0 1 0 -26.4 0zM1186.9 1394.7a13.2 13.2 0 1 0 26.4 0a13.2 13.2 0 1 0 -26.4 0zM1437.1 1394.7a13.2 13.2 0 1 0 26.4 0a13.2 13.2 0 1 0 -26.4 0zM1198.2 1413.9a13.2 13.2 0 1 0 26.4 0a13.2 13.2 0 1 0 -26.4 0zM1425.8 1413.9a13.2 13.2 0 1 0 26.4 0a13.2 13.2 0 1 0 -26.4 0z"/>
<path fill="#c71e15" d="M1221.0 1106.7a13.2 13.2 0 1 0 26.4 0a13.2 13.2 0 1 0 -26.4 0zM1403.0 1106.7a13.2 13.2 0 1 0 26.4 0a13.2 13.2 0 1 0 -26.4 0zM1221.0 1413.9a13.2 13.2 0 1 0 26.4 0a13.2 13.2 0 1 0 -26.4 0zM1403.0 1413.9a13.2 13.2 0 1 0 26.4 0a13.2 13.2 0 1 0 -26.4 0z"/>
<path fill="#c5301b" d="M1243.8 1106.7a13.2 13.2 0 1 0 26.4 0a13.2 13.2 0 1 0 -26.4 0zM1380.2 1106.7a13.2 13.2 0 1 0 26.4 0a13.2 13.2 0 1 0 -26.4 0zM1243.8 1413.9a13.2 13.2 0 1 0 26.4 0a13.2 13.2 0 1 0 -26.4 0zM1380.2 1413.9a13.2 13.2 0 1 0 26.4 0a13.2 13.2 0 1 0 -26.4 0z"/>
<path fill="#c34421" d="M1266.5 1106.7a13.2 13.2 0 1 0 26.4 0a13.2 13.2 0 1 0 -26.4 0zM1357.5 1106.7a13.2 13.2 0 1 0 26.4 0a13.2 13.2 0 1 0 -26.4 0zM1266.5 1413.9a13.2 13.2 0 1 0 26.4 0a13.2 13.2 0 1 0 -26.4 0zM1357.5 1413.9a13.2 13.2 0 1 0 26.4 0a13.2 13.2 0 1 0 -26.4 0z"/>
<path fill="#c05725" d="M1289.2 1106.7a13.2 13.2 0 1 0 26.4 0a13.2 13.2 0 1 0 -26.4 0zM1334.8 1106.7a13.2 13.2 0 1 0 26.4 0a13.2 13.2 0 1 0 -26.4 0zM1209.6 1241.1a13.2 13.2 0 1 0 26.4 0a13.2 13.2 0 1 0 -26.4 0zM1414.4 1241.1a13.2 13.2 0 1 0 26.4 0a13.2 13.2 0 1 0 -26.4 0zM1209.6 1279.5a13.2 13.2 0 1 0 26.4 0a13.2 13.2 0 1 0 -26.4 0zM1414.4 1279.5a13.2 13.2 0 1 0 26.4 0a13.2 13.2 0 1 0 -26.4 0zM1289.2 1413.9a13.2 13.2 0 1 0 26.4 0a13.2 13.2 0 1 0 -26.4 0zM1334.8 1413.9a13.2 13.2 0 1 0 26.4 0a13.2 13.2 0 1 0 -26.4 0z"/>
<path fill="#bf6126" d="M1312.0 1106.7a13.2 13.2 0 1 0 26.4 0a13.2 13.2 0 1 0 -26.4 0zM1312.0 1413.9a13.2 13.2 0 1 0 26.4 0a13.2 13.2 0 1 0 -26.4 0z"/>
<path fill="#c71f16" d="M1209.6 1125.9a13.2 13.2 0 1 0 26.4 0a13.2 13.2 0 1 0 -26.4 0zM1414.4 1125.9a13.2 13.2 0 1 0 26.4 0a13.2 13.2 0 1 0 -26.4 0zM1198.2 1145.1a13.2 13.2 0 1 0 26.4 0a13.2 13.2 0 1 0 -26.4 0zM1425.8 1145.1a13.2 13.2 0 1 0 26.4 0a13.2 13.2 0 1 0 -26.4 0zM1175.5 1221.9a13.2 13.2 0 1 0 26.4 0a13.2 13.2 0 1 0 -26.4 0zM1448.5 1221.9a13.2 13.2 0 1 0 26.4 0a13.2 13.2 0 1 0 -26.4 0zM1175.5 1298.7a13.2 13.2 0 1 0 26.4 0a13.2 13.2 0 1 0 -26.4 0zM1448.5 1298.7a13.2 13.2 0 1 0 26.4 0a13.2 13.2 0 1 0 -26.4 0zM1198.2 1375.5a13.2 13.2 0 1 0 26.4 0a13.2 13.2 0 1 0 -26.4 0zM1425.8 1375.5a13.2 13.2 0 1 0 26.4 0a13.2 13.2 0 1 0 -26.4 0zM1209.6 1394.7a13.2 13.2 0 1 0 26.4 0a13.2 13.2 0 1 0 -26.4 0zM1414.4 1394.7a13.2 13.2 0 1 0 26.4 0a13.2 13.2 0 1 0 -26.4 0z"/>
<path fill="#c5341c" d="M1232.4 1125.9a13.2 13.2 0 1 0 26.4 0a13.2 13.2 0 1 0 -26.4 0zM1391.6 1125.9a13.2 13.2 0 1 0 26.4 0a13.2 13.2 0 1 0 -26.4 0zM1209.6 1164.3a13.2 13.2 0 1 0 26.4 0a13.2 13.2 0 1 0 -26.4 0zM1414.4 1164.3a13.2 13.2 0 1 0 26.4 0a13.2 13.2 0 1 0 -26.4 0zM1209.6 1356.3a13.2 13.2 0 1 0 26.4 0a13.2 13.2 0 1 0 -26.4 0zM1414.4 1356.3a13.2 13.2 0 1 0 26.4 0a13.2 13.2 0 1 0 -26.4 0zM1232.4 1394.7a13.2 13.2 0 1 0 26.4 0a13.2 13.2 0 1 0 -26.4 0zM1391.6 1394.7a13.2 13.2 0 1 0 26.4 0a13.2 13.2 0 1 0 -26.4 0z"/>
<path fill="#c15324" d="M1255.1 1125.9a13.2 13.2 0 1 0 26.4 0a13.2 13.2 0 1 0 -26.4 0zM1368.9 1125.9a13.2 13.2 0 1 0 26.4 0a13.2 13.2 0 1 0 -26.4 0zM1255.1 1394.7a13.2 13.2 0 1 0 26.4 0a13.2 13.2 0 1 0 -26.4 0zM1368.9 1394.7a13.2 13.2 0 1 0 26.4 0a13.2 13.2 0 1 0 -26.4 0z"/>
<path fill="#bd7827" d="M1277.9 1125.9a13.2 13.2 0 1 0 26.4 0a13.2 13.2 0 1 0 -26.4 0zM1346.1 1125.9a13.2 13.2 0 1 0 26.4 0a13.2 13.2 0 1 0 -26.4 0zM1277.9 1394.7a13.2 13.2 0 1 0 26.4 0a13.2 13.2 0 1 0 -26.4 0zM1346.1 1394.7a13.2 13.2 0 1 0 26.4 0a13.2 13.2 0 1 0 -26.4 0z"/>
<path fill="#bf9a22" d="M1300.6 1125.9a13.2 13.2 0 1 0 26.4 0a13.2 13.2 0 1 0 -26.4 0zM1323.4 1125.9a13.2 13.2 0 1 0 26.4 0a13.2 13.2 0 1 0 -26.4 0zM1300.6 1394.7a13.2 13.2 0 1 0 26.4 0a13.2 13.2 0 1 0 -26.4 0zM1323.4 1394.7a13.2 13.2 0 1 0 26.4 0a13.2 13.2 0 1 0 -26.4 0z"/>
<path fill="#c71410" d="M1175.5 1145.1a13.2 13.2 0 1 0 26.4 0a13.2 13.2 0 1 0 -26.4 0zM1448.5 1145.1a13.2 13.2 0 1 0 26.4 0a13.2 13.2 0 1 0 -26.4 0zM1152.8 1221.9a13.2 13.2 0 1 0 26.4 0a13.2 13.2 0 1 0 -26.4 0zM1471.2 1221.9a13.2 13.2 0 1 0 26.4 0a13.2 13.2 0 1 0 -26.4 0zM1152.8 1298.7a13.2 13.2 0 1 0 26.4 0a13.2 13.2 0 1 0 -26.4 0zM1471.2 1298.7a13.2 13.2 0 1 0 26.4 0a13.2 13.2 0 1 0 -26.4 0zM1175.5 1375.5a13.2 13.2 0 1 0 26.4 0a13.2 13.2 0 1 0 -26.4 0zM1448.5 1375.5a13.2 13.2 0 1 0 26.4 0a13.2 13.2 0 1 0 -26.4 0z"/>
<path fill="#c5361d" d="M1221.0 1145.1a13.2 13.2 0 1 0 26.4 0a13.2 13.2 0 1 0 -26.4 0zM1403.0 1145.1a13.2 13.2 0 1 0 26.4 0a13.2 13.2 0 1 0 -26.4 0zM1221.0 1375.5a13.2 13.2 0 1 0 26.4 0a13.2 13.2 0 1 0 -26.4 0zM1403.0 1375.5a13.2 13.2 0 1 0 26.4 0a13.2 13.2 0 1 0 -26.4 0z"/>
<path fill="#c05b26" d="M1243.8 1145.1a13.2 13.2 0 1 0 26.4 0a13.2 13.2 0 1 0 -26.4 0zM1380.2 1145.1a13.2 13.2 0 1 0 26.4 0a13.2 13.2 0 1 0 -26.4 0zM1243.8 1375.5a13.2 13.2 0 1 0 26.4 0a13.2 13.2 0 1 0 -26.4 0zM1380.2 1375.5a13.2 13.2 0 1 0 26.4 0a13.2 13.2 0 1 0 -26.4 0z"/>
<path fill="#be8f24" d="M1266.5 1145.1a13.2 13.2 0 1 0 26.4 0a13.2 13.2 0 1 0 -26.4 0zM1357.5 1145.1a13.2 13.2 0 1 0 26.4 0a13.2 13.2 0 1 0 -26.4 0zM1266.5 1375.5a13.2 13.2 0 1 0 26.4 0a13.2 13.2 0 1 0 -26.4 0zM1357.5 1375.5a13.2 13.2 0 1 0 26.4 0a13.2 13.2 0 1 0 -26.4 0z"/>
<path fill="#bbb807" d="M1289.2 1145.1a13.2 13.2 0 1 0 26.4 0a13.2 13.2 0 1 0 -26.4 0zM1334.8 1145.1a13.2 13.2 0 1 0 26.4 0a13.2 13.2 0 1 0 -26.4 0zM1289.2 1375.5a13.2 13.2 0 1 0 26.4 0a13.2 13.2 0 1 0 -26.4 0zM1334.8 1375.5a13.2 13.2 0 1 0 26.4 0a13.2 13.2 0 1 0 -26.4 0z"/>
<path fill="#7dbb00" d="M1312.0 1145.1a13.2 13.2 0 1 0 26.4 0a13.2 13.2 0 1 0 -26.4 0zM1312.0 1375.5a13.2 13.2 0 1 0 26.4 0a13.2 13.2 0 1 0 -26.4 0z"/>
<path fill="#bf5b26" d="M1232.4 1164.3a13.2 13.2 0 1 0 26.4 0a13.2 13.2 0 1 0 -26.4 0zM1391.6 1164.3a13.2 13.2 0 1 0 26.4 0a13.2 13.2 0 1 0 -26.4 0zM1232.4 1356.3a13.2 13.2 0 1 0 26.4 0a13.2 13.2 0 1 0 -26.4 0zM1391.6 1356.3a13.2 13.2 0 1 0 26.4 0a13.2 13.2 0 1 0 -26.4 0z"/>
<path fill="#bf9424" d="M1255.1 1164.3a13.2 13.2 0 1 0 26.4 0a13.2 13.2 0 1 0 -26.4 0zM1368.9 1164.3a13.2 13.2 0 1 0 26.4 0a13.2 13.2 0 1 0 -26.4 0zM1255.1 1356.3a13.2 13.2 0 1 0 26.4 0a13.2 13.2 0 1 0 -26.4 0zM1368.9 1356.3a13.2 13.2 0 1 0 26.4 0a13.2 13.2 0 1 0 -26.4 0z"/>
<path fill="#aabc00" d="M1277.9 1164.3a13.2 13.2 0 1 0 26.4 0a13.2 13.2 0 1 0 -26.4 0zM1346.1 1164.3a13.2 13.2 0 1 0 26.4 0a13.2 13.2 0 1 0 -26.4 0zM1277.9 1356.3a13.2 13.2 0 1 0 26.4 0a13.2 13.2 0 1 0 -26.4 0zM1346.1 1356.3a13.2 13.2 0 1 0 26.4 0a13.2 13.2 0 1 0 -26.4 0z"/>
<path fill="#56bbbc" d="M1300.6 1164.3a13.2 13.2 0 1 0 26.4 0a13.2 13.2 0 1 0 -26.4 0zM1323.4 1164.3a13.2 13.2 0 1 0 26.4 0a13.2 13.2 0 1 0 -26.4 0zM1300.6 1356.3a13.2 13.2 0 1 0 26.4 0a13.2 13.2 0 1 0 -26.4 0zM1323.4 1356.3a13.2 13.2 0 1 0 26.4 0a13.2 13.2 0 1 0 -26.4 0z"/>
<path fill="#c52f1b" d="M1198.2 1183.5a13.2 13.2 0 1 0 26.4 0a13.2 13.2 0 1 0 -26.4 0zM1425.8 1183.5a13.2 13.2 0 1 0 26.4 0a13.2 13.2 0 1 0 -26.4 0zM1198.2 1337.1a13.2 13.2 0 1 0 26.4 0a13.2 13.2 0 1 0 -26.4 0zM1425.8 1337.1a13.2 13.2 0 1 0 26.4 0a13.2 13.2 0 1 0 -26.4 0z"/>
<path fill="#c05525" d="M1221.0 1183.5a13.2 13.2 0 1 0 26.4 0a13.2 13.2 0 1 0 -26.4 0zM1403.0 1183.5a13.2 13.2 0 1 0 26.4 0a13.2 13.2 0 1 0 -26.4 0zM1221.0 1337.1a13.2 13.2 0 1 0 26.4 0a13.2 13.2 0 1 0 -26.4 0zM1403.0 1337.1a13.2 13.2 0 1 0 26.4 0a13.2 13.2 0 1 0 -26.4 0z"/>
<path fill="#be8d24" d="M1243.8 1183.5a13.2 13.2 0 1 0 26.4 0a13.2 13.2 0 1 0 -26.4 0zM1380.2 1183.5a13.2 13.2 0 1 0 26.4 0a13.2 13.2 0 1 0 -26.4 0zM1243.8 1337.1a13.2 13.2 0 1 0 26.4 0a13.2 13.2 0 1 0 -26.4 0zM1380.2 1337.1a13.2 13.2 0 1 0 26.4 0a13.2 13.2 0 1 0 -26.4 0z"/>
<path fill="#b7bd00" d="M1266.5 1183.5a13.2 13.2 0 1 0 26.4 0a13.2 13.2 0 1 0 -26.4 0zM1357.5 1183.5a13.2 13.2 0 1 0 26.4 0a13.2 13.2 0 1 0 -26.4 0zM1266.5 1337.1a13.2 13.2 0 1 0 26.4 0a13.2 13.2 0 1 0 -26.4 0zM1357.5 1337.1a13.2 13.2 0 1 0 26.4 0a13.2 13.2 0 1 0 -26.4 0z"/>
<path fill="#55bbb9" d="M1289.2 1183.5a13.2 13.2 0 1 0 26.4 0a13.2 13.2 0 1 0 -26.4 0zM1334.8 1183.5a13.2 13.2 0 1 0 26.4 0a13.2 13.2 0 1 0 -26.4 0zM1289.2 1337.1a13.2 13.2 0 1 0 26.4 0a13.2 13.2 0 1 0 -26.4 0zM1334.8 1337.1a13.2 13.2 0 1 0 26.4 0a13.2 13.2 0 1 0 -26.4 0z"/>
<path fill="#0808bf" d="M1312.0 1183.5a13.2 13.2 0 1 0 26.4 0a13.2 13.2 0 1 0 -26.4 0zM1312.0 1221.9a13.2 13.2 0 1 0 26.4 0a13.2 13.2 0 1 0 -26.4 0zM1312.0 1260.3a13.2 13.2 0 1 0 26.4 0a13.2 13.2 0 1 0 -26.4 0zM1312.0 1298.7a13.2 13.2 0 1 0 26.4 0a13.2 13.2 0 1 0 -26.4 0zM1312.0 1337.1a13.2 13.2 0 1 0 26.4 0a13.2 13.2 0 1 0 -26.4 0z"/>
<path fill="#c24a22" d="M1209.6 1202.7a13.2 13.2 0 1 0 26.4 0a13.2 13.2 0 1 0 -26.4 0zM1414.4 1202.7a13.2 13.2 0 1 0 26.4 0a13.2 13.2 0 1 0 -26.4 0zM1209.6 1317.9a13.2 13.2 0 1 0 26.4 0a13.2 13.2 0 1 0 -26.4 0zM1414.4 1317.9a13.2 13.2 0 1 0 26.4 0a13.2 13.2 0 1 0 -26.4 0z"/>
<path fill="#bd7e26" d="M1232.4 1202.7a13.2 13.2 0 1 0 26.4 0a13.2 13.2 0 1 0 -26.4 0zM1391.6 1202.7a13.2 13.2 0 1 0 26.4 0a13.2 13.2 0 1 0 -26.4 0zM1232.4 1317.9a13.2 13.2 0 1 0 26.4 0a13.2 13.2 0 1 0 -26.4 0zM1391.6 1317.9a13.2 13.2 0 1 0 26.4 0a13.2 13.2 0 1 0 -26.4 0z"/>
<path fill="#bcb709" d="M1255.1 1202.7a13.2 13.2 0 1 0 26.4 0a13.2 13.2 0 1 0 -26.4 0zM1368.9 1202.7a13.2 13.2 0 1 0 26.4 0a13.2 13.2 0 1 0 -26.4 0zM1255.1 1317.9a13.2 13.2 0 1 0 26.4 0a13.2 13.2 0 1 0 -26.4 0zM1368.9 1317.9a13.2 13.2 0 1 0 26.4 0a13.2 13.2 0 1 0 -26.4 0z"/>
<path fill="#1bb748" d="M1277.9 1202.7a13.2 13.2 0 1 0 26.4 0a13.2 13.2 0 1 0 -26.4 0zM1346.1 1202.7a13.2 13.2 0 1 0 26.4 0a13.2 13.2 0 1 0 -26.4 0zM1277.9 1317.9a13.2 13.2 0 1 0 26.4 0a13.2 13.2 0 1 0 -26.4 0zM1346.1 1317.9a13.2 13.2 0 1 0 26.4 0a13.2 13.2 0 1 0 -26.4 0z"/>
<path fill="#6563c4" d="M1300.6 1202.7a13.2 13.2 0 1 0 26.4 0a13.2 13.2 0 1 0 -26.4 0zM1323.4 1202.7a13.2 13.2 0 1 0 26.4 0a13.2 13.2 0 1 0 -26.4 0zM1300.6 1317.9a13.2 13.2 0 1 0 26.4 0a13.2 13.2 0 1 0 -26.4 0zM1323.4 1317.9a13.2 13.2 0 1 0 26.4 0a13.2 13.2 0 1 0 -26.4 0z"/>
<path fill="#c43b1e" d="M1198.2 1221.9a13.2 13.2 0 1 0 26.4 0a13.2 13.2 0 1 0 -26.4 0zM1425.8 1221.9a13.2 13.2 0 1 0 26.4 0a13.2 13.2 0 1 0 -26.4 0zM1198.2 1298.7a13.2 13.2 0 1 0 26.4 0a13.2 13.2 0 1 0 -26.4 0zM1425.8 1298.7a13.2 13.2 0 1 0 26.4 0a13.2 13.2 0 1 0 -26.4 0z"/>
<path fill="#be6c27" d="M1221.0 1221.9a13.2 13.2 0 1 0 26.4 0a13.2 13.2 0 1 0 -26.4 0zM1403.0 1221.9a13.2 13.2 0 1 0 26.4 0a13.2 13.2 0 1 0 -26.4 0zM1221.0 1298.7a13.2 13.2 0 1 0 26.4 0a13.2 13.2 0 1 0 -26.4 0zM1403.0 1298.7a13.2 13.2 0 1 0 26.4 0a13.2 13.2 0 1 0 -26.4 0z"/>
<path fill="#bfa916" d="M1243.8 1221.9a13.2 13.2 0 1 0 26.4 0a13.2 13.2 0 1 0 -26.4 0zM1380.2 1221.9a13.2 13.2 0 1 0 26.4 0a13.2 13.2 0 1 0 -26.4 0zM1243.8 1298.7a13.2 13.2 0 1 0 26.4 0a13.2 13.2 0 1 0 -26.4 0zM1380.2 1298.7a13.2 13.2 0 1 0 26.4 0a13.2 13.2 0 1 0 -26.4 0z"/>
<path fill="#26b80c" d="M1266.5 1221.9a13.2 13.2 0 1 0 26.4 0a13.2 13.2 0 1 0 -26.4 0zM1357.5 1221.9a13.2 13.2 0 1 0 26.4 0a13.2 13.2 0 1 0 -26.4 0zM1266.5 1298.7a13.2 13.2 0 1 0 26.4 0a13.2 13.2 0 1 0 -26.4 0zM1357.5 1298.7a13.2 13.2 0 1 0 26.4 0a13.2 13.2 0 1 0 -26.4 0z"/>
<path fill="#5bbac0" d="M1289.2 1221.9a13.2 13.2 0 1 0 26.4 0a13.2 13.2 0 1 0 -26.4 0zM1334.8 1221.9a13.2 13.2 0 1 0 26.4 0a13.2 13.2 0 1 0 -26.4 0zM1289.2 1298.7a13.2 13.2 0 1 0 26.4 0a13.2 13.2 0 1 0 -26.4 0zM1334.8 1298.7a13.2 13.2 0 1 0 26.4 0a13.2 13.2 0 1 0 -26.4 0z"/>
<path fill="#c71a13" d="M1164.1 1241.1a13.2 13.2 0 1 0 26.4 0a13.2 13.2 0 1 0 -26.4 0zM1459.9 1241.1a13.2 13.2 0 1 0 26.4 0a13.2 13.2 0 1 0 -26.4 0zM1164.1 1279.5a13.2 13.2 0 1 0 26.4 0a13.2 13.2 0 1 0 -26.4 0zM1459.9 1279.5a13.2 13.2 0 1 0 26.4 0a13.2 13.2 0 1 0 -26.4 0z"/>
<path fill="#c52e1b" d="M1186.9 1241.1a13.2 13.2 0 1 0 26.4 0a13.2 13.2 0 1 0 -26.4 0zM1437.1 1241.1a13.2 13.2 0 1 0 26.4 0a13.2 13.2 0 1 0 -26.4 0zM1186.9 1279.5a13.2 13.2 0 1 0 26.4 0a13.2 13.2 0 1 0 -26.4 0zM1437.1 1279.5a13.2 13.2 0 1 0 26.4 0a13.2 13.2 0 1 0 -26.4 0z"/>
<path fill="#bf9124" d="M1232.4 1241.1a13.2 13.2 0 1 0 26.4 0a13.2 13.2 0 1 0 -26.4 0zM1391.6 1241.1a13.2 13.2 0 1 0 26.4 0a13.2 13.2 0 1 0 -26.4 0zM1232.4 1279.5a13.2 13.2 0 1 0 26.4 0a13.2 13.2 0 1 0 -26.4 0zM1391.6 1279.5a13.2 13.2 0 1 0 26.4 0a13.2 13.2 0 1 0 -26.4 0z"/>
<path fill="#a8bc00" d="M1255.1 1241.1a13.2 13.2 0 1 0 26.4 0a13.2 13.2 0 1 0 -26.4 0zM1368.9 1241.1a13.2 13.2 0 1 0 26.4 0a13.2 13.2 0 1 0 -26.4 0zM1255.1 1279.5a13.2 13.2 0 1 0 26.4 0a13.2 13.2 0 1 0 -26.4 0zM1368.9 1279.5a13.2 13.2 0 1 0 26.4 0a13.2 13.2 0 1 0 -26.4 0z"/>
<path fill="#4ebbac" d="M1277.9 1241.1a13.2 13.2 0 1 0 26.4 0a13.2 13.2 0 1 0 -26.4 0zM1346.1 1241.1a13.2 13.2 0 1 0 26.4 0a13.2 13.2 0 1 0 -26.4 0zM1277.9 1279.5a13.2 13.2 0 1 0 26.4 0a13.2 13.2 0 1 0 -26.4 0zM1346.1 1279.5a13.2 13.2 0 1 0 26.4 0a13.2 13.2 0 1 0 -26.4 0z"/>
<path fill="#5a57c3" d="M1300.6 1241.1a13.2 13.2 0 1 0 26.4 0a13.2 13.2 0 1 0 -26.4 0zM1323.4 1241.1a13.2 13.2 0 1 0 26.4 0a13.2 13.2 0 1 0 -26.4 0zM1300.6 1279.5a13.2 13.2 0 1 0 26.4 0a13.2 13.2 0 1 0 -26.4 0zM1323.4 1279.5a13.2 13.2 0 1 0 26.4 0a13.2 13.2 0 1 0 -26.4 0z"/>
<path fill="#c72116" d="M1175.5 1260.3a13.2 13.2 0 1 0 26.4 0a13.2 13.2 0 1 0 -26.4 0zM1448.5 1260.3a13.2 13.2 0 1 0 26.4 0a13.2 13.2 0 1 0 -26.4 0z"/>
<path fill="#c34120" d="M1198.2 1260.3a13.2 13.2 0 1 0 26.4 0a13.2 13.2 0 1 0 -26.4 0zM1425.8 1260.3a13.2 13.2 0 1 0 26.4 0a13.2 13.2 0 1 0 -26.4 0z"/>
<path fill="#bd7327" d="M1221.0 1260.3a13.2 13.2 0 1 0 26.4 0a13.2 13.2 0 1 0 -26.4 0zM1403.0 1260.3a13.2 13.2 0 1 0 26.4 0a13.2 13.2 0 1 0 -26.4 0z"/>
<path fill="#bfb110" d="M1243.8 1260.3a13.2 13.2 0 1 0 26.4 0a13.2 13.2 0 1 0 -26.4 0zM1380.2 1260.3a13.2 13.2 0 1 0 26.4 0a13.2 13.2 0 1 0 -26.4 0z"/>
<path fill="#0fb71d" d="M1266.5 1260.3a13.2 13.2 0 1 0 26.4 0a13.2 13.2 0 1 0 -26.4 0zM1357.5 1260.3a13.2 13.2 0 1 0 26.4 0a13.2 13.2 0 1 0 -26.4 0z"/>
<path fill="#5cbac1" d="M1289.2 1260.3a13.2 13.2 0 1 0 26.4 0a13.2 13.2 0 1 0 -26.4 0zM1334.8 1260.3a13.2 13.2 0 1 0 26.4 0a13.2 13.2 0 1 0 -26.4 0z"/>
<path fill="#ff0a0a" d="M1259.0 972.3a9.3 8.6 0 1 0 18.6 0a9.3 8.6 0 1 0 -18.6 0zM1281.8 972.3a9.3 8.6 0 1 0 18.6 0a9.3 8.6 0 1 0 -18.6 0zM1304.5 972.3a9.3 8.6 0 1 0 18.6 0a9.3 8.6 0 1 0 -18.6 0zM1327.3 972.3a9.3 8.6 0 1 0 18.6 0a9.3 8.6 0 1 0 -18.6 0zM1350.0 972.3a9.3 8.6 0 1 0 18.6 0a9.3 8.6 0 1 0 -18.6 0zM1372.8 972.3a9.3 8.6 0 1 0 18.6 0a9.3 8.6 0 1 0 -18.6 0zM1202.2 991.5a9.3 8.6 0 1 0 18.6 0a9.3 8.6 0 1 0 -18.6 0zM1224.9 991.5a9.3 8.6 0 1 0 18.6 0a9.3 8.6 0 1 0 -18.6 0zM1247.7 991.5a9.3 8.6 0 1 0 18.6 0a9.3 8.6 0 1 0 -18.6 0zM1384.2 991.5a9.3 8.6 0 1 0 18.6 0a9.3 8.6 0 1 0 -18.6 0zM1406.9 991.5a9.3 8.6 0 1 0 18.6 0a9.3 8.6 0 1 0 -18.6 0zM1429.7 991.5a9.3 8.6 0 1 0 18.6 0a9.3 8.6 0 1 0 -18.6 0zM1168.0 1010.7a9.3 8.6 0 1 0 18.6 0a9.3 8.6 0 1 0 -18.6 0zM1190.8 1010.7a9.3 8.6 0 1 0 18.6 0a9.3 8.6 0 1 0 -18.6 0zM1213.5 1010.7a9.3 8.6 0 1 0 18.6 0a9.3 8.6 0 1 0 -18.6 0zM1418.3 1010.7a9.3 8.6 0 1 0 18.6 0a9.3 8.6 0 1 0 -18.6 0zM1441.0 1010.7a9.3 8.6 0 1 0 18.6 0a9.3 8.6 0 1 0 -18.6 0zM1463.8 1010.7a9.3 8.6 0 1 0 18.6 0a9.3 8.6 0 1 0 -18.6 0zM1133.9 1029.9a9.3 8.6 0 1 0 18.6 0a9.3 8.6 0 1 0 -18.6 0zM1156.7 1029.9a9.3 8.6 0 1 0 18.6 0a9.3 8.6 0 1 0 -18.6 0zM1179.4 1029.9a9.3 8.6 0 1 0 18.6 0a9.3 8.6 0 1 0 -18.6 0zM1452.4 1029.9a9.3 8.6 0 1 0 18.6 0a9.3 8.6 0 1 0 -18.6 0zM1475.2 1029.9a9.3 8.6 0 1 0 18.6 0a9.3 8.6 0 1 0 -18.6 0zM1497.9 1029.9a9.3 8.6 0 1 0 18.6 0a9.3 8.6 0 1 0 -18.6 0zM1122.5 1049.1a9.3 8.6 0 1 0 18.6 0a9.3 8.6 0 1 0 -18.6 0zM1145.3 1049.1a9.3 8.6 0 1 0 18.6 0a9.3 8.6 0 1 0 -18.6 0zM1168.0 1049.1a9.3 8.6 0 1 0 18.6 0a9.3 8.6 0 1 0 -18.6 0zM1463.8 1049.1a9.3 8.6 0 1 0 18.6 0a9.3 8.6 0 1 0 -18.6 0zM1486.5 1049.1a9.3 8.6 0 1 0 18.6 0a9.3 8.6 0 1 0 -18.6 0zM1509.3 1049.1a9.3 8.6 0 1 0 18.6 0a9.3 8.6 0 1 0 -18.6 0zM1111.2 1068.3a9.3 8.6 0 1 0 18.6 0a9.3 8.6 0 1 0 -18.6 0zM1133.9 1068.3a9.3 8.6 0 1 0 18.6 0a9.3 8.6 0 1 0 -18.6 0zM1156.7 1068.3a9.3 8.6 0 1 0 18.6 0a9.3 8.6 0 1 0 -18.6 0zM1475.2 1068.3a9.3 8.6 0 1 0 18.6 0a9.3 8.6 0 1 0 -18.6 0zM1497.9 1068.3a9.3 8.6 0 1 0 18.6 0a9.3 8.6 0 1 0 -18.6 0zM1520.7 1068.3a9.3 8.6 0 1 0 18.6 0a9.3 8.6 0 1 0 -18.6 0zM1077.0 1087.5a9.3 8.6 0 1 0 18.6 0a9.3 8.6 0 1 0 -18.6 0zM1099.8 1087.5a9.3 8.6 0 1 0 18.6 0a9.3 8.6 0 1 0 -18.6 0zM1122.5 1087.5a9.3 8.6 0 1 0 18.6 0a9.3 8.6 0 1 0 -18.6 0zM1145.3 1087.5a9.3 8.6 0 1 0 18.6 0a9.3 8.6 0 1 0 -18.6 0zM1486.5 1087.5a9.3 8.6 0 1 0 18.6 0a9.3 8.6 0 1 0 -18.6 0zM1509.3 1087.5a9.3 8.6 0 1 0 18.6 0a9.3 8.6 0 1 0 -18.6 0zM1532.0 1087.5a9.3 8.6 0 1 0 18.6 0a9.3 8.6 0 1 0 -18.6 0zM1554.8 1087.5a9.3 8.6 0 1 0 18.6 0a9.3 8.6 0 1 0 -18.6 0zM1065.7 1106.7a9.3 8.6 0 1 0 18.6 0a9.3 8.6 0 1 0 -18.6 0zM1088.4 1106.7a9.3 8.6 0 1 0 18.6 0a9.3 8.6 0 1 0 -18.6 0zM1111.2 1106.7a9.3 8.6 0 1 0 18.6 0a9.3 8.6 0 1 0 -18.6 0zM1133.9 1106.7a9.3 8.6 0 1 0 18.6 0a9.3 8.6 0 1 0 -18.6 0zM1497.9 1106.7a9.3 8.6 0 1 0 18.6 0a9.3 8.6 0 1 0 -18.6 0zM1520.7 1106.7a9.3 8.6 0 1 0 18.6 0a9.3 8.6 0 1 0 -18.6 0zM1543.4 1106.7a9.3 8.6 0 1 0 18.6 0a9.3 8.6 0 1 0 -18.6 0zM1566.2 1106.7a9.3 8.6 0 1 0 18.6 0a9.3 8.6 0 1 0 -18.6 0zM1054.3 1125.9a9.3 8.6 0 1 0 18.6 0a9.3 8.6 0 1 0 -18.6 0zM1077.0 1125.9a9.3 8.6 0 1 0 18.6 0a9.3 8.6 0 1 0 -18.6 0zM1099.8 1125.9a9.3 8.6 0 1 0 18.6 0a9.3 8.6 0 1 0 -18.6 0zM1122.5 1125.9a9.3 8.6 0 1 0 18.6 0a9.3 8.6 0 1 0 -18.6 0zM1509.3 1125.9a9.3 8.6 0 1 0 18.6 0a9.3 8.6 0 1 0 -18.6 0zM1532.0 1125.9a9.3 8.6 0 1 0 18.6 0a9.3 8.6 0 1 0 -18.6 0zM1554.8 1125.9a9.3 8.6 0 1 0 18.6 0a9.3 8.6 0 1 0 -18.6 0zM1577.5 1125.9a9.3 8.6 0 1 0 18.6 0a9.3 8.6 0 1 0 -18.6 0zM1065.7 1145.1a9.3 8.6 0 1 0 18.6 0a9.3 8.6 0 1 0 -18.6 0zM1088.4 1145.1a9.3 8.6 0 1 0 18.6 0a9.3 8.6 0 1 0 -18.6 0zM1111.2 1145.1a9.3 8.6 0 1 0 18.6 0a9.3 8.6 0 1 0 -18.6 0zM1520.7 1145.1a9.3 8.6 0 1 0 18.6 0a9.3 8.6 0 1 0 -18.6 0zM1543.4 1145.1a9.3 8.6 0 1 0 18.6 0a9.3 8.6 0 1 0 -18.6 0zM1566.2 1145.1a9.3 8.6 0 1 0 18.6 0a9.3 8.6 0 1 0 -18.6 0zM1054.3 1164.3a9.3 8.6 0 1 0 18.6 0a9.3 8.6 0 1 0 -18.6 0zM1077.0 1164.3a9.3 8.6 0 1 0 18.6 0a9.3 8.6 0 1 0 -18.6 0zM1099.8 1164.3a9.3 8.6 0 1 0 18.6 0a9.3 8.6 0 1 0 -18.6 0zM1532.0 1164.3a9.3 8.6 0 1 0 18.6 0a9.3 8.6 0 1 0 -18.6 0zM1554.8 1164.3a9.3 8.6 0 1 0 18.6 0a9.3 8.6 0 1 0 -18.6 0zM1577.5 1164.3a9.3 8.6 0 1 0 18.6 0a9.3 8.6 0 1 0 -18.6 0zM1042.9 1183.5a9.3 8.6 0 1 0 18.6 0a9.3 8.6 0 1 0 -18.6 0zM1065.7 1183.5a9.3 8.6 0 1 0 18.6 0a9.3 8.6 0 1 0 -18.6 0zM1088.4 1183.5a9.3 8.6 0 1 0 18.6 0a9.3 8.6 0 1 0 -18.6 0zM1543.4 1183.5a9.3 8.6 0 1 0 18.6 0a9.3 8.6 0 1 0 -18.6 0zM1566.2 1183.5a9.3 8.6 0 1 0 18.6 0a9.3 8.6 0 1 0 -18.6 0zM1588.9 1183.5a9.3 8.6 0 1 0 18.6 0a9.3 8.6 0 1 0 -18.6 0zM1031.5 1202.7a9.3 8.6 0 1 0 18.6 0a9.3 8.6 0 1 0 -18.6 0zM1054.3 1202.7a9.3 8.6 0 1 0 18.6 0a9.3 8.6 0 1 0 -18.6 0zM1077.0 1202.7a9.3 8.6 0 1 0 18.6 0a9.3 8.6 0 1 0 -18.6 0zM1099.8 1202.7a9.3 8.6 0 1 0 18.6 0a9.3 8.6 0 1 0 -18.6 0zM1532.0 1202.7a9.3 8.6 0 1 0 18.6 0a9.3 8.6 0 1 0 -18.6 0zM1554.8 1202.7a9.3 8.6 0 1 0 18.6 0a9.3 8.6 0 1 0 -18.6 0zM1577.5 1202.7a9.3 8.6 0 1 0 18.6 0a9.3 8.6 0 1 0 -18.6 0zM1600.3 1202.7a9.3 8.6 0 1 0 18.6 0a9.3 8.6 0 1 0 -18.6 0zM1042.9 1221.9a9.3 8.6 0 1 0 18.6 0a9.3 8.6 0 1 0 -18.6 0zM1065.7 1221.9a9.3 8.6 0 1 0 18.6 0a9.3 8.6 0 1 0 -18.6 0zM1088.4 1221.9a9.3 8.6 0 1 0 18.6 0a9.3 8.6 0 1 0 -18.6 0zM1543.4 1221.9a9.3 8.6 0 1 0 18.6 0a9.3 8.6 0 1 0 -18.6 0zM1566.2 1221.9a9.3 8.6 0 1 0 18.6 0a9.3 8.6 0 1 0 -18.6 0zM1588.9 1221.9a9.3 8.6 0 1 0 18.6 0a9.3 8.6 0 1 0 -18.6 0zM1031.5 1241.1a9.3 8.6 0 1 0 18.6 0a9.3 8.6 0 1 0 -18.6 0zM1054.3 1241.1a9.3 8.6 0 1 0 18.6 0a9.3 8.6 0 1 0 -18.6 0zM1077.0 1241.1a9.3 8.6 0 1 0 18.6 0a9.3 8.6 0 1 0 -18.6 0zM1554.8 1241.1a9.3 8.6 0 1 0 18.6 0a9.3 8.6 0 1 0 -18.6 0zM1577.5 1241.1a9.3 8.6 0 1 0 18.6 0a9.3 8.6 0 1 0 -18.6 0zM1600.3 1241.1a9.3 8.6 0 1 0 18.6 0a9.3 8.6 0 1 0 -18.6 0zM1042.9 1260.3a9.3 8.6 0 1 0 18.6 0a9.3 8.6 0 1 0 -18.6 0zM1065.7 1260.3a9.3 8.6 0 1 0 18.6 0a9.3 8.6 0 1 0 -18.6 0zM1088.4 1260.3a9.3 8.6 0 1 0 18.6 0a9.3 8.6 0 1 0 -18.6 0zM1543.4 1260.3a9.3 8.6 0 1 0 18.6 0a9.3 8.6 0 1 0 -18.6 0zM1566.2 1260.3a9.3 8.6 0 1 0 18.6 0a9.3 8.6 0 1 0 -18.6 0zM1588.9 1260.3a9.3 8.6 0 1 0 18.6 0a9.3 8.6 0 1 0 -18.6 0zM1031.5 1279.5a9.3 8.6 0 1 0 18.6 0a9.3 8.6 0 1 0 -18.6 0zM1054.3 1279.5a9.3 8.6 0 1 0 18.6 0a9.3 8.6 0 1 0 -18.6 0zM1077.0 1279.5a9.3 8.6 0 1 0 18.6 0a9.3 8.6 0 1 0 -18.6 0zM1554.8 1279.5a9.3 8.6 0 1 0 18.6 0a9.3 8.6 0 1 0 -18.6 0zM1577.5 1279.5a9.3 8.6 0 1 0 18.6 0a9.3 8.6 0 1 0 -18.6 0zM1600.3 1279.5a9.3 8.6 0 1 0 18.6 0a9.3 8.6 0 1 0 -18.6 0zM1042.9 1298.7a9.3 8.6 0 1 0 18.6 0a9.3 8.6 0 1 0 -18.6 0zM1065.7 1298.7a9.3 8.6 0 1 0 18.6 0a9.3 8.6 0 1 0 -18.6 0zM1088.4 1298.7a9.3 8.6 0 1 0 18.6 0a9.3 8.6 0 1 0 -18.6 0zM1543.4 1298.7a9.3 8.6 0 1 0 18.6 0a9.3 8.6 0 1 0 -18.6 0zM1566.2 1298.7a9.3 8.6 0 1 0 18.6 0a9.3 8.6 0 1 0 -18.6 0zM1588.9 1298.7a9.3 8.6 0 1 0 18.6 0a9.3 8.6 0 1 0 -18.6 0zM1031.5 1317.9a9.3 8.6 0 1 0 18.6 0a9.3 8.6 0 1 0 -18.6 0zM1054.3 1317.9a9.3 8.6 0 1 0 18.6 0a9.3 8.6 0 1 0 -18.6 0zM1077.0 1317.9a9.3 8.6 0 1 0 18.6 0a9.3 8.6 0 1 0 -18.6 0zM1099.8 1317.9a9.3 8.6 0 1 0 18.6 0a9.3 8.6 0 1 0 -18.6 0zM1532.0 1317.9a9.3 8.6 0 1 0 18.6 0a9.3 8.6 0 1 0 -18.6 0zM1554.8 1317.9a9.3 8.6 0 1 0 18.6 0a9.3 8.6 0 1 0 -18.6 0zM1577.5 1317.9a9.3 8.6 0 1 0 18.6 0a9.3 8.6 0 1 0 -18.6 0zM1600.3 1317.9a9.3 8.6 0 1 0 18.6 0a9.3 8.6 0 1 0 -18.6 0zM1042.9 1337.1a9.3 8.6 0 1 0 18.6 0a9.3 8.6 0 1 0 -18.6 0zM1065.7 1337.1a9.3 8.6 0 1 0 18.6 0a9.3 8.6 0 1 0 -18.6 0zM1088.4 1337.1a9.3 8.6 0 1 0 18.6 0a9.3 8.6 0 1 0 -18.6 0zM1543.4 1337.1a9.3 8.6 0 1 0 18.6 0a9.3 8.6 0 1 0 -18.6 0zM1566.2 1337.1a9.3 8.6 0 1 0 18.6 0a9.3 8.6 0 1 0 -18.6 0zM1588.9 1337.1a9.3 8.6 0 1 0 18.6 0a9.3 8.6 0 1 0 -18.6 0zM1054.3 1356.3a9.3 8.6 0 1 0 18.6 0a9.3 8.6 0 1 0 -18.6 0zM1077.0 1356.3a9.3 8.6 0 1 0 18.6 0a9.3 8.6 0 1 0 -18.6 0zM1099.8 1356.3a9.3 8.6 0 1 0 18.6 0a9.3 8.6 0 1 0 -18.6 0zM1532.0 1356.3a9.3 8.6 0 1 0 18.6 0a9.3 8.6 0 1 0 -18.6 0zM1554.8 1356.3a9.3 8.6 0 1 0 18.6 0a9.3 8.6 0 1 0 -18.6 0zM1577.5 1356.3a9.3 8.6 0 1 0 18.6 0a9.3 8.6 0 1 0 -18.6 0zM1065.7 1375.5a9.3 8.6 0 1 0 18.6 0a9.3 8.6 0 1 0 -18.6 0zM1088.4 1375.5a9.3 8.6 0 1 0 18.6 0a9.3 8.6 0 1 0 -18.6 0zM1111.2 1375.5a9.3 8.6 0 1 0 18.6 0a9.3 8.6 0 1 0 -18.6 0zM1520.7 1375.5a9.3 8.6 0 1 0 18.6 0a9.3 8.6 0 1 0 -18.6 0zM1543.4 1375.5a9.3 8.6 0 1 0 18.6 0a9.3 8.6 0 1 0 -18.6 0zM1566.2 1375.5a9.3 8.6 0 1 0 18.6 0a9.3 8.6 0 1 0 -18.6 0zM1054.3 1394.7a9.3 8.6 0 1 0 18.6 0a9.3 8.6 0 1 0 -18.6 0zM1077.0 1394.7a9.3 8.6 0 1 0 18.6 0a9.3 8.6 0 1 0 -18.6 0zM1099.8 1394.7a9.3 8.6 0 1 0 18.6 0a9.3 8.6 0 1 0 -18.6 0zM1122.5 1394.7a9.3 8.6 0 1 0 18.6 0a9.3 8.6 0 1 0 -18.6 0zM1509.3 1394.7a9.3 8.6 0 1 0 18.6 0a9.3 8.6 0 1 0 -18.6 0zM1532.0 1394.7a9.3 8.6 0 1 0 18.6 0a9.3 8.6 0 1 0 -18.6 0zM1554.8 1394.7a9.3 8.6 0 1 0 18.6 0a9.3 8.6 0 1 0 -18.6 0zM1577.5 1394.7a9.3 8.6 0 1 0 18.6 0a9.3 8.6 0 1 0 -18.6 0zM1065.7 1413.9a9.3 8.6 0 1 0 18.6 0a9.3 8.6 0 1 0 -18.6 0zM1088.4 1413.9a9.3 8.6 0 1 0 18.6 0a9.3 8.6 0 1 0 -18.6 0zM1111.2 1413.9a9.3 8.6 0 1 0 18.6 0a9.3 8.6 0 1 0 -18.6 0zM1133.9 1413.9a9.3 8.6 0 1 0 18.6 0a9.3 8.6 0 1 0 -18.6 0zM1497.9 1413.9a9.3 8.6 0 1 0 18.6 0a9.3 8.6 0 1 0 -18.6 0zM1520.7 1413.9a9.3 8.6 0 1 0 18.6 0a9.3 8.6 0 1 0 -18.6 0zM1543.4 1413.9a9.3 8.6 0 1 0 18.6 0a9.3 8.6 0 1 0 -18.6 0zM1566.2 1413.9a9.3 8.6 0 1 0 18.6 0a9.3 8.6 0 1 0 -18.6 0zM1077.0 1433.1a9.3 8.6 0 1 0 18.6 0a9.3 8.6 0 1 0 -18.6 0zM1099.8 1433.1a9.3 8.6 0 1 0 18.6 0a9.3 8.6 0 1 0 -18.6 0zM1122.5 1433.1a9.3 8.6 0 1 0 18.6 0a9.3 8.6 0 1 0 -18.6 0zM1145.3 1433.1a9.3 8.6 0 1 0 18.6 0a9.3 8.6 0 1 0 -18.6 0zM1486.5 1433.1a9.3 8.6 0 1 0 18.6 0a9.3 8.6 0 1 0 -18.6 0zM1509.3 1433.1a9.3 8.6 0 1 0 18.6 0a9.3 8.6 0 1 0 -18.6 0zM1532.0 1433.1a9.3 8.6 0 1 0 18.6 0a9.3 8.6 0 1 0 -18.6 0zM1554.8 1433.1a9.3 8.6 0 1 0 18.6 0a9.3 8.6 0 1 0 -18.6 0zM1111.2 1452.3a9.3 8.6 0 1 0 18.6 0a9.3 8.6 0 1 0 -18.6 0zM1133.9 1452.3a9.3 8.6 0 1 0 18.6 0a9.3 8.6 0 1 0 -18.6 0zM1156.7 1452.3a9.3 8.6 0 1 0 18.6 0a9.3 8.6 0 1 0 -18.6 0zM1475.2 1452.3a9.3 8.6 0 1 0 18.6 0a9.3 8.6 0 1 0 -18.6 0zM1497.9 1452.3a9.3 8.6 0 1 0 18.6 0a9.3 8.6 0 1 0 -18.6 0zM1520.7 1452.3a9.3 8.6 0 1 0 18.6 0a9.3 8.6 0 1 0 -18.6 0zM1122.5 1471.5a9.3 8.6 0 1 0 18.6 0a9.3 8.6 0 1 0 -18.6 0zM1145.3 1471.5a9.3 8.6 0 1 0 18.6 0a9.3 8.6 0 1 0 -18.6 0zM1168.0 1471.5a9.3 8.6 0 1 0 18.6 0a9.3 8.6 0 1 0 -18.6 0zM1463.8 1471.5a9.3 8.6 0 1 0 18.6 0a9.3 8.6 0 1 0 -18.6 0zM1486.5 1471.5a9.3 8.6 0 1 0 18.6 0a9.3 8.6 0 1 0 -18.6 0zM1509.3 1471.5a9.3 8.6 0 1 0 18.6 0a9.3 8.6 0 1 0 -18.6 0zM1133.9 1490.7a9.3 8.6 0 1 0 18.6 0a9.3 8.6 0 1 0 -18.6 0zM1156.7 1490.7a9.3 8.6 0 1 0 18.6 0a9.3 8.6 0 1 0 -18.6 0zM1179.4 1490.7a9.3 8.6 0 1 0 18.6 0a9.3 8.6 0 1 0 -18.6 0zM1452.4 1490.7a9.3 8.6 0 1 0 18.6 0a9.3 8.6 0 1 0 -18.6 0zM1475.2 1490.7a9.3 8.6 0 1 0 18.6 0a9.3 8.6 0 1 0 -18.6 0zM1497.9 1490.7a9.3 8.6 0 1 0 18.6 0a9.3 8.6 0 1 0 -18.6 0zM1168.0 1509.9a9.3 8.6 0 1 0 18.6 0a9.3 8.6 0 1 0 -18.6 0zM1190.8 1509.9a9.3 8.6 0 1 0 18.6 0a9.3 8.6 0 1 0 -18.6 0zM1213.5 1509.9a9.3 8.6 0 1 0 18.6 0a9.3 8.6 0 1 0 -18.6 0zM1418.3 1509.9a9.3 8.6 0 1 0 18.6 0a9.3 8.6 0 1 0 -18.6 0zM1441.0 1509.9a9.3 8.6 0 1 0 18.6 0a9.3 8.6 0 1 0 -18.6 0zM1463.8 1509.9a9.3 8.6 0 1 0 18.6 0a9.3 8.6 0 1 0 -18.6 0zM1202.2 1529.1a9.3 8.6 0 1 0 18.6 0a9.3 8.6 0 1 0 -18.6 0zM1224.9 1529.1a9.3 8.6 0 1 0 18.6 0a9.3 8.6 0 1 0 -18.6 0zM1247.7 1529.1a9.3 8.6 0 1 0 18.6 0a9.3 8.6 0 1 0 -18.6 0zM1384.2 1529.1a9.3 8.6 0 1 0 18.6 0a9.3 8.6 0 1 0 -18.6 0zM1406.9 1529.1a9.3 8.6 0 1 0 18.6 0a9.3 8.6 0 1 0 -18.6 0zM1429.7 1529.1a9.3 8.6 0 1 0 18.6 0a9.3 8.6 0 1 0 -18.6 0zM1259.0 1548.3a9.3 8.6 0 1 0 18.6 0a9.3 8.6 0 1 0 -18.6 0zM1281.8 1548.3a9.3 8.6 0 1 0 18.6 0a9.3 8.6 0 1 0 -18.6 0zM1304.5 1548.3a9.3 8.6 0 1 0 18.6 0a9.3 8.6 0 1 0 -18.6 0zM1327.3 1548.3a9.3 8.6 0 1 0 18.6 0a9.3 8.6 0 1 0 -18.6 0zM1350.0 1548.3a9.3 8.6 0 1 0 18.6 0a9.3 8.6 0 1 0 -18.6 0zM1372.8 1548.3a9.3 8.6 0 1 0 18.6 0a9.3 8.6 0 1 0 -18.6 0z"/>
<path fill="#ff0b0b" d="M1270.4 991.5a9.3 8.6 0 1 0 18.6 0a9.3 8.6 0 1 0 -18.6 0zM1361.4 991.5a9.3 8.6 0 1 0 18.6 0a9.3 8.6 0 1 0 -18.6 0zM1202.2 1029.9a9.3 8.6 0 1 0 18.6 0a9.3 8.6 0 1 0 -18.6 0zM1429.7 1029.9a9.3 8.6 0 1 0 18.6 0a9.3 8.6 0 1 0 -18.6 0zM1111.2 1183.5a9.3 8.6 0 1 0 18.6 0a9.3 8.6 0 1 0 -18.6 0zM1520.7 1183.5a9.3 8.6 0 1 0 18.6 0a9.3 8.6 0 1 0 -18.6 0zM1099.8 1241.1a9.3 8.6 0 1 0 18.6 0a9.3 8.6 0 1 0 -18.6 0zM1532.0 1241.1a9.3 8.6 0 1 0 18.6 0a9.3 8.6 0 1 0 -18.6 0zM1099.8 1279.5a9.3 8.6 0 1 0 18.6 0a9.3 8.6 0 1 0 -18.6 0zM1532.0 1279.5a9.3 8.6 0 1 0 18.6 0a9.3 8.6 0 1 0 -18.6 0zM1111.2 1337.1a9.3 8.6 0 1 0 18.6 0a9.3 8.6 0 1 0 -18.6 0zM1520.7 1337.1a9.3 8.6 0 1 0 18.6 0a9.3 8.6 0 1 0 -18.6 0zM1202.2 1490.7a9.3 8.6 0 1 0 18.6 0a9.3 8.6 0 1 0 -18.6 0zM1429.7 1490.7a9.3 8.6 0 1 0 18.6 0a9.3 8.6 0 1 0 -18.6 0zM1270.4 1529.1a9.3 8.6 0 1 0 18.6 0a9.3 8.6 0 1 0 -18.6 0zM1361.4 1529.1a9.3 8.6 0 1 0 18.6 0a9.3 8.6 0 1 0 -18.6 0z"/>
<path fill="#ff0c0c" d="M1293.2 991.5a9.3 8.6 0 1 0 18.6 0a9.3 8.6 0 1 0 -18.6 0zM1315.9 991.5a9.3 8.6 0 1 0 18.6 0a9.3 8.6 0 1 0 -18.6 0zM1338.7 991.5a9.3 8.6 0 1 0 18.6 0a9.3 8.6 0 1 0 -18.6 0zM1236.3 1010.7a9.3 8.6 0 1 0 18.6 0a9.3 8.6 0 1 0 -18.6 0zM1395.5 1010.7a9.3 8.6 0 1 0 18.6 0a9.3 8.6 0 1 0 -18.6 0zM1236.3 1509.9a9.3 8.6 0 1 0 18.6 0a9.3 8.6 0 1 0 -18.6 0zM1395.5 1509.9a9.3 8.6 0 1 0 18.6 0a9.3 8.6 0 1 0 -18.6 0zM1293.2 1529.1a9.3 8.6 0 1 0 18.6 0a9.3 8.6 0 1 0 -18.6 0zM1315.9 1529.1a9.3 8.6 0 1 0 18.6 0a9.3 8.6 0 1 0 -18.6 0zM1338.7 1529.1a9.3 8.6 0 1 0 18.6 0a9.3 8.6 0 1 0 -18.6 0z"/>
<path fill="#ff0e0d" d="M1259.0 1010.7a9.3 8.6 0 1 0 18.6 0a9.3 8.6 0 1 0 -18.6 0zM1372.8 1010.7a9.3 8.6 0 1 0 18.6 0a9.3 8.6 0 1 0 -18.6 0zM1224.9 1029.9a9.3 8.6 0 1 0 18.6 0a9.3 8.6 0 1 0 -18.6 0zM1406.9 1029.9a9.3 8.6 0 1 0 18.6 0a9.3 8.6 0 1 0 -18.6 0zM1179.4 1068.3a9.3 8.6 0 1 0 18.6 0a9.3 8.6 0 1 0 -18.6 0zM1452.4 1068.3a9.3 8.6 0 1 0 18.6 0a9.3 8.6 0 1 0 -18.6 0zM1168.0 1087.5a9.3 8.6 0 1 0 18.6 0a9.3 8.6 0 1 0 -18.6 0zM1463.8 1087.5a9.3 8.6 0 1 0 18.6 0a9.3 8.6 0 1 0 -18.6 0zM1156.7 1106.7a9.3 8.6 0 1 0 18.6 0a9.3 8.6 0 1 0 -18.6 0zM1475.2 1106.7a9.3 8.6 0 1 0 18.6 0a9.3 8.6 0 1 0 -18.6 0zM1145.3 1125.9a9.3 8.6 0 1 0 18.6 0a9.3 8.6 0 1 0 -18.6 0zM1486.5 1125.9a9.3 8.6 0 1 0 18.6 0a9.3 8.6 0 1 0 -18.6 0zM1122.5 1202.7a9.3 8.6 0 1 0 18.6 0a9.3 8.6 0 1 0 -18.6 0zM1509.3 1202.7a9.3 8.6 0 1 0 18.6 0a9.3 8.6 0 1 0 -18.6 0zM1122.5 1317.9a9.3 8.6 0 1 0 18.6 0a9.3 8.6 0 1 0 -18.6 0zM1509.3 1317.9a9.3 8.6 0 1 0 18.6 0a9.3 8.6 0 1 0 -18.6 0zM1145.3 1394.7a9.3 8.6 0 1 0 18.6 0a9.3 8.6 0 1 0 -18.6 0zM1486.5 1394.7a9.3 8.6 0 1 0 18.6 0a9.3 8.6 0 1 0 -18.6 0zM1156.7 1413.9a9.3 8.6 0 1 0 18.6 0a9.3 8.6 0 1 0 -18.6 0zM1475.2 1413.9a9.3 8.6 0 1 0 18.6 0a9.3 8.6 0 1 0 -18.6 0zM1168.0 1433.1a9.3 8.6 0 1 0 18.6 0a9.3 8.6 0 1 0 -18.6 0zM1463.8 1433.1a9.3 8.6 0 1 0 18.6 0a9.3 8.6 0 1 0 -18.6 0zM1179.4 1452.3a9.3 8.6 0 1 0 18.6 0a9.3 8.6 0 1 0 -18.6 0zM1452.4 1452.3a9.3 8.6 0 1 0 18.6 0a9.3 8.6 0 1 0 -18.6 0zM1224.9 1490.7a9.3 8.6 0 1 0 18.6 0a9.3 8.6 0 1 0 -18.6 0zM1406.9 1490.7a9.3 8.6 0 1 0 18.6 0a9.3 8.6 0 1 0 -18.6 0zM1259.0 1509.9a9.3 8.6 0 1 0 18.6 0a9.3 8.6 0 1 0 -18.6 0zM1372.8 1509.9a9.3 8.6 0 1 0 18.6 0a9.3 8.6 0 1 0 -18.6 0z"/>
<path fill="#ff0f0e" d="M1281.8 1010.7a9.3 8.6 0 1 0 18.6 0a9.3 8.6 0 1 0 -18.6 0zM1350.0 1010.7a9.3 8.6 0 1 0 18.6 0a9.3 8.6 0 1 0 -18.6 0zM1122.5 1241.1a9.3 8.6 0 1 0 18.6 0a9.3 8.6 0 1 0 -18.6 0zM1509.3 1241.1a9.3 8.6 0 1 0 18.6 0a9.3 8.6 0 1 0 -18.6 0zM1122.5 1279.5a9.3 8.6 0 1 0 18.6 0a9.3 8.6 0 1 0 -18.6 0zM1509.3 1279.5a9.3 8.6 0 1 0 18.6 0a9.3 8.6 0 1 0 -18.6 0zM1281.8 1509.9a9.3 8.6 0 1 0 18.6 0a9.3 8.6 0 1 0 -18.6 0zM1350.0 1509.9a9.3 8.6 0 1 0 18.6 0a9.3 8.6 0 1 0 -18.6 0z"/>
<path fill="#ff100f" d="M1304.5 1010.7a9.3 8.6 0 1 0 18.6 0a9.3 8.6 0 1 0 -18.6 0zM1327.3 1010.7a9.3 8.6 0 1 0 18.6 0a9.3 8.6 0 1 0 -18.6 0zM1213.5 1049.1a9.3 8.6 0 1 0 18.6 0a9.3 8.6 0 1 0 -18.6 0zM1418.3 1049.1a9.3 8.6 0 1 0 18.6 0a9.3 8.6 0 1 0 -18.6 0zM1133.9 1183.5a9.3 8.6 0 1 0 18.6 0a9.3 8.6 0 1 0 -18.6 0zM1497.9 1183.5a9.3 8.6 0 1 0 18.6 0a9.3 8.6 0 1 0 -18.6 0zM1133.9 1337.1a9.3 8.6 0 1 0 18.6 0a9.3 8.6 0 1 0 -18.6 0zM1497.9 1337.1a9.3 8.6 0 1 0 18.6 0a9.3 8.6 0 1 0 -18.6 0zM1213.5 1471.5a9.3 8.6 0 1 0 18.6 0a9.3 8.6 0 1 0 -18.6 0zM1418.3 1471.5a9.3 8.6 0 1 0 18.6 0a9.3 8.6 0 1 0 -18.6 0zM1304.5 1509.9a9.3 8.6 0 1 0 18.6 0a9.3 8.6 0 1 0 -18.6 0zM1327.3 1509.9a9.3 8.6 0 1 0 18.6 0a9.3 8.6 0 1 0 -18.6 0z"/>
<path fill="#ff110f" d="M1247.7 1029.9a9.3 8.6 0 1 0 18.6 0a9.3 8.6 0 1 0 -18.6 0zM1384.2 1029.9a9.3 8.6 0 1 0 18.6 0a9.3 8.6 0 1 0 -18.6 0zM1247.7 1490.7a9.3 8.6 0 1 0 18.6 0a9.3 8.6 0 1 0 -18.6 0zM1384.2 1490.7a9.3 8.6 0 1 0 18.6 0a9.3 8.6 0 1 0 -18.6 0z"/>
<path fill="#ff1211" d="M1270.4 1029.9a9.3 8.6 0 1 0 18.6 0a9.3 8.6 0 1 0 -18.6 0zM1361.4 1029.9a9.3 8.6 0 1 0 18.6 0a9.3 8.6 0 1 0 -18.6 0zM1179.4 1106.7a9.3 8.6 0 1 0 18.6 0a9.3 8.6 0 1 0 -18.6 0zM1452.4 1106.7a9.3 8.6 0 1 0 18.6 0a9.3 8.6 0 1 0 -18.6 0zM1168.0 1125.9a9.3 8.6 0 1 0 18.6 0a9.3 8.6 0 1 0 -18.6 0zM1463.8 1125.9a9.3 8.6 0 1 0 18.6 0a9.3 8.6 0 1 0 -18.6 0zM1168.0 1394.7a9.3 8.6 0 1 0 18.6 0a9.3 8.6 0 1 0 -18.6 0zM1463.8 1394.7a9.3 8.6 0 1 0 18.6 0a9.3 8.6 0 1 0 -18.6 0zM1179.4 1413.9a9.3 8.6 0 1 0 18.6 0a9.3 8.6 0 1 0 -18.6 0zM1452.4 1413.9a9.3 8.6 0 1 0 18.6 0a9.3 8.6 0 1 0 -18.6 0zM1270.4 1490.7a9.3 8.6 0 1 0 18.6 0a9.3 8.6 0 1 0 -18.6 0zM1361.4 1490.7a9.3 8.6 0 1 0 18.6 0a9.3 8.6 0 1 0 -18.6 0z"/>
<path fill="#ff1412" d="M1293.2 1029.9a9.3 8.6 0 1 0 18.6 0a9.3 8.6 0 1 0 -18.6 0zM1315.9 1029.9a9.3 8.6 0 1 0 18.6 0a9.3 8.6 0 1 0 -18.6 0zM1338.7 1029.9a9.3 8.6 0 1 0 18.6 0a9.3 8.6 0 1 0 -18.6 0zM1145.3 1241.1a9.3 8.6 0 1 0 18.6 0a9.3 8.6 0 1 0 -18.6 0zM1486.5 1241.1a9.3 8.6 0 1 0 18.6 0a9.3 8.6 0 1 0 -18.6 0zM1145.3 1279.5a9.3 8.6 0 1 0 18.6 0a9.3 8.6 0 1 0 -18.6 0zM1486.5 1279.5a9.3 8.6 0 1 0 18.6 0a9.3 8.6 0 1 0 -18.6 0zM1293.2 1490.7a9.3 8.6 0 1 0 18.6 0a9.3 8.6 0 1 0 -18.6 0zM1315.9 1490.7a9.3 8.6 0 1 0 18.6 0a9.3 8.6 0 1 0 -18.6 0zM1338.7 1490.7a9.3 8.6 0 1 0 18.6 0a9.3 8.6 0 1 0 -18.6 0z"/>
<path fill="#ff0d0c" d="M1190.8 1049.1a9.3 8.6 0 1 0 18.6 0a9.3 8.6 0 1 0 -18.6 0zM1441.0 1049.1a9.3 8.6 0 1 0 18.6 0a9.3 8.6 0 1 0 -18.6 0zM1122.5 1164.3a9.3 8.6 0 1 0 18.6 0a9.3 8.6 0 1 0 -18.6 0zM1509.3 1164.3a9.3 8.6 0 1 0 18.6 0a9.3 8.6 0 1 0 -18.6 0zM1111.2 1221.9a9.3 8.6 0 1 0 18.6 0a9.3 8.6 0 1 0 -18.6 0zM1520.7 1221.9a9.3 8.6 0 1 0 18.6 0a9.3 8.6 0 1 0 -18.6 0zM1111.2 1260.3a9.3 8.6 0 1 0 18.6 0a9.3 8.6 0 1 0 -18.6 0zM1520.7 1260.3a9.3 8.6 0 1 0 18.6 0a9.3 8.6 0 1 0 -18.6 0zM1111.2 1298.7a9.3 8.6 0 1 0 18.6 0a9.3 8.6 0 1 0 -18.6 0zM1520.7 1298.7a9.3 8.6 0 1 0 18.6 0a9.3 8.6 0 1 0 -18.6 0zM1122.5 1356.3a9.3 8.6 0 1 0 18.6 0a9.3 8.6 0 1 0 -18.6 0zM1509.3 1356.3a9.3 8.6 0 1 0 18.6 0a9.3 8.6 0 1 0 -18.6 0zM1190.8 1471.5a9.3 8.6 0 1 0 18.6 0a9.3 8.6 0 1 0 -18.6 0zM1441.0 1471.5a9.3 8.6 0 1 0 18.6 0a9.3 8.6 0 1 0 -18.6 0z"/>
<path fill="#ff1311" d="M1236.3 1049.1a9.3 8.6 0 1 0 18.6 0a9.3 8.6 0 1 0 -18.6 0zM1395.5 1049.1a9.3 8.6 0 1 0 18.6 0a9.3 8.6 0 1 0 -18.6 0zM1145.3 1202.7a9.3 8.6 0 1 0 18.6 0a9.3 8.6 0 1 0 -18.6 0zM1486.5 1202.7a9.3 8.6 0 1 0 18.6 0a9.3 8.6 0 1 0 -18.6 0zM1145.3 1317.9a9.3 8.6 0 1 0 18.6 0a9.3 8.6 0 1 0 -18.6 0zM1486.5 1317.9a9.3 8.6 0 1 0 18.6 0a9.3 8.6 0 1 0 -18.6 0zM1236.3 1471.5a9.3 8.6 0 1 0 18.6 0a9.3 8.6 0 1 0 -18.6 0zM1395.5 1471.5a9.3 8.6 0 1 0 18.6 0a9.3 8.6 0 1 0 -18.6 0z"/>
<path fill="#ff1714" d="M1259.0 1049.1a9.3 8.6 0 1 0 18.6 0a9.3 8.6 0 1 0 -18.6 0zM1372.8 1049.1a9.3 8.6 0 1 0 18.6 0a9.3 8.6 0 1 0 -18.6 0zM1259.0 1471.5a9.3 8.6 0 1 0 18.6 0a9.3 8.6 0 1 0 -18.6 0zM1372.8 1471.5a9.3 8.6 0 1 0 18.6 0a9.3 8.6 0 1 0 -18.6 0z"/>
<path fill="#ff1d16" d="M1281.8 1049.1a9.3 8.6 0 1 0 18.6 0a9.3 8.6 0 1 0 -18.6 0zM1350.0 1049.1a9.3 8.6 0 1 0 18.6 0a9.3 8.6 0 1 0 -18.6 0zM1281.8 1471.5a9.3 8.6 0 1 0 18.6 0a9.3 8.6 0 1 0 -18.6 0zM1350.0 1471.5a9.3 8.6 0 1 0 18.6 0a9.3 8.6 0 1 0 -18.6 0z"/>
<path fill="#ff2018" d="M1304.5 1049.1a9.3 8.6 0 1 0 18.6 0a9.3 8.6 0 1 0 -18.6 0zM1327.3 1049.1a9.3 8.6 0 1 0 18.6 0a9.3 8.6 0 1 0 -18.6 0zM1304.5 1471.5a9.3 8.6 0 1 0 18.6 0a9.3 8.6 0 1 0 -18.6 0zM1327.3 1471.5a9.3 8.6 0 1 0 18.6 0a9.3 8.6 0 1 0 -18.6 0z"/>
<path fill="#ff1110" d="M1202.2 1068.3a9.3 8.6 0 1 0 18.6 0a9.3 8.6 0 1 0 -18.6 0zM1429.7 1068.3a9.3 8.6 0 1 0 18.6 0a9.3 8.6 0 1 0 -18.6 0zM1145.3 1164.3a9.3 8.6 0 1 0 18.6 0a9.3 8.6 0 1 0 -18.6 0zM1486.5 1164.3a9.3 8.6 0 1 0 18.6 0a9.3 8.6 0 1 0 -18.6 0zM1133.9 1221.9a9.3 8.6 0 1 0 18.6 0a9.3 8.6 0 1 0 -18.6 0zM1497.9 1221.9a9.3 8.6 0 1 0 18.6 0a9.3 8.6 0 1 0 -18.6 0zM1133.9 1298.7a9.3 8.6 0 1 0 18.6 0a9.3 8.6 0 1 0 -18.6 0zM1497.9 1298.7a9.3 8.6 0 1 0 18.6 0a9.3 8.6 0 1 0 -18.6 0zM1145.3 1356.3a9.3 8.6 0 1 0 18.6 0a9.3 8.6 0 1 0 -18.6 0zM1486.5 1356.3a9.3 8.6 0 1 0 18.6 0a9.3 8.6 0 1 0 -18.6 0zM1202.2 1452.3a9.3 8.6 0 1 0 18.6 0a9.3 8.6 0 1 0 -18.6 0zM1429.7 1452.3a9.3 8.6 0 1 0 18.6 0a9.3 8.6 0 1 0 -18.6 0z"/>
<path fill="#ff1513" d="M1224.9 1068.3a9.3 8.6 0 1 0 18.6 0a9.3 8.6 0 1 0 -18.6 0zM1406.9 1068.3a9.3 8.6 0 1 0 18.6 0a9.3 8.6 0 1 0 -18.6 0zM1224.9 1452.3a9.3 8.6 0 1 0 18.6 0a9.3 8.6 0 1 0 -18.6 0zM1406.9 1452.3a9.3 8.6 0 1 0 18.6 0a9.3 8.6 0 1 0 -18.6 0z"/>
<path fill="#ff1e17" d="M1247.7 1068.3a9.3 8.6 0 1 0 18.6 0a9.3 8.6 0 1 0 -18.6 0zM1384.2 1068.3a9.3 8.6 0 1 0 18.6 0a9.3 8.6 0 1 0 -18.6 0zM1168.0 1202.7a9.3 8.6 0 1 0 18.6 0a9.3 8.6 0 1 0 -18.6 0zM1463.8 1202.7a9.3 8.6 0 1 0 18.6 0a9.3 8.6 0 1 0 -18.6 0zM1168.0 1317.9a9.3 8.6 0 1 0 18.6 0a9.3 8.6 0 1 0 -18.6 0zM1463.8 1317.9a9.3 8.6 0 1 0 18.6 0a9.3 8.6 0 1 0 -18.6 0zM1247.7 1452.3a9.3 8.6 0 1 0 18.6 0a9.3 8.6 0 1 0 -18.6 0zM1384.2 1452.3a9.3 8.6 0 1 0 18.6 0a9.3 8.6 0 1 0 -18.6 0z"/>
<path fill="#ff261b" d="M1270.4 1068.3a9.3 8.6 0 1 0 18.6 0a9.3 8.6 0 1 0 -18.6 0zM1361.4 1068.3a9.3 8.6 0 1 0 18.6 0a9.3 8.6 0 1 0 -18.6 0zM1224.9 1106.7a9.3 8.6 0 1 0 18.6 0a9.3 8.6 0 1 0 -18.6 0zM1406.9 1106.7a9.3 8.6 0 1 0 18.6 0a9.3 8.6 0 1 0 -18.6 0zM1224.9 1413.9a9.3 8.6 0 1 0 18.6 0a9.3 8.6 0 1 0 -18.6 0zM1406.9 1413.9a9.3 8.6 0 1 0 18.6 0a9.3 8.6 0 1 0 -18.6 0zM1270.4 1452.3a9.3 8.6 0 1 0 18.6 0a9.3 8.6 0 1 0 -18.6 0zM1361.4 1452.3a9.3 8.6 0 1 0 18.6 0a9.3 8.6 0 1 0 -18.6 0z"/>
<path fill="#fe2f1e" d="M1293.2 1068.3a9.3 8.6 0 1 0 18.6 0a9.3 8.6 0 1 0 -18.6 0zM1338.7 1068.3a9.3 8.6 0 1 0 18.6 0a9.3 8.6 0 1 0 -18.6 0zM1293.2 1452.3a9.3 8.6 0 1 0 18.6 0a9.3 8.6 0 1 0 -18.6 0zM1338.7 1452.3a9.3 8.6 0 1 0 18.6 0a9.3 8.6 0 1 0 -18.6 0z"/>
<path fill="#fe331f" d="M1315.9 1068.3a9.3 8.6 0 1 0 18.6 0a9.3 8.6 0 1 0 -18.6 0zM1190.8 1202.7a9.3 8.6 0 1 0 18.6 0a9.3 8.6 0 1 0 -18.6 0zM1441.0 1202.7a9.3 8.6 0 1 0 18.6 0a9.3 8.6 0 1 0 -18.6 0zM1190.8 1317.9a9.3 8.6 0 1 0 18.6 0a9.3 8.6 0 1 0 -18.6 0zM1441.0 1317.9a9.3 8.6 0 1 0 18.6 0a9.3 8.6 0 1 0 -18.6 0zM1315.9 1452.3a9.3 8.6 0 1 0 18.6 0a9.3 8.6 0 1 0 -18.6 0z"/>
<path fill="#ff1210" d="M1190.8 1087.5a9.3 8.6 0 1 0 18.6 0a9.3 8.6 0 1 0 -18.6 0zM1441.0 1087.5a9.3 8.6 0 1 0 18.6 0a9.3 8.6 0 1 0 -18.6 0zM1156.7 1145.1a9.3 8.6 0 1 0 18.6 0a9.3 8.6 0 1 0 -18.6 0zM1475.2 1145.1a9.3 8.6 0 1 0 18.6 0a9.3 8.6 0 1 0 -18.6 0zM1133.9 1260.3a9.3 8.6 0 1 0 18.6 0a9.3 8.6 0 1 0 -18.6 0zM1497.9 1260.3a9.3 8.6 0 1 0 18.6 0a9.3 8.6 0 1 0 -18.6 0zM1156.7 1375.5a9.3 8.6 0 1 0 18.6 0a9.3 8.6 0 1 0 -18.6 0zM1475.2 1375.5a9.3 8.6 0 1 0 18.6 0a9.3 8.6 0 1 0 -18.6 0zM1190.8 1433.1a9.3 8.6 0 1 0 18.6 0a9.3 8.6 0 1 0 -18.6 0zM1441.0 1433.1a9.3 8.6 0 1 0 18.6 0a9.3 8.6 0 1 0 -18.6 0z"/>
<path fill="#ff1914" d="M1213.5 1087.5a9.3 8.6 0 1 0 18.6 0a9.3 8.6 0 1 0 -18.6 0zM1418.3 1087.5a9.3 8.6 0 1 0 18.6 0a9.3 8.6 0 1 0 -18.6 0zM1213.5 1433.1a9.3 8.6 0 1 0 18.6 0a9.3 8.6 0 1 0 -18.6 0zM1418.3 1433.1a9.3 8.6 0 1 0 18.6 0a9.3 8.6 0 1 0 -18.6 0z"/>
<path fill="#ff231a" d="M1236.3 1087.5a9.3 8.6 0 1 0 18.6 0a9.3 8.6 0 1 0 -18.6 0zM1395.5 1087.5a9.3 8.6 0 1 0 18.6 0a9.3 8.6 0 1 0 -18.6 0zM1236.3 1433.1a9.3 8.6 0 1 0 18.6 0a9.3 8.6 0 1 0 -18.6 0zM1395.5 1433.1a9.3 8.6 0 1 0 18.6 0a9.3 8.6 0 1 0 -18.6 0z"/>
<path fill="#fe3320" d="M1259.0 1087.5a9.3 8.6 0 1 0 18.6 0a9.3 8.6 0 1 0 -18.6 0zM1372.8 1087.5a9.3 8.6 0 1 0 18.6 0a9.3 8.6 0 1 0 -18.6 0zM1259.0 1433.1a9.3 8.6 0 1 0 18.6 0a9.3 8.6 0 1 0 -18.6 0zM1372.8 1433.1a9.3 8.6 0 1 0 18.6 0a9.3 8.6 0 1 0 -18.6 0z"/>
<path fill="#fd4124" d="M1281.8 1087.5a9.3 8.6 0 1 0 18.6 0a9.3 8.6 0 1 0 -18.6 0zM1350.0 1087.5a9.3 8.6 0 1 0 18.6 0a9.3 8.6 0 1 0 -18.6 0zM1281.8 1433.1a9.3 8.6 0 1 0 18.6 0a9.3 8.6 0 1 0 -18.6 0zM1350.0 1433.1a9.3 8.6 0 1 0 18.6 0a9.3 8.6 0 1 0 -18.6 0z"/>
<path fill="#fc4a26" d="M1304.5 1087.5a9.3 8.6 0 1 0 18.6 0a9.3 8.6 0 1 0 -18.6 0zM1327.3 1087.5a9.3 8.6 0 1 0 18.6 0a9.3 8.6 0 1 0 -18.6 0zM1304.5 1433.1a9.3 8.6 0 1 0 18.6 0a9.3 8.6 0 1 0 -18.6 0zM1327.3 1433.1a9.3 8.6 0 1 0 18.6 0a9.3 8.6 0 1 0 -18.6 0z"/>
<path fill="#ff1b15" d="M1202.2 1106.7a9.3 8.6 0 1 0 18.6 0a9.3 8.6 0 1 0 -18.6 0zM1429.7 1106.7a9.3 8.6 0 1 0 18.6 0a9.3 8.6 0 1 0 -18.6 0zM1156.7 1260.3a9.3 8.6 0 1 0 18.6 0a9.3 8.6 0 1 0 -18.6 0zM1475.2 1260.3a9.3 8.6 0 1 0 18.6 0a9.3 8.6 0 1 0 -18.6 0zM1202.2 1413.9a9.3 8.6 0 1 0 18.6 0a9.3 8.6 0 1 0 -18.6 0zM1429.7 1413.9a9.3 8.6 0 1 0 18.6 0a9.3 8.6 0 1 0 -18.6 0z"/>
<path fill="#fd3d23" d="M1247.7 1106.7a9.3 8.6 0 1 0 18.6 0a9.3 8.6 0 1 0 -18.6 0zM1384.2 1106.7a9.3 8.6 0 1 0 18.6 0a9.3 8.6 0 1 0 -18.6 0zM1247.7 1413.9a9.3 8.6 0 1 0 18.6 0a9.3 8.6 0 1 0 -18.6 0zM1384.2 1413.9a9.3 8.6 0 1 0 18.6 0a9.3 8.6 0 1 0 -18.6 0z"/>
<path fill="#fa572a" d="M1270.4 1106.7a9.3 8.6 0 1 0 18.6 0a9.3 8.6 0 1 0 -18.6 0zM1361.4 1106.7a9.3 8.6 0 1 0 18.6 0a9.3 8.6 0 1 0 -18.6 0zM1270.4 1413.9a9.3 8.6 0 1 0 18.6 0a9.3 8.6 0 1 0 -18.6 0zM1361.4 1413.9a9.3 8.6 0 1 0 18.6 0a9.3 8.6 0 1 0 -18.6 0z"/>
<path fill="#f66f30" d="M1293.2 1106.7a9.3 8.6 0 1 0 18.6 0a9.3 8.6 0 1 0 -18.6 0zM1338.7 1106.7a9.3 8.6 0 1 0 18.6 0a9.3 8.6 0 1 0 -18.6 0zM1293.2 1413.9a9.3 8.6 0 1 0 18.6 0a9.3 8.6 0 1 0 -18.6 0zM1338.7 1413.9a9.3 8.6 0 1 0 18.6 0a9.3 8.6 0 1 0 -18.6 0z"/>
<path fill="#f57c31" d="M1315.9 1106.7a9.3 8.6 0 1 0 18.6 0a9.3 8.6 0 1 0 -18.6 0zM1315.9 1413.9a9.3 8.6 0 1 0 18.6 0a9.3 8.6 0 1 0 -18.6 0z"/>
<path fill="#ff1b16" d="M1190.8 1125.9a9.3 8.6 0 1 0 18.6 0a9.3 8.6 0 1 0 -18.6 0zM1441.0 1125.9a9.3 8.6 0 1 0 18.6 0a9.3 8.6 0 1 0 -18.6 0zM1190.8 1394.7a9.3 8.6 0 1 0 18.6 0a9.3 8.6 0 1 0 -18.6 0zM1441.0 1394.7a9.3 8.6 0 1 0 18.6 0a9.3 8.6 0 1 0 -18.6 0z"/>
<path fill="#ff281c" d="M1213.5 1125.9a9.3 8.6 0 1 0 18.6 0a9.3 8.6 0 1 0 -18.6 0zM1418.3 1125.9a9.3 8.6 0 1 0 18.6 0a9.3 8.6 0 1 0 -18.6 0zM1213.5 1394.7a9.3 8.6 0 1 0 18.6 0a9.3 8.6 0 1 0 -18.6 0zM1418.3 1394.7a9.3 8.6 0 1 0 18.6 0a9.3 8.6 0 1 0 -18.6 0z"/>
<path fill="#fc4324" d="M1236.3 1125.9a9.3 8.6 0 1 0 18.6 0a9.3 8.6 0 1 0 -18.6 0zM1395.5 1125.9a9.3 8.6 0 1 0 18.6 0a9.3 8.6 0 1 0 -18.6 0zM1236.3 1394.7a9.3 8.6 0 1 0 18.6 0a9.3 8.6 0 1 0 -18.6 0zM1395.5 1394.7a9.3 8.6 0 1 0 18.6 0a9.3 8.6 0 1 0 -18.6 0z"/>
<path fill="#f76a2e" d="M1259.0 1125.9a9.3 8.6 0 1 0 18.6 0a9.3 8.6 0 1 0 -18.6 0zM1372.8 1125.9a9.3 8.6 0 1 0 18.6 0a9.3 8.6 0 1 0 -18.6 0zM1259.0 1394.7a9.3 8.6 0 1 0 18.6 0a9.3 8.6 0 1 0 -18.6 0zM1372.8 1394.7a9.3 8.6 0 1 0 18.6 0a9.3 8.6 0 1 0 -18.6 0z"/>
<path fill="#f29a32" d="M1281.8 1125.9a9.3 8.6 0 1 0 18.6 0a9.3 8.6 0 1 0 -18.6 0zM1350.0 1125.9a9.3 8.6 0 1 0 18.6 0a9.3 8.6 0 1 0 -18.6 0zM1281.8 1394.7a9.3 8.6 0 1 0 18.6 0a9.3 8.6 0 1 0 -18.6 0zM1350.0 1394.7a9.3 8.6 0 1 0 18.6 0a9.3 8.6 0 1 0 -18.6 0z"/>
<path fill="#f5c62b" d="M1304.5 1125.9a9.3 8.6 0 1 0 18.6 0a9.3 8.6 0 1 0 -18.6 0zM1327.3 1125.9a9.3 8.6 0 1 0 18.6 0a9.3 8.6 0 1 0 -18.6 0zM1304.5 1394.7a9.3 8.6 0 1 0 18.6 0a9.3 8.6 0 1 0 -18.6 0zM1327.3 1394.7a9.3 8.6 0 1 0 18.6 0a9.3 8.6 0 1 0 -18.6 0z"/>
<path fill="#ff0d0d" d="M1133.9 1145.1a9.3 8.6 0 1 0 18.6 0a9.3 8.6 0 1 0 -18.6 0zM1497.9 1145.1a9.3 8.6 0 1 0 18.6 0a9.3 8.6 0 1 0 -18.6 0zM1133.9 1375.5a9.3 8.6 0 1 0 18.6 0a9.3 8.6 0 1 0 -18.6 0zM1497.9 1375.5a9.3 8.6 0 1 0 18.6 0a9.3 8.6 0 1 0 -18.6 0z"/>
<path fill="#ff1a15" d="M1179.4 1145.1a9.3 8.6 0 1 0 18.6 0a9.3 8.6 0 1 0 -18.6 0zM1452.4 1145.1a9.3 8.6 0 1 0 18.6 0a9.3 8.6 0 1 0 -18.6 0zM1179.4 1375.5a9.3 8.6 0 1 0 18.6 0a9.3 8.6 0 1 0 -18.6 0zM1452.4 1375.5a9.3 8.6 0 1 0 18.6 0a9.3 8.6 0 1 0 -18.6 0z"/>
<path fill="#ff271c" d="M1202.2 1145.1a9.3 8.6 0 1 0 18.6 0a9.3 8.6 0 1 0 -18.6 0zM1429.7 1145.1a9.3 8.6 0 1 0 18.6 0a9.3 8.6 0 1 0 -18.6 0zM1179.4 1221.9a9.3 8.6 0 1 0 18.6 0a9.3 8.6 0 1 0 -18.6 0zM1452.4 1221.9a9.3 8.6 0 1 0 18.6 0a9.3 8.6 0 1 0 -18.6 0zM1179.4 1298.7a9.3 8.6 0 1 0 18.6 0a9.3 8.6 0 1 0 -18.6 0zM1452.4 1298.7a9.3 8.6 0 1 0 18.6 0a9.3 8.6 0 1 0 -18.6 0zM1202.2 1375.5a9.3 8.6 0 1 0 18.6 0a9.3 8.6 0 1 0 -18.6 0zM1429.7 1375.5a9.3 8.6 0 1 0 18.6 0a9.3 8.6 0 1 0 -18.6 0z"/>
<path fill="#fc4525" d="M1224.9 1145.1a9.3 8.6 0 1 0 18.6 0a9.3 8.6 0 1 0 -18.6 0zM1406.9 1145.1a9.3 8.6 0 1 0 18.6 0a9.3 8.6 0 1 0 -18.6 0zM1224.9 1375.5a9.3 8.6 0 1 0 18.6 0a9.3 8.6 0 1 0 -18.6 0zM1406.9 1375.5a9.3 8.6 0 1 0 18.6 0a9.3 8.6 0 1 0 -18.6 0z"/>
<path fill="#f67530" d="M1247.7 1145.1a9.3 8.6 0 1 0 18.6 0a9.3 8.6 0 1 0 -18.6 0zM1384.2 1145.1a9.3 8.6 0 1 0 18.6 0a9.3 8.6 0 1 0 -18.6 0zM1247.7 1375.5a9.3 8.6 0 1 0 18.6 0a9.3 8.6 0 1 0 -18.6 0zM1384.2 1375.5a9.3 8.6 0 1 0 18.6 0a9.3 8.6 0 1 0 -18.6 0z"/>
<path fill="#f4b72e" d="M1270.4 1145.1a9.3 8.6 0 1 0 18.6 0a9.3 8.6 0 1 0 -18.6 0zM1361.4 1145.1a9.3 8.6 0 1 0 18.6 0a9.3 8.6 0 1 0 -18.6 0zM1270.4 1375.5a9.3 8.6 0 1 0 18.6 0a9.3 8.6 0 1 0 -18.6 0zM1361.4 1375.5a9.3 8.6 0 1 0 18.6 0a9.3 8.6 0 1 0 -18.6 0z"/>
<path fill="#efec09" d="M1293.2 1145.1a9.3 8.6 0 1 0 18.6 0a9.3 8.6 0 1 0 -18.6 0zM1338.7 1145.1a9.3 8.6 0 1 0 18.6 0a9.3 8.6 0 1 0 -18.6 0zM1293.2 1375.5a9.3 8.6 0 1 0 18.6 0a9.3 8.6 0 1 0 -18.6 0zM1338.7 1375.5a9.3 8.6 0 1 0 18.6 0a9.3 8.6 0 1 0 -18.6 0z"/>
<path fill="#a0f000" d="M1315.9 1145.1a9.3 8.6 0 1 0 18.6 0a9.3 8.6 0 1 0 -18.6 0zM1315.9 1375.5a9.3 8.6 0 1 0 18.6 0a9.3 8.6 0 1 0 -18.6 0z"/>
<path fill="#ff1814" d="M1168.0 1164.3a9.3 8.6 0 1 0 18.6 0a9.3 8.6 0 1 0 -18.6 0zM1463.8 1164.3a9.3 8.6 0 1 0 18.6 0a9.3 8.6 0 1 0 -18.6 0zM1168.0 1356.3a9.3 8.6 0 1 0 18.6 0a9.3 8.6 0 1 0 -18.6 0zM1463.8 1356.3a9.3 8.6 0 1 0 18.6 0a9.3 8.6 0 1 0 -18.6 0z"/>
<path fill="#ff251b" d="M1190.8 1164.3a9.3 8.6 0 1 0 18.6 0a9.3 8.6 0 1 0 -18.6 0zM1441.0 1164.3a9.3 8.6 0 1 0 18.6 0a9.3 8.6 0 1 0 -18.6 0zM1190.8 1356.3a9.3 8.6 0 1 0 18.6 0a9.3 8.6 0 1 0 -18.6 0zM1441.0 1356.3a9.3 8.6 0 1 0 18.6 0a9.3 8.6 0 1 0 -18.6 0z"/>
<path fill="#fd4224" d="M1213.5 1164.3a9.3 8.6 0 1 0 18.6 0a9.3 8.6 0 1 0 -18.6 0zM1418.3 1164.3a9.3 8.6 0 1 0 18.6 0a9.3 8.6 0 1 0 -18.6 0zM1213.5 1356.3a9.3 8.6 0 1 0 18.6 0a9.3 8.6 0 1 0 -18.6 0zM1418.3 1356.3a9.3 8.6 0 1 0 18.6 0a9.3 8.6 0 1 0 -18.6 0z"/>
<path fill="#f57530" d="M1236.3 1164.3a9.3 8.6 0 1 0 18.6 0a9.3 8.6 0 1 0 -18.6 0zM1395.5 1164.3a9.3 8.6 0 1 0 18.6 0a9.3 8.6 0 1 0 -18.6 0zM1236.3 1356.3a9.3 8.6 0 1 0 18.6 0a9.3 8.6 0 1 0 -18.6 0zM1395.5 1356.3a9.3 8.6 0 1 0 18.6 0a9.3 8.6 0 1 0 -18.6 0z"/>
<path fill="#f5be2e" d="M1259.0 1164.3a9.3 8.6 0 1 0 18.6 0a9.3 8.6 0 1 0 -18.6 0zM1372.8 1164.3a9.3 8.6 0 1 0 18.6 0a9.3 8.6 0 1 0 -18.6 0zM1259.0 1356.3a9.3 8.6 0 1 0 18.6 0a9.3 8.6 0 1 0 -18.6 0zM1372.8 1356.3a9.3 8.6 0 1 0 18.6 0a9.3 8.6 0 1 0 -18.6 0z"/>
<path fill="#daf200" d="M1281.8 1164.3a9.3 8.6 0 1 0 18.6 0a9.3 8.6 0 1 0 -18.6 0zM1350.0 1164.3a9.3 8.6 0 1 0 18.6 0a9.3 8.6 0 1 0 -18.6 0zM1281.8 1356.3a9.3 8.6 0 1 0 18.6 0a9.3 8.6 0 1 0 -18.6 0zM1350.0 1356.3a9.3 8.6 0 1 0 18.6 0a9.3 8.6 0 1 0 -18.6 0z"/>
<path fill="#6ff0f1" d="M1304.5 1164.3a9.3 8.6 0 1 0 18.6 0a9.3 8.6 0 1 0 -18.6 0zM1327.3 1164.3a9.3 8.6 0 1 0 18.6 0a9.3 8.6 0 1 0 -18.6 0zM1304.5 1356.3a9.3 8.6 0 1 0 18.6 0a9.3 8.6 0 1 0 -18.6 0zM1327.3 1356.3a9.3 8.6 0 1 0 18.6 0a9.3 8.6 0 1 0 -18.6 0z"/>
<path fill="#ff1512" d="M1156.7 1183.5a9.3 8.6 0 1 0 18.6 0a9.3 8.6 0 1 0 -18.6 0zM1475.2 1183.5a9.3 8.6 0 1 0 18.6 0a9.3 8.6 0 1 0 -18.6 0zM1156.7 1337.1a9.3 8.6 0 1 0 18.6 0a9.3 8.6 0 1 0 -18.6 0zM1475.2 1337.1a9.3 8.6 0 1 0 18.6 0a9.3 8.6 0 1 0 -18.6 0z"/>
<path fill="#ff2219" d="M1179.4 1183.5a9.3 8.6 0 1 0 18.6 0a9.3 8.6 0 1 0 -18.6 0zM1452.4 1183.5a9.3 8.6 0 1 0 18.6 0a9.3 8.6 0 1 0 -18.6 0zM1179.4 1337.1a9.3 8.6 0 1 0 18.6 0a9.3 8.6 0 1 0 -18.6 0zM1452.4 1337.1a9.3 8.6 0 1 0 18.6 0a9.3 8.6 0 1 0 -18.6 0z"/>
<path fill="#fd3c22" d="M1202.2 1183.5a9.3 8.6 0 1 0 18.6 0a9.3 8.6 0 1 0 -18.6 0zM1429.7 1183.5a9.3 8.6 0 1 0 18.6 0a9.3 8.6 0 1 0 -18.6 0zM1190.8 1241.1a9.3 8.6 0 1 0 18.6 0a9.3 8.6 0 1 0 -18.6 0zM1441.0 1241.1a9.3 8.6 0 1 0 18.6 0a9.3 8.6 0 1 0 -18.6 0zM1190.8 1279.5a9.3 8.6 0 1 0 18.6 0a9.3 8.6 0 1 0 -18.6 0zM1441.0 1279.5a9.3 8.6 0 1 0 18.6 0a9.3 8.6 0 1 0 -18.6 0zM1202.2 1337.1a9.3 8.6 0 1 0 18.6 0a9.3 8.6 0 1 0 -18.6 0zM1429.7 1337.1a9.3 8.6 0 1 0 18.6 0a9.3 8.6 0 1 0 -18.6 0z"/>
<path fill="#f66d2f" d="M1224.9 1183.5a9.3 8.6 0 1 0 18.6 0a9.3 8.6 0 1 0 -18.6 0zM1406.9 1183.5a9.3 8.6 0 1 0 18.6 0a9.3 8.6 0 1 0 -18.6 0zM1224.9 1337.1a9.3 8.6 0 1 0 18.6 0a9.3 8.6 0 1 0 -18.6 0zM1406.9 1337.1a9.3 8.6 0 1 0 18.6 0a9.3 8.6 0 1 0 -18.6 0z"/>
<path fill="#f4b52f" d="M1247.7 1183.5a9.3 8.6 0 1 0 18.6 0a9.3 8.6 0 1 0 -18.6 0zM1384.2 1183.5a9.3 8.6 0 1 0 18.6 0a9.3 8.6 0 1 0 -18.6 0zM1247.7 1337.1a9.3 8.6 0 1 0 18.6 0a9.3 8.6 0 1 0 -18.6 0zM1384.2 1337.1a9.3 8.6 0 1 0 18.6 0a9.3 8.6 0 1 0 -18.6 0z"/>
<path fill="#ebf200" d="M1270.4 1183.5a9.3 8.6 0 1 0 18.6 0a9.3 8.6 0 1 0 -18.6 0zM1361.4 1183.5a9.3 8.6 0 1 0 18.6 0a9.3 8.6 0 1 0 -18.6 0zM1270.4 1337.1a9.3 8.6 0 1 0 18.6 0a9.3 8.6 0 1 0 -18.6 0zM1361.4 1337.1a9.3 8.6 0 1 0 18.6 0a9.3 8.6 0 1 0 -18.6 0z"/>
<path fill="#6cf0ed" d="M1293.2 1183.5a9.3 8.6 0 1 0 18.6 0a9.3 8.6 0 1 0 -18.6 0zM1338.7 1183.5a9.3 8.6 0 1 0 18.6 0a9.3 8.6 0 1 0 -18.6 0zM1293.2 1337.1a9.3 8.6 0 1 0 18.6 0a9.3 8.6 0 1 0 -18.6 0zM1338.7 1337.1a9.3 8.6 0 1 0 18.6 0a9.3 8.6 0 1 0 -18.6 0z"/>
<path fill="#0a0af5" d="M1315.9 1183.5a9.3 8.6 0 1 0 18.6 0a9.3 8.6 0 1 0 -18.6 0zM1315.9 1221.9a9.3 8.6 0 1 0 18.6 0a9.3 8.6 0 1 0 -18.6 0zM1315.9 1260.3a9.3 8.6 0 1 0 18.6 0a9.3 8.6 0 1 0 -18.6 0zM1315.9 1298.7a9.3 8.6 0 1 0 18.6 0a9.3 8.6 0 1 0 -18.6 0zM1315.9 1337.1a9.3 8.6 0 1 0 18.6 0a9.3 8.6 0 1 0 -18.6 0z"/>
<path fill="#f95f2c" d="M1213.5 1202.7a9.3 8.6 0 1 0 18.6 0a9.3 8.6 0 1 0 -18.6 0zM1418.3 1202.7a9.3 8.6 0 1 0 18.6 0a9.3 8.6 0 1 0 -18.6 0zM1213.5 1317.9a9.3 8.6 0 1 0 18.6 0a9.3 8.6 0 1 0 -18.6 0zM1418.3 1317.9a9.3 8.6 0 1 0 18.6 0a9.3 8.6 0 1 0 -18.6 0z"/>
<path fill="#f3a231" d="M1236.3 1202.7a9.3 8.6 0 1 0 18.6 0a9.3 8.6 0 1 0 -18.6 0zM1395.5 1202.7a9.3 8.6 0 1 0 18.6 0a9.3 8.6 0 1 0 -18.6 0zM1236.3 1317.9a9.3 8.6 0 1 0 18.6 0a9.3 8.6 0 1 0 -18.6 0zM1395.5 1317.9a9.3 8.6 0 1 0 18.6 0a9.3 8.6 0 1 0 -18.6 0z"/>
<path fill="#f1ea0b" d="M1259.0 1202.7a9.3 8.6 0 1 0 18.6 0a9.3 8.6 0 1 0 -18.6 0zM1372.8 1202.7a9.3 8.6 0 1 0 18.6 0a9.3 8.6 0 1 0 -18.6 0zM1259.0 1317.9a9.3 8.6 0 1 0 18.6 0a9.3 8.6 0 1 0 -18.6 0zM1372.8 1317.9a9.3 8.6 0 1 0 18.6 0a9.3 8.6 0 1 0 -18.6 0z"/>
<path fill="#23eb5c" d="M1281.8 1202.7a9.3 8.6 0 1 0 18.6 0a9.3 8.6 0 1 0 -18.6 0zM1350.0 1202.7a9.3 8.6 0 1 0 18.6 0a9.3 8.6 0 1 0 -18.6 0zM1281.8 1317.9a9.3 8.6 0 1 0 18.6 0a9.3 8.6 0 1 0 -18.6 0zM1350.0 1317.9a9.3 8.6 0 1 0 18.6 0a9.3 8.6 0 1 0 -18.6 0z"/>
<path fill="#827ffb" d="M1304.5 1202.7a9.3 8.6 0 1 0 18.6 0a9.3 8.6 0 1 0 -18.6 0zM1327.3 1202.7a9.3 8.6 0 1 0 18.6 0a9.3 8.6 0 1 0 -18.6 0zM1304.5 1317.9a9.3 8.6 0 1 0 18.6 0a9.3 8.6 0 1 0 -18.6 0zM1327.3 1317.9a9.3 8.6 0 1 0 18.6 0a9.3 8.6 0 1 0 -18.6 0z"/>
<path fill="#ff1915" d="M1156.7 1221.9a9.3 8.6 0 1 0 18.6 0a9.3 8.6 0 1 0 -18.6 0zM1475.2 1221.9a9.3 8.6 0 1 0 18.6 0a9.3 8.6 0 1 0 -18.6 0zM1156.7 1298.7a9.3 8.6 0 1 0 18.6 0a9.3 8.6 0 1 0 -18.6 0zM1475.2 1298.7a9.3 8.6 0 1 0 18.6 0a9.3 8.6 0 1 0 -18.6 0z"/>
<path fill="#fb4c27" d="M1202.2 1221.9a9.3 8.6 0 1 0 18.6 0a9.3 8.6 0 1 0 -18.6 0zM1429.7 1221.9a9.3 8.6 0 1 0 18.6 0a9.3 8.6 0 1 0 -18.6 0zM1202.2 1298.7a9.3 8.6 0 1 0 18.6 0a9.3 8.6 0 1 0 -18.6 0zM1429.7 1298.7a9.3 8.6 0 1 0 18.6 0a9.3 8.6 0 1 0 -18.6 0z"/>
<path fill="#f38a31" d="M1224.9 1221.9a9.3 8.6 0 1 0 18.6 0a9.3 8.6 0 1 0 -18.6 0zM1406.9 1221.9a9.3 8.6 0 1 0 18.6 0a9.3 8.6 0 1 0 -18.6 0zM1224.9 1298.7a9.3 8.6 0 1 0 18.6 0a9.3 8.6 0 1 0 -18.6 0zM1406.9 1298.7a9.3 8.6 0 1 0 18.6 0a9.3 8.6 0 1 0 -18.6 0z"/>
<path fill="#f5d91c" d="M1247.7 1221.9a9.3 8.6 0 1 0 18.6 0a9.3 8.6 0 1 0 -18.6 0zM1384.2 1221.9a9.3 8.6 0 1 0 18.6 0a9.3 8.6 0 1 0 -18.6 0zM1247.7 1298.7a9.3 8.6 0 1 0 18.6 0a9.3 8.6 0 1 0 -18.6 0zM1384.2 1298.7a9.3 8.6 0 1 0 18.6 0a9.3 8.6 0 1 0 -18.6 0z"/>
<path fill="#31ec0f" d="M1270.4 1221.9a9.3 8.6 0 1 0 18.6 0a9.3 8.6 0 1 0 -18.6 0zM1361.4 1221.9a9.3 8.6 0 1 0 18.6 0a9.3 8.6 0 1 0 -18.6 0zM1270.4 1298.7a9.3 8.6 0 1 0 18.6 0a9.3 8.6 0 1 0 -18.6 0zM1361.4 1298.7a9.3 8.6 0 1 0 18.6 0a9.3 8.6 0 1 0 -18.6 0z"/>
<path fill="#75eff7" d="M1293.2 1221.9a9.3 8.6 0 1 0 18.6 0a9.3 8.6 0 1 0 -18.6 0zM1338.7 1221.9a9.3 8.6 0 1 0 18.6 0a9.3 8.6 0 1 0 -18.6 0zM1293.2 1298.7a9.3 8.6 0 1 0 18.6 0a9.3 8.6 0 1 0 -18.6 0zM1338.7 1298.7a9.3 8.6 0 1 0 18.6 0a9.3 8.6 0 1 0 -18.6 0z"/>
<path fill="#ff2119" d="M1168.0 1241.1a9.3 8.6 0 1 0 18.6 0a9.3 8.6 0 1 0 -18.6 0zM1463.8 1241.1a9.3 8.6 0 1 0 18.6 0a9.3 8.6 0 1 0 -18.6 0zM1168.0 1279.5a9.3 8.6 0 1 0 18.6 0a9.3 8.6 0 1 0 -18.6 0zM1463.8 1279.5a9.3 8.6 0 1 0 18.6 0a9.3 8.6 0 1 0 -18.6 0z"/>
<path fill="#f67030" d="M1213.5 1241.1a9.3 8.6 0 1 0 18.6 0a9.3 8.6 0 1 0 -18.6 0zM1418.3 1241.1a9.3 8.6 0 1 0 18.6 0a9.3 8.6 0 1 0 -18.6 0zM1213.5 1279.5a9.3 8.6 0 1 0 18.6 0a9.3 8.6 0 1 0 -18.6 0zM1418.3 1279.5a9.3 8.6 0 1 0 18.6 0a9.3 8.6 0 1 0 -18.6 0z"/>
<path fill="#f4ba2e" d="M1236.3 1241.1a9.3 8.6 0 1 0 18.6 0a9.3 8.6 0 1 0 -18.6 0zM1395.5 1241.1a9.3 8.6 0 1 0 18.6 0a9.3 8.6 0 1 0 -18.6 0zM1236.3 1279.5a9.3 8.6 0 1 0 18.6 0a9.3 8.6 0 1 0 -18.6 0zM1395.5 1279.5a9.3 8.6 0 1 0 18.6 0a9.3 8.6 0 1 0 -18.6 0z"/>
<path fill="#d8f200" d="M1259.0 1241.1a9.3 8.6 0 1 0 18.6 0a9.3 8.6 0 1 0 -18.6 0zM1372.8 1241.1a9.3 8.6 0 1 0 18.6 0a9.3 8.6 0 1 0 -18.6 0zM1259.0 1279.5a9.3 8.6 0 1 0 18.6 0a9.3 8.6 0 1 0 -18.6 0zM1372.8 1279.5a9.3 8.6 0 1 0 18.6 0a9.3 8.6 0 1 0 -18.6 0z"/>
<path fill="#64efdd" d="M1281.8 1241.1a9.3 8.6 0 1 0 18.6 0a9.3 8.6 0 1 0 -18.6 0zM1350.0 1241.1a9.3 8.6 0 1 0 18.6 0a9.3 8.6 0 1 0 -18.6 0zM1281.8 1279.5a9.3 8.6 0 1 0 18.6 0a9.3 8.6 0 1 0 -18.6 0zM1350.0 1279.5a9.3 8.6 0 1 0 18.6 0a9.3 8.6 0 1 0 -18.6 0z"/>
<path fill="#746ffa" d="M1304.5 1241.1a9.3 8.6 0 1 0 18.6 0a9.3 8.6 0 1 0 -18.6 0zM1327.3 1241.1a9.3 8.6 0 1 0 18.6 0a9.3 8.6 0 1 0 -18.6 0zM1304.5 1279.5a9.3 8.6 0 1 0 18.6 0a9.3 8.6 0 1 0 -18.6 0zM1327.3 1279.5a9.3 8.6 0 1 0 18.6 0a9.3 8.6 0 1 0 -18.6 0z"/>
<path fill="#ff2a1d" d="M1179.4 1260.3a9.3 8.6 0 1 0 18.6 0a9.3 8.6 0 1 0 -18.6 0zM1452.4 1260.3a9.3 8.6 0 1 0 18.6 0a9.3 8.6 0 1 0 -18.6 0z"/>
<path fill="#fa5329" d="M1202.2 1260.3a9.3 8.6 0 1 0 18.6 0a9.3 8.6 0 1 0 -18.6 0zM1429.7 1260.3a9.3 8.6 0 1 0 18.6 0a9.3 8.6 0 1 0 -18.6 0z"/>
<path fill="#f29332" d="M1224.9 1260.3a9.3 8.6 0 1 0 18.6 0a9.3 8.6 0 1 0 -18.6 0zM1406.9 1260.3a9.3 8.6 0 1 0 18.6 0a9.3 8.6 0 1 0 -18.6 0z"/>
<path fill="#f5e315" d="M1247.7 1260.3a9.3 8.6 0 1 0 18.6 0a9.3 8.6 0 1 0 -18.6 0zM1384.2 1260.3a9.3 8.6 0 1 0 18.6 0a9.3 8.6 0 1 0 -18.6 0z"/>
<path fill="#14eb25" d="M1270.4 1260.3a9.3 8.6 0 1 0 18.6 0a9.3 8.6 0 1 0 -18.6 0zM1361.4 1260.3a9.3 8.6 0 1 0 18.6 0a9.3 8.6 0 1 0 -18.6 0z"/>
<path fill="#76eef8" d="M1293.2 1260.3a9.3 8.6 0 1 0 18.6 0a9.3 8.6 0 1 0 -18.6 0zM1338.7 1260.3a9.3 8.6 0 1 0 18.6 0a9.3 8.6 0 1 0 -18.6 0z"/>
<path d="M1326.2 1153.3l15 12 6 14v162l-6 14 -15 12 -15 -12 -6 -14v-162l6 -14z" fill="#8284f6" opacity="0.92"/>
<path d="M1326.2 1159.3l4 17h9v168h-9l-4 17l-4 -17h-9v-168h9z" fill="#0c0cf0"/>
<path d="M1313.2 1193.3h26M1313.2 1212.8h26M1313.2 1232.3h26M1313.2 1251.8h26M1313.2 1271.3h26M1313.2 1290.8h26M1313.2 1310.3h26M1313.2 1329.8h26" stroke="#0606b0" stroke-width="2" opacity="0.55"/>
</g>
<rect x="1621.5" y="934.5" width="138" height="648.5" fill="#8a8e96"/>
<rect x="1624" y="937.5" width="134.5" height="644.5" fill="#7e848e"/>
<rect x="1626.5" y="939.5" width="128" height="638.5" fill="#909cb4"/>
<rect x="1629.5" y="942" width="122" height="25" fill="#98a8c4"/>
<linearGradient id="gradC" x1="0" y1="0" x2="0" y2="1"><stop offset="0" stop-color="#ff1000"/><stop offset="0.05" stop-color="#fa2406"/><stop offset="0.12" stop-color="#f05a1e"/><stop offset="0.186" stop-color="#e88c30"/><stop offset="0.233" stop-color="#f0b628"/><stop offset="0.272" stop-color="#fcd818"/><stop offset="0.319" stop-color="#cce820"/><stop offset="0.36" stop-color="#9cf018"/><stop offset="0.4" stop-color="#72f418"/><stop offset="0.472" stop-color="#50f830"/><stop offset="0.553" stop-color="#48f858"/><stop offset="0.619" stop-color="#58eca0"/><stop offset="0.666" stop-color="#68e4c8"/><stop offset="0.719" stop-color="#80d8f8"/><stop offset="0.786" stop-color="#80a8fc"/><stop offset="0.852" stop-color="#7676fc"/><stop offset="0.919" stop-color="#4646fc"/><stop offset="0.985" stop-color="#0808fc"/><stop offset="1" stop-color="#0000f8"/></linearGradient>
<rect x="1632.5" y="966.5" width="117" height="604" fill="#8a98c4" opacity="0.9"/>
<rect x="1637.3" y="968.3" width="107.2" height="598.6" fill="url(#gradC)"/>
<rect x="1637.3" y="968.3" width="107.2" height="5" fill="#e87070" opacity="0.8"/>
</g></g>
<text x="1685.6" y="990.6" text-anchor="middle" style="font-family:'Liberation Sans', Arial, Helvetica, sans-serif;font-size:22.5px">0.400</text>
<text x="1691.6" y="1286.6" text-anchor="middle" style="font-family:'Liberation Sans', Arial, Helvetica, sans-serif;font-size:22.5px">0.399</text>
<text x="1635.5" y="957.8" style="font-family:'Liberation Serif', 'Times New Roman', Times, serif;font-style:italic;font-size:25px">S<tspan dy="7.5" font-style="normal" font-size="17px">g</tspan></text>
<text transform="translate(942.7,938.1) scale(0.95,1)" style="font-family:'Liberation Sans', Arial, Helvetica, sans-serif;font-weight:bold;font-size:43.3px">C</text>
<text x="1030.6" y="1698.5" style="font-family:'Liberation Serif', 'Times New Roman', Times, serif;font-size:42.2px">Gas saturation calculated by Rubis software</text>
</g>
</svg>
</body></html>
